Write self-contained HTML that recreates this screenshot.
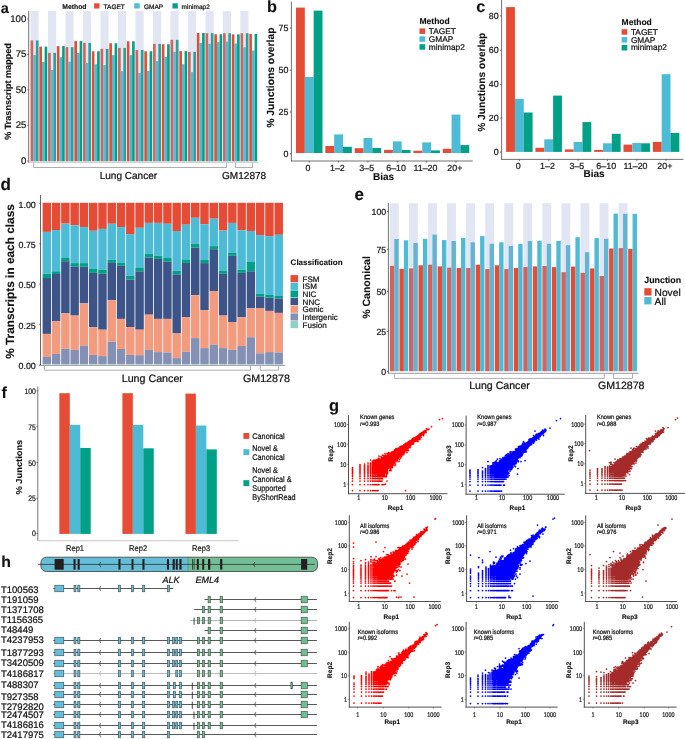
<!DOCTYPE html><html><head><meta charset="utf-8"><style>html,body{margin:0;padding:0;background:#fff;width:685px;height:739px;overflow:hidden}svg{display:block;will-change:transform;text-rendering:geometricPrecision;font-family:"Liberation Sans",sans-serif}</style></head><body><svg width="685" height="739" viewBox="0 0 685 739"><rect width="685" height="739" fill="#fff"/><text transform="translate(0.8 12.6)" font-size="14.5" font-weight="bold" text-anchor="start" fill="#111111" stroke="#111111" stroke-width="0.11">a</text><text transform="translate(62.3 8.6)" font-size="6.8" font-weight="bold" text-anchor="start" fill="#111111" stroke="#111111" stroke-width="0.11">Method</text><rect x="94.1" y="3.3" width="5.4" height="5.2" fill="#E64B35"/><text transform="translate(103.6 8.6)" font-size="6.5" text-anchor="start" fill="#111111" stroke="#111111" stroke-width="0.22">TAGET</text><rect x="134.3" y="3.3" width="5.4" height="5.2" fill="#4DBBD5"/><text transform="translate(144 8.6)" font-size="6.5" text-anchor="start" fill="#111111" stroke="#111111" stroke-width="0.22">GMAP</text><rect x="172.4" y="3.3" width="5.4" height="5.2" fill="#00A087"/><text transform="translate(181.6 8.6)" font-size="6.5" text-anchor="start" fill="#111111" stroke="#111111" stroke-width="0.22">minimap2</text><rect x="30.6" y="40.4" width="2.63" height="120.8" fill="#E64B35"/><rect x="33.23" y="55.1" width="2.63" height="106.1" fill="#4DBBD5"/><rect x="35.87" y="40.4" width="2.63" height="120.8" fill="#00A087"/><rect x="39.35" y="46.6" width="2.63" height="114.6" fill="#E64B35"/><rect x="41.98" y="62" width="2.63" height="99.2" fill="#4DBBD5"/><rect x="44.61" y="46.6" width="2.63" height="114.6" fill="#00A087"/><rect x="48.1" y="52.9" width="2.63" height="108.3" fill="#E64B35"/><rect x="50.73" y="69.9" width="2.63" height="91.3" fill="#4DBBD5"/><rect x="53.36" y="52.9" width="2.63" height="108.3" fill="#00A087"/><rect x="56.84" y="46.1" width="2.63" height="115.1" fill="#E64B35"/><rect x="59.48" y="57.2" width="2.63" height="104" fill="#4DBBD5"/><rect x="62.11" y="46.1" width="2.63" height="115.1" fill="#00A087"/><rect x="65.59" y="47.1" width="2.63" height="114.1" fill="#E64B35"/><rect x="68.23" y="61.7" width="2.63" height="99.5" fill="#4DBBD5"/><rect x="70.86" y="47.1" width="2.63" height="114.1" fill="#00A087"/><rect x="74.34" y="41.1" width="2.63" height="120.1" fill="#E64B35"/><rect x="76.97" y="52.9" width="2.63" height="108.3" fill="#4DBBD5"/><rect x="79.61" y="41.1" width="2.63" height="120.1" fill="#00A087"/><rect x="83.09" y="42.9" width="2.63" height="118.3" fill="#E64B35"/><rect x="85.72" y="62.9" width="2.63" height="98.3" fill="#4DBBD5"/><rect x="88.35" y="42.9" width="2.63" height="118.3" fill="#00A087"/><rect x="91.84" y="51.3" width="2.63" height="109.9" fill="#E64B35"/><rect x="94.47" y="64.2" width="2.63" height="97" fill="#4DBBD5"/><rect x="97.1" y="51.3" width="2.63" height="109.9" fill="#00A087"/><rect x="100.58" y="48.9" width="2.63" height="112.3" fill="#E64B35"/><rect x="103.22" y="65" width="2.63" height="96.2" fill="#4DBBD5"/><rect x="105.85" y="48.9" width="2.63" height="112.3" fill="#00A087"/><rect x="109.33" y="43.3" width="2.63" height="117.9" fill="#E64B35"/><rect x="111.97" y="55.1" width="2.63" height="106.1" fill="#4DBBD5"/><rect x="114.6" y="43.3" width="2.63" height="117.9" fill="#00A087"/><rect x="118.08" y="47.9" width="2.63" height="113.3" fill="#E64B35"/><rect x="120.71" y="71.2" width="2.63" height="90" fill="#4DBBD5"/><rect x="123.35" y="47.9" width="2.63" height="113.3" fill="#00A087"/><rect x="126.83" y="41.3" width="2.63" height="119.9" fill="#E64B35"/><rect x="129.46" y="55.1" width="2.63" height="106.1" fill="#4DBBD5"/><rect x="132.09" y="41.3" width="2.63" height="119.9" fill="#00A087"/><rect x="135.58" y="49.9" width="2.63" height="111.3" fill="#E64B35"/><rect x="138.21" y="72.9" width="2.63" height="88.3" fill="#4DBBD5"/><rect x="140.84" y="49.9" width="2.63" height="111.3" fill="#00A087"/><rect x="144.32" y="51.3" width="2.63" height="109.9" fill="#E64B35"/><rect x="146.96" y="70.9" width="2.63" height="90.3" fill="#4DBBD5"/><rect x="149.59" y="51.3" width="2.63" height="109.9" fill="#00A087"/><rect x="153.07" y="43.9" width="2.63" height="117.3" fill="#E64B35"/><rect x="155.71" y="61.2" width="2.63" height="100" fill="#4DBBD5"/><rect x="158.34" y="43.9" width="2.63" height="117.3" fill="#00A087"/><rect x="161.82" y="44.3" width="2.63" height="116.9" fill="#E64B35"/><rect x="164.45" y="56.8" width="2.63" height="104.4" fill="#4DBBD5"/><rect x="167.09" y="44.3" width="2.63" height="116.9" fill="#00A087"/><rect x="170.57" y="39.8" width="2.63" height="121.4" fill="#E64B35"/><rect x="173.2" y="51.9" width="2.63" height="109.3" fill="#4DBBD5"/><rect x="175.83" y="39.8" width="2.63" height="121.4" fill="#00A087"/><rect x="179.32" y="51.1" width="2.63" height="110.1" fill="#E64B35"/><rect x="181.95" y="64.2" width="2.63" height="97" fill="#4DBBD5"/><rect x="184.58" y="51.1" width="2.63" height="110.1" fill="#00A087"/><rect x="188.06" y="51.9" width="2.63" height="109.3" fill="#E64B35"/><rect x="190.7" y="72.1" width="2.63" height="89.1" fill="#4DBBD5"/><rect x="193.33" y="51.9" width="2.63" height="109.3" fill="#00A087"/><rect x="196.81" y="33" width="2.63" height="128.2" fill="#E64B35"/><rect x="199.45" y="43" width="2.63" height="118.2" fill="#4DBBD5"/><rect x="202.08" y="33" width="2.63" height="128.2" fill="#00A087"/><rect x="205.56" y="33.2" width="2.63" height="128" fill="#E64B35"/><rect x="208.19" y="43.8" width="2.63" height="117.4" fill="#4DBBD5"/><rect x="210.83" y="33.2" width="2.63" height="128" fill="#00A087"/><rect x="214.31" y="34.3" width="2.63" height="126.9" fill="#E64B35"/><rect x="216.94" y="42.2" width="2.63" height="119" fill="#4DBBD5"/><rect x="219.57" y="34.3" width="2.63" height="126.9" fill="#00A087"/><rect x="223.06" y="33.2" width="2.63" height="128" fill="#E64B35"/><rect x="225.69" y="41.6" width="2.63" height="119.6" fill="#4DBBD5"/><rect x="228.32" y="33.2" width="2.63" height="128" fill="#00A087"/><rect x="231.8" y="34.4" width="2.63" height="126.8" fill="#E64B35"/><rect x="234.44" y="43.5" width="2.63" height="117.7" fill="#4DBBD5"/><rect x="237.07" y="34.4" width="2.63" height="126.8" fill="#00A087"/><rect x="240.55" y="33.2" width="2.63" height="128" fill="#E64B35"/><rect x="243.19" y="47.4" width="2.63" height="113.8" fill="#4DBBD5"/><rect x="245.82" y="33.2" width="2.63" height="128" fill="#00A087"/><rect x="249.3" y="34" width="2.63" height="127.2" fill="#E64B35"/><rect x="251.93" y="50.6" width="2.63" height="110.6" fill="#4DBBD5"/><rect x="254.57" y="34" width="2.63" height="127.2" fill="#00A087"/><rect x="30.45" y="11" width="8.2" height="150.2" fill="rgba(150,165,210,0.28)"/><rect x="47.95" y="11" width="8.2" height="150.2" fill="rgba(150,165,210,0.28)"/><rect x="65.44" y="11" width="8.2" height="150.2" fill="rgba(150,165,210,0.28)"/><rect x="82.94" y="11" width="8.2" height="150.2" fill="rgba(150,165,210,0.28)"/><rect x="100.43" y="11" width="8.2" height="150.2" fill="rgba(150,165,210,0.28)"/><rect x="117.93" y="11" width="8.2" height="150.2" fill="rgba(150,165,210,0.28)"/><rect x="135.43" y="11" width="8.2" height="150.2" fill="rgba(150,165,210,0.28)"/><rect x="152.92" y="11" width="8.2" height="150.2" fill="rgba(150,165,210,0.28)"/><rect x="170.42" y="11" width="8.2" height="150.2" fill="rgba(150,165,210,0.28)"/><rect x="187.91" y="11" width="8.2" height="150.2" fill="rgba(150,165,210,0.28)"/><rect x="205.41" y="11" width="8.2" height="150.2" fill="rgba(150,165,210,0.28)"/><rect x="222.91" y="11" width="8.2" height="150.2" fill="rgba(150,165,210,0.28)"/><rect x="240.4" y="11" width="8.2" height="150.2" fill="rgba(150,165,210,0.28)"/><line x1="28.7" y1="10.8" x2="28.7" y2="162.6" stroke="#4d4d4d" stroke-width="0.8"/><line x1="28.3" y1="162.2" x2="258" y2="162.2" stroke="#b4b4b4" stroke-width="0.9"/><line x1="27.2" y1="19" x2="28.7" y2="19" stroke="#4d4d4d" stroke-width="0.8"/><text transform="translate(26.3 21.9)" font-size="9.6" text-anchor="end" fill="#1a1a1a" stroke="#1a1a1a" stroke-width="0.22">100</text><line x1="27.2" y1="54.4" x2="28.7" y2="54.4" stroke="#4d4d4d" stroke-width="0.8"/><text transform="translate(26.3 57.3)" font-size="9.6" text-anchor="end" fill="#1a1a1a" stroke="#1a1a1a" stroke-width="0.22">75</text><line x1="27.2" y1="89.8" x2="28.7" y2="89.8" stroke="#4d4d4d" stroke-width="0.8"/><text transform="translate(26.3 92.7)" font-size="9.6" text-anchor="end" fill="#1a1a1a" stroke="#1a1a1a" stroke-width="0.22">50</text><line x1="27.2" y1="125.4" x2="28.7" y2="125.4" stroke="#4d4d4d" stroke-width="0.8"/><text transform="translate(26.3 128.3)" font-size="9.6" text-anchor="end" fill="#1a1a1a" stroke="#1a1a1a" stroke-width="0.22">25</text><line x1="27.2" y1="161" x2="28.7" y2="161" stroke="#4d4d4d" stroke-width="0.8"/><text transform="translate(26.3 163.9)" font-size="9.6" text-anchor="end" fill="#1a1a1a" stroke="#1a1a1a" stroke-width="0.22">0</text><text transform="translate(11.36 91.5) rotate(-90)" font-size="9.05" font-weight="bold" text-anchor="middle" fill="#111111" stroke="#111111" stroke-width="0.11">% Trasnscript mapped</text><path d="M33.7 162.9V167.5H226.6V162.9M235.4 162.9V167.5H252.6V162.9" fill="none" stroke="#8c8c8c" stroke-width="0.7"/><text transform="translate(128.4 178.8)" font-size="10.05" text-anchor="middle" fill="#111111" stroke="#111111" stroke-width="0.22">Lung Cancer</text><text transform="translate(244.1 178.8)" font-size="10.05" text-anchor="middle" fill="#111111" stroke="#111111" stroke-width="0.22">GM12878</text><text transform="translate(267 12.4)" font-size="16.3" font-weight="bold" text-anchor="start" fill="#111111" stroke="#111111" stroke-width="0.11">b</text><rect x="296" y="7.6" width="8.83" height="145.4" fill="#E64B35"/><rect x="304.83" y="77" width="8.83" height="76" fill="#4DBBD5"/><rect x="313.66" y="10.6" width="8.83" height="142.4" fill="#00A087"/><line x1="309.25" y1="161" x2="309.25" y2="162.6" stroke="#4d4d4d" stroke-width="0.8"/><text transform="translate(308.05 170.9)" font-size="8.9" text-anchor="middle" fill="#1a1a1a" stroke="#1a1a1a" stroke-width="0.22">0</text><rect x="325.35" y="146" width="8.83" height="7" fill="#E64B35"/><rect x="334.18" y="134.4" width="8.83" height="18.6" fill="#4DBBD5"/><rect x="343.01" y="146.8" width="8.83" height="6.2" fill="#00A087"/><line x1="338.6" y1="161" x2="338.6" y2="162.6" stroke="#4d4d4d" stroke-width="0.8"/><text transform="translate(337.4 170.9)" font-size="8.9" text-anchor="middle" fill="#1a1a1a" stroke="#1a1a1a" stroke-width="0.22">1–2</text><rect x="354.7" y="148.2" width="8.83" height="4.8" fill="#E64B35"/><rect x="363.53" y="138" width="8.83" height="15" fill="#4DBBD5"/><rect x="372.36" y="148" width="8.83" height="5" fill="#00A087"/><line x1="367.94" y1="161" x2="367.94" y2="162.6" stroke="#4d4d4d" stroke-width="0.8"/><text transform="translate(366.75 170.9)" font-size="8.9" text-anchor="middle" fill="#1a1a1a" stroke="#1a1a1a" stroke-width="0.22">3–5</text><rect x="384.05" y="149.9" width="8.83" height="3.1" fill="#E64B35"/><rect x="392.88" y="141.4" width="8.83" height="11.6" fill="#4DBBD5"/><rect x="401.71" y="149.9" width="8.83" height="3.1" fill="#00A087"/><line x1="397.3" y1="161" x2="397.3" y2="162.6" stroke="#4d4d4d" stroke-width="0.8"/><text transform="translate(396.1 170.9)" font-size="8.9" text-anchor="middle" fill="#1a1a1a" stroke="#1a1a1a" stroke-width="0.22">6–10</text><rect x="413.4" y="150.7" width="8.83" height="2.3" fill="#E64B35"/><rect x="422.23" y="142.4" width="8.83" height="10.6" fill="#4DBBD5"/><rect x="431.06" y="150.4" width="8.83" height="2.6" fill="#00A087"/><line x1="426.64" y1="161" x2="426.64" y2="162.6" stroke="#4d4d4d" stroke-width="0.8"/><text transform="translate(425.44 170.9)" font-size="8.9" text-anchor="middle" fill="#1a1a1a" stroke="#1a1a1a" stroke-width="0.22">11–20</text><rect x="442.75" y="148.8" width="8.83" height="4.2" fill="#E64B35"/><rect x="451.58" y="114.6" width="8.83" height="38.4" fill="#4DBBD5"/><rect x="460.41" y="145.1" width="8.83" height="7.9" fill="#00A087"/><line x1="456" y1="161" x2="456" y2="162.6" stroke="#4d4d4d" stroke-width="0.8"/><text transform="translate(454.8 170.9)" font-size="8.9" text-anchor="middle" fill="#1a1a1a" stroke="#1a1a1a" stroke-width="0.22">20+</text><line x1="291.4" y1="1.6" x2="291.4" y2="161.4" stroke="#4d4d4d" stroke-width="0.8"/><line x1="291" y1="161" x2="472.8" y2="161" stroke="#4d4d4d" stroke-width="0.8"/><line x1="289.8" y1="153.8" x2="291.4" y2="153.8" stroke="#4d4d4d" stroke-width="0.8"/><text transform="translate(288.4 156.9)" font-size="8.9" text-anchor="end" fill="#1a1a1a" stroke="#1a1a1a" stroke-width="0.22">0</text><line x1="289.8" y1="112" x2="291.4" y2="112" stroke="#4d4d4d" stroke-width="0.8"/><text transform="translate(288.4 115.1)" font-size="8.9" text-anchor="end" fill="#1a1a1a" stroke="#1a1a1a" stroke-width="0.22">25</text><line x1="289.8" y1="70.2" x2="291.4" y2="70.2" stroke="#4d4d4d" stroke-width="0.8"/><text transform="translate(288.4 73.3)" font-size="8.9" text-anchor="end" fill="#1a1a1a" stroke="#1a1a1a" stroke-width="0.22">50</text><line x1="289.8" y1="28" x2="291.4" y2="28" stroke="#4d4d4d" stroke-width="0.8"/><text transform="translate(288.4 31.1)" font-size="8.9" text-anchor="end" fill="#1a1a1a" stroke="#1a1a1a" stroke-width="0.22">75</text><text transform="translate(274.11 77.6) rotate(-90)" font-size="10.3" font-weight="bold" text-anchor="middle" fill="#111111" stroke="#111111" stroke-width="0.11">% Junctions overlap</text><text transform="translate(383.5 180)" font-size="10" font-weight="bold" text-anchor="middle" fill="#111111" stroke="#111111" stroke-width="0.11">Bias</text><text transform="translate(419.5 24.1)" font-size="8.5" font-weight="bold" text-anchor="start" fill="#111111" stroke="#111111" stroke-width="0.11">Method</text><rect x="419.5" y="28.4" width="5.7" height="5.5" fill="#E64B35"/><text transform="translate(428.8 33.8)" font-size="8.3" text-anchor="start" fill="#111111" stroke="#111111" stroke-width="0.22">TAGET</text><rect x="419.5" y="36.3" width="5.7" height="5.5" fill="#4DBBD5"/><text transform="translate(428.8 41.7)" font-size="8.3" text-anchor="start" fill="#111111" stroke="#111111" stroke-width="0.22">GMAP</text><rect x="419.5" y="44.2" width="5.7" height="5.5" fill="#00A087"/><text transform="translate(428.8 49.6)" font-size="8.3" text-anchor="start" fill="#111111" stroke="#111111" stroke-width="0.22">minimap2</text><text transform="translate(476.2 12.3)" font-size="16.3" font-weight="bold" text-anchor="start" fill="#111111" stroke="#111111" stroke-width="0.11">c</text><rect x="506.1" y="7.1" width="8.83" height="144.8" fill="#E64B35"/><rect x="514.93" y="98.8" width="8.83" height="53.1" fill="#4DBBD5"/><rect x="523.76" y="112.5" width="8.83" height="39.4" fill="#00A087"/><line x1="519.35" y1="159.4" x2="519.35" y2="161" stroke="#4d4d4d" stroke-width="0.8"/><text transform="translate(518.14 168.5)" font-size="8.9" text-anchor="middle" fill="#1a1a1a" stroke="#1a1a1a" stroke-width="0.22">0</text><rect x="535.45" y="147.8" width="8.83" height="4.1" fill="#E64B35"/><rect x="544.28" y="139.3" width="8.83" height="12.6" fill="#4DBBD5"/><rect x="553.11" y="95.6" width="8.83" height="56.3" fill="#00A087"/><line x1="548.7" y1="159.4" x2="548.7" y2="161" stroke="#4d4d4d" stroke-width="0.8"/><text transform="translate(547.5 168.5)" font-size="8.9" text-anchor="middle" fill="#1a1a1a" stroke="#1a1a1a" stroke-width="0.22">1–2</text><rect x="564.8" y="149.4" width="8.83" height="2.5" fill="#E64B35"/><rect x="573.63" y="142" width="8.83" height="9.9" fill="#4DBBD5"/><rect x="582.46" y="122.1" width="8.83" height="29.8" fill="#00A087"/><line x1="578.05" y1="159.4" x2="578.05" y2="161" stroke="#4d4d4d" stroke-width="0.8"/><text transform="translate(576.85 168.5)" font-size="8.9" text-anchor="middle" fill="#1a1a1a" stroke="#1a1a1a" stroke-width="0.22">3–5</text><rect x="594.15" y="149.9" width="8.83" height="2" fill="#E64B35"/><rect x="602.98" y="143.3" width="8.83" height="8.6" fill="#4DBBD5"/><rect x="611.81" y="133.8" width="8.83" height="18.1" fill="#00A087"/><line x1="607.4" y1="159.4" x2="607.4" y2="161" stroke="#4d4d4d" stroke-width="0.8"/><text transform="translate(606.2 168.5)" font-size="8.9" text-anchor="middle" fill="#1a1a1a" stroke="#1a1a1a" stroke-width="0.22">6–10</text><rect x="623.5" y="144.6" width="8.83" height="7.3" fill="#E64B35"/><rect x="632.33" y="143" width="8.83" height="8.9" fill="#4DBBD5"/><rect x="641.16" y="143.3" width="8.83" height="8.6" fill="#00A087"/><line x1="636.75" y1="159.4" x2="636.75" y2="161" stroke="#4d4d4d" stroke-width="0.8"/><text transform="translate(635.54 168.5)" font-size="8.9" text-anchor="middle" fill="#1a1a1a" stroke="#1a1a1a" stroke-width="0.22">11–20</text><rect x="652.85" y="141.9" width="8.83" height="10" fill="#E64B35"/><rect x="661.68" y="74.2" width="8.83" height="77.7" fill="#4DBBD5"/><rect x="670.51" y="133" width="8.83" height="18.9" fill="#00A087"/><line x1="666.1" y1="159.4" x2="666.1" y2="161" stroke="#4d4d4d" stroke-width="0.8"/><text transform="translate(664.89 168.5)" font-size="8.9" text-anchor="middle" fill="#1a1a1a" stroke="#1a1a1a" stroke-width="0.22">20+</text><line x1="501.6" y1="0" x2="501.6" y2="159.8" stroke="#4d4d4d" stroke-width="0.8"/><line x1="501.2" y1="159.4" x2="683.4" y2="159.4" stroke="#4d4d4d" stroke-width="0.8"/><line x1="500" y1="152.1" x2="501.6" y2="152.1" stroke="#4d4d4d" stroke-width="0.8"/><text transform="translate(498.6 155.2)" font-size="8.9" text-anchor="end" fill="#1a1a1a" stroke="#1a1a1a" stroke-width="0.22">0</text><line x1="500" y1="118.1" x2="501.6" y2="118.1" stroke="#4d4d4d" stroke-width="0.8"/><text transform="translate(498.6 121.2)" font-size="8.9" text-anchor="end" fill="#1a1a1a" stroke="#1a1a1a" stroke-width="0.22">20</text><line x1="500" y1="84.3" x2="501.6" y2="84.3" stroke="#4d4d4d" stroke-width="0.8"/><text transform="translate(498.6 87.4)" font-size="8.9" text-anchor="end" fill="#1a1a1a" stroke="#1a1a1a" stroke-width="0.22">40</text><line x1="500" y1="50.3" x2="501.6" y2="50.3" stroke="#4d4d4d" stroke-width="0.8"/><text transform="translate(498.6 53.4)" font-size="8.9" text-anchor="end" fill="#1a1a1a" stroke="#1a1a1a" stroke-width="0.22">60</text><line x1="500" y1="15.8" x2="501.6" y2="15.8" stroke="#4d4d4d" stroke-width="0.8"/><text transform="translate(498.6 18.9)" font-size="8.9" text-anchor="end" fill="#1a1a1a" stroke="#1a1a1a" stroke-width="0.22">80</text><text transform="translate(484.67 82.3) rotate(-90)" font-size="10.2" font-weight="bold" text-anchor="middle" fill="#111111" stroke="#111111" stroke-width="0.11">% Junctions overlap</text><text transform="translate(594 177.4)" font-size="10" font-weight="bold" text-anchor="middle" fill="#111111" stroke="#111111" stroke-width="0.11">Bias</text><text transform="translate(621.6 24.9)" font-size="8.5" font-weight="bold" text-anchor="start" fill="#111111" stroke="#111111" stroke-width="0.11">Method</text><rect x="621.6" y="29.2" width="5.7" height="5.5" fill="#E64B35"/><text transform="translate(630.9 34.6)" font-size="8.3" text-anchor="start" fill="#111111" stroke="#111111" stroke-width="0.22">TAGET</text><rect x="621.6" y="37.1" width="5.7" height="5.5" fill="#4DBBD5"/><text transform="translate(630.9 42.5)" font-size="8.3" text-anchor="start" fill="#111111" stroke="#111111" stroke-width="0.22">GMAP</text><rect x="621.6" y="45" width="5.7" height="5.5" fill="#00A087"/><text transform="translate(630.9 50.4)" font-size="8.3" text-anchor="start" fill="#111111" stroke="#111111" stroke-width="0.22">minimap2</text><text transform="translate(0.5 190.1)" font-size="17" font-weight="bold" text-anchor="start" fill="#111111" stroke="#111111" stroke-width="0.11">d</text><rect x="42.6" y="202.8" width="8.45" height="29.1" fill="#E64B35"/><rect x="42.6" y="231.9" width="8.45" height="41.9" fill="#4DBBD5"/><rect x="42.6" y="273.8" width="8.45" height="4.2" fill="#00A087"/><rect x="42.6" y="278" width="8.45" height="55.9" fill="#3C5488"/><rect x="42.6" y="333.9" width="8.45" height="23.1" fill="#F39B7F"/><rect x="42.6" y="357" width="8.45" height="7.4" fill="#8491B4"/><rect x="42.6" y="363.9" width="8.45" height="0.5" fill="#91D1C2"/><rect x="51.88" y="202.8" width="8.45" height="27.2" fill="#E64B35"/><rect x="51.88" y="230" width="8.45" height="41.3" fill="#4DBBD5"/><rect x="51.88" y="271.3" width="8.45" height="2.7" fill="#00A087"/><rect x="51.88" y="274" width="8.45" height="47.1" fill="#3C5488"/><rect x="51.88" y="321.1" width="8.45" height="32.8" fill="#F39B7F"/><rect x="51.88" y="353.9" width="8.45" height="10.5" fill="#8491B4"/><rect x="51.88" y="363.9" width="8.45" height="0.5" fill="#91D1C2"/><rect x="61.15" y="202.8" width="8.45" height="20.8" fill="#E64B35"/><rect x="61.15" y="223.6" width="8.45" height="34.4" fill="#4DBBD5"/><rect x="61.15" y="258" width="8.45" height="3.2" fill="#00A087"/><rect x="61.15" y="261.2" width="8.45" height="52.2" fill="#3C5488"/><rect x="61.15" y="313.4" width="8.45" height="35.4" fill="#F39B7F"/><rect x="61.15" y="348.8" width="8.45" height="15.6" fill="#8491B4"/><rect x="61.15" y="363.9" width="8.45" height="0.5" fill="#91D1C2"/><rect x="70.43" y="202.8" width="8.45" height="22.5" fill="#E64B35"/><rect x="70.43" y="225.3" width="8.45" height="37.8" fill="#4DBBD5"/><rect x="70.43" y="263.1" width="8.45" height="3.6" fill="#00A087"/><rect x="70.43" y="266.7" width="8.45" height="48.9" fill="#3C5488"/><rect x="70.43" y="315.6" width="8.45" height="34.3" fill="#F39B7F"/><rect x="70.43" y="349.9" width="8.45" height="14.5" fill="#8491B4"/><rect x="70.43" y="363.9" width="8.45" height="0.5" fill="#91D1C2"/><rect x="79.7" y="202.8" width="8.45" height="24.3" fill="#E64B35"/><rect x="79.7" y="227.1" width="8.45" height="36" fill="#4DBBD5"/><rect x="79.7" y="263.1" width="8.45" height="3.6" fill="#00A087"/><rect x="79.7" y="266.7" width="8.45" height="36.7" fill="#3C5488"/><rect x="79.7" y="303.4" width="8.45" height="42.3" fill="#F39B7F"/><rect x="79.7" y="345.7" width="8.45" height="18.7" fill="#8491B4"/><rect x="79.7" y="363.9" width="8.45" height="0.5" fill="#91D1C2"/><rect x="88.98" y="202.8" width="8.45" height="28" fill="#E64B35"/><rect x="88.98" y="230.8" width="8.45" height="38.1" fill="#4DBBD5"/><rect x="88.98" y="268.9" width="8.45" height="4" fill="#00A087"/><rect x="88.98" y="272.9" width="8.45" height="54.2" fill="#3C5488"/><rect x="88.98" y="327.1" width="8.45" height="27.8" fill="#F39B7F"/><rect x="88.98" y="354.9" width="8.45" height="9.5" fill="#8491B4"/><rect x="88.98" y="363.9" width="8.45" height="0.5" fill="#91D1C2"/><rect x="98.26" y="202.8" width="8.45" height="26.1" fill="#E64B35"/><rect x="98.26" y="228.9" width="8.45" height="40.9" fill="#4DBBD5"/><rect x="98.26" y="269.8" width="8.45" height="4" fill="#00A087"/><rect x="98.26" y="273.8" width="8.45" height="55.9" fill="#3C5488"/><rect x="98.26" y="329.7" width="8.45" height="26.4" fill="#F39B7F"/><rect x="98.26" y="356.1" width="8.45" height="8.3" fill="#8491B4"/><rect x="98.26" y="363.9" width="8.45" height="0.5" fill="#91D1C2"/><rect x="107.53" y="202.8" width="8.45" height="21" fill="#E64B35"/><rect x="107.53" y="223.8" width="8.45" height="36" fill="#4DBBD5"/><rect x="107.53" y="259.8" width="8.45" height="3.1" fill="#00A087"/><rect x="107.53" y="262.9" width="8.45" height="37.2" fill="#3C5488"/><rect x="107.53" y="300.1" width="8.45" height="41.6" fill="#F39B7F"/><rect x="107.53" y="341.7" width="8.45" height="22.7" fill="#8491B4"/><rect x="107.53" y="363.9" width="8.45" height="0.5" fill="#91D1C2"/><rect x="116.81" y="202.8" width="8.45" height="24.3" fill="#E64B35"/><rect x="116.81" y="227.1" width="8.45" height="35.4" fill="#4DBBD5"/><rect x="116.81" y="262.5" width="8.45" height="3.3" fill="#00A087"/><rect x="116.81" y="265.8" width="8.45" height="53.1" fill="#3C5488"/><rect x="116.81" y="318.9" width="8.45" height="30.1" fill="#F39B7F"/><rect x="116.81" y="349" width="8.45" height="15.4" fill="#8491B4"/><rect x="116.81" y="363.9" width="8.45" height="0.5" fill="#91D1C2"/><rect x="126.08" y="202.8" width="8.45" height="31.3" fill="#E64B35"/><rect x="126.08" y="234.1" width="8.45" height="41.7" fill="#4DBBD5"/><rect x="126.08" y="275.8" width="8.45" height="3.7" fill="#00A087"/><rect x="126.08" y="279.5" width="8.45" height="47.6" fill="#3C5488"/><rect x="126.08" y="327.1" width="8.45" height="27.8" fill="#F39B7F"/><rect x="126.08" y="354.9" width="8.45" height="9.5" fill="#8491B4"/><rect x="126.08" y="363.9" width="8.45" height="0.5" fill="#91D1C2"/><rect x="135.36" y="202.8" width="8.45" height="25" fill="#E64B35"/><rect x="135.36" y="227.8" width="8.45" height="40.2" fill="#4DBBD5"/><rect x="135.36" y="268" width="8.45" height="3.3" fill="#00A087"/><rect x="135.36" y="271.3" width="8.45" height="58.4" fill="#3C5488"/><rect x="135.36" y="329.7" width="8.45" height="25.5" fill="#F39B7F"/><rect x="135.36" y="355.2" width="8.45" height="9.2" fill="#8491B4"/><rect x="135.36" y="363.9" width="8.45" height="0.5" fill="#91D1C2"/><rect x="144.64" y="202.8" width="8.45" height="20.1" fill="#E64B35"/><rect x="144.64" y="222.9" width="8.45" height="31" fill="#4DBBD5"/><rect x="144.64" y="253.9" width="8.45" height="3.7" fill="#00A087"/><rect x="144.64" y="257.6" width="8.45" height="57.1" fill="#3C5488"/><rect x="144.64" y="314.7" width="8.45" height="35.2" fill="#F39B7F"/><rect x="144.64" y="349.9" width="8.45" height="14.5" fill="#8491B4"/><rect x="144.64" y="363.9" width="8.45" height="0.5" fill="#91D1C2"/><rect x="153.91" y="202.8" width="8.45" height="20.1" fill="#E64B35"/><rect x="153.91" y="222.9" width="8.45" height="32.9" fill="#4DBBD5"/><rect x="153.91" y="255.8" width="8.45" height="3.1" fill="#00A087"/><rect x="153.91" y="258.9" width="8.45" height="60" fill="#3C5488"/><rect x="153.91" y="318.9" width="8.45" height="33.2" fill="#F39B7F"/><rect x="153.91" y="352.1" width="8.45" height="12.3" fill="#8491B4"/><rect x="153.91" y="363.9" width="8.45" height="0.5" fill="#91D1C2"/><rect x="163.19" y="202.8" width="8.45" height="21" fill="#E64B35"/><rect x="163.19" y="223.8" width="8.45" height="34.2" fill="#4DBBD5"/><rect x="163.19" y="258" width="8.45" height="3.6" fill="#00A087"/><rect x="163.19" y="261.6" width="8.45" height="57.3" fill="#3C5488"/><rect x="163.19" y="318.9" width="8.45" height="33.6" fill="#F39B7F"/><rect x="163.19" y="352.5" width="8.45" height="11.9" fill="#8491B4"/><rect x="163.19" y="363.9" width="8.45" height="0.5" fill="#91D1C2"/><rect x="172.46" y="202.8" width="8.45" height="28.2" fill="#E64B35"/><rect x="172.46" y="231" width="8.45" height="39.7" fill="#4DBBD5"/><rect x="172.46" y="270.7" width="8.45" height="3.7" fill="#00A087"/><rect x="172.46" y="274.4" width="8.45" height="59.1" fill="#3C5488"/><rect x="172.46" y="333.5" width="8.45" height="24.6" fill="#F39B7F"/><rect x="172.46" y="358.1" width="8.45" height="6.3" fill="#8491B4"/><rect x="172.46" y="363.9" width="8.45" height="0.5" fill="#91D1C2"/><rect x="181.74" y="202.8" width="8.45" height="21.9" fill="#E64B35"/><rect x="181.74" y="224.7" width="8.45" height="34.7" fill="#4DBBD5"/><rect x="181.74" y="259.4" width="8.45" height="3.5" fill="#00A087"/><rect x="181.74" y="262.9" width="8.45" height="54.2" fill="#3C5488"/><rect x="181.74" y="317.1" width="8.45" height="34.7" fill="#F39B7F"/><rect x="181.74" y="351.8" width="8.45" height="12.6" fill="#8491B4"/><rect x="181.74" y="363.9" width="8.45" height="0.5" fill="#91D1C2"/><rect x="191.02" y="202.8" width="8.45" height="15" fill="#E64B35"/><rect x="191.02" y="217.8" width="8.45" height="26.1" fill="#4DBBD5"/><rect x="191.02" y="243.9" width="8.45" height="3.7" fill="#00A087"/><rect x="191.02" y="247.6" width="8.45" height="47.6" fill="#3C5488"/><rect x="191.02" y="295.2" width="8.45" height="42.9" fill="#F39B7F"/><rect x="191.02" y="338.1" width="8.45" height="26.3" fill="#8491B4"/><rect x="191.02" y="363.9" width="8.45" height="0.5" fill="#91D1C2"/><rect x="200.29" y="202.8" width="8.45" height="21.4" fill="#E64B35"/><rect x="200.29" y="224.2" width="8.45" height="35.8" fill="#4DBBD5"/><rect x="200.29" y="260" width="8.45" height="3.1" fill="#00A087"/><rect x="200.29" y="263.1" width="8.45" height="47" fill="#3C5488"/><rect x="200.29" y="310.1" width="8.45" height="38" fill="#F39B7F"/><rect x="200.29" y="348.1" width="8.45" height="16.3" fill="#8491B4"/><rect x="200.29" y="363.9" width="8.45" height="0.5" fill="#91D1C2"/><rect x="209.57" y="202.8" width="8.45" height="15.9" fill="#E64B35"/><rect x="209.57" y="218.7" width="8.45" height="27.4" fill="#4DBBD5"/><rect x="209.57" y="246.1" width="8.45" height="3.1" fill="#00A087"/><rect x="209.57" y="249.2" width="8.45" height="41.8" fill="#3C5488"/><rect x="209.57" y="291" width="8.45" height="53.8" fill="#F39B7F"/><rect x="209.57" y="344.8" width="8.45" height="19.6" fill="#8491B4"/><rect x="209.57" y="363.9" width="8.45" height="0.5" fill="#91D1C2"/><rect x="218.84" y="202.8" width="8.45" height="27.8" fill="#E64B35"/><rect x="218.84" y="230.6" width="8.45" height="40.1" fill="#4DBBD5"/><rect x="218.84" y="270.7" width="8.45" height="3.1" fill="#00A087"/><rect x="218.84" y="273.8" width="8.45" height="41.8" fill="#3C5488"/><rect x="218.84" y="315.6" width="8.45" height="32.5" fill="#F39B7F"/><rect x="218.84" y="348.1" width="8.45" height="16.3" fill="#8491B4"/><rect x="218.84" y="363.9" width="8.45" height="0.5" fill="#91D1C2"/><rect x="228.12" y="202.8" width="8.45" height="20.1" fill="#E64B35"/><rect x="228.12" y="222.9" width="8.45" height="30.1" fill="#4DBBD5"/><rect x="228.12" y="253" width="8.45" height="2.8" fill="#00A087"/><rect x="228.12" y="255.8" width="8.45" height="66.2" fill="#3C5488"/><rect x="228.12" y="322" width="8.45" height="27.9" fill="#F39B7F"/><rect x="228.12" y="349.9" width="8.45" height="14.5" fill="#8491B4"/><rect x="228.12" y="363.9" width="8.45" height="0.5" fill="#91D1C2"/><rect x="237.4" y="202.8" width="8.45" height="27.4" fill="#E64B35"/><rect x="237.4" y="230.2" width="8.45" height="39.6" fill="#4DBBD5"/><rect x="237.4" y="269.8" width="8.45" height="3.1" fill="#00A087"/><rect x="237.4" y="272.9" width="8.45" height="44.2" fill="#3C5488"/><rect x="237.4" y="317.1" width="8.45" height="28.8" fill="#F39B7F"/><rect x="237.4" y="345.9" width="8.45" height="18.5" fill="#8491B4"/><rect x="237.4" y="363.9" width="8.45" height="0.5" fill="#91D1C2"/><rect x="246.67" y="202.8" width="8.45" height="28.2" fill="#E64B35"/><rect x="246.67" y="231" width="8.45" height="31" fill="#4DBBD5"/><rect x="246.67" y="262" width="8.45" height="9.3" fill="#00A087"/><rect x="246.67" y="271.3" width="8.45" height="37" fill="#3C5488"/><rect x="246.67" y="308.3" width="8.45" height="28.9" fill="#F39B7F"/><rect x="246.67" y="337.2" width="8.45" height="27.2" fill="#8491B4"/><rect x="246.67" y="363.9" width="8.45" height="0.5" fill="#91D1C2"/><rect x="255.95" y="202.8" width="8.45" height="32.3" fill="#E64B35"/><rect x="255.95" y="235.1" width="8.45" height="58.6" fill="#4DBBD5"/><rect x="255.95" y="293.7" width="8.45" height="2.8" fill="#00A087"/><rect x="255.95" y="296.5" width="8.45" height="11.5" fill="#3C5488"/><rect x="255.95" y="308" width="8.45" height="45.4" fill="#F39B7F"/><rect x="255.95" y="353.4" width="8.45" height="11" fill="#8491B4"/><rect x="255.95" y="363.9" width="8.45" height="0.5" fill="#91D1C2"/><rect x="265.22" y="202.8" width="8.45" height="33.3" fill="#E64B35"/><rect x="265.22" y="236.1" width="8.45" height="58.9" fill="#4DBBD5"/><rect x="265.22" y="295" width="8.45" height="2.7" fill="#00A087"/><rect x="265.22" y="297.7" width="8.45" height="13.2" fill="#3C5488"/><rect x="265.22" y="310.9" width="8.45" height="41.2" fill="#F39B7F"/><rect x="265.22" y="352.1" width="8.45" height="12.3" fill="#8491B4"/><rect x="265.22" y="363.9" width="8.45" height="0.5" fill="#91D1C2"/><rect x="274.5" y="202.8" width="8.45" height="32" fill="#E64B35"/><rect x="274.5" y="234.8" width="8.45" height="61.1" fill="#4DBBD5"/><rect x="274.5" y="295.9" width="8.45" height="2.7" fill="#00A087"/><rect x="274.5" y="298.6" width="8.45" height="14.3" fill="#3C5488"/><rect x="274.5" y="312.9" width="8.45" height="39.6" fill="#F39B7F"/><rect x="274.5" y="352.5" width="8.45" height="11.9" fill="#8491B4"/><rect x="274.5" y="363.9" width="8.45" height="0.5" fill="#91D1C2"/><line x1="40.5" y1="195" x2="40.5" y2="366" stroke="#666" stroke-width="1"/><line x1="39.2" y1="365.5" x2="285.2" y2="365.5" stroke="#a8a8a8" stroke-width="1"/><line x1="39.2" y1="203.4" x2="40.5" y2="203.4" stroke="#4d4d4d" stroke-width="0.8"/><text transform="translate(35.8 207.7)" font-size="8.9" text-anchor="end" fill="#1a1a1a" stroke="#1a1a1a" stroke-width="0.22">1.00</text><line x1="39.2" y1="243.7" x2="40.5" y2="243.7" stroke="#4d4d4d" stroke-width="0.8"/><text transform="translate(35.8 248)" font-size="8.9" text-anchor="end" fill="#1a1a1a" stroke="#1a1a1a" stroke-width="0.22">0.75</text><line x1="39.2" y1="284.1" x2="40.5" y2="284.1" stroke="#4d4d4d" stroke-width="0.8"/><text transform="translate(35.8 288.4)" font-size="8.9" text-anchor="end" fill="#1a1a1a" stroke="#1a1a1a" stroke-width="0.22">0.50</text><line x1="39.2" y1="324.5" x2="40.5" y2="324.5" stroke="#4d4d4d" stroke-width="0.8"/><text transform="translate(35.8 328.8)" font-size="8.9" text-anchor="end" fill="#1a1a1a" stroke="#1a1a1a" stroke-width="0.22">0.25</text><line x1="39.2" y1="364.9" x2="40.5" y2="364.9" stroke="#4d4d4d" stroke-width="0.8"/><text transform="translate(35.8 369.2)" font-size="8.9" text-anchor="end" fill="#1a1a1a" stroke="#1a1a1a" stroke-width="0.22">0.00</text><text transform="translate(14.27 281.5) rotate(-90)" font-size="11.85" font-weight="bold" text-anchor="middle" fill="#111111" stroke="#111111" stroke-width="0.11">% Transcripts in each class</text><path d="M44.4 365.8V370.2H250.5V365.8M260.2 365.8V370.2H278.6V365.8" fill="none" stroke="#8c8c8c" stroke-width="0.7"/><text transform="translate(152.3 381.8)" font-size="10.7" text-anchor="middle" fill="#111111" stroke="#111111" stroke-width="0.22">Lung Cancer</text><text transform="translate(266.4 381.8)" font-size="10.7" text-anchor="middle" fill="#111111" stroke="#111111" stroke-width="0.22">GM12878</text><text transform="translate(290.6 264.6)" font-size="8" font-weight="bold" text-anchor="start" fill="#111111" stroke="#111111" stroke-width="0.11">Classification</text><rect x="290.5" y="275.1" width="7.6" height="7.1" fill="#E64B35"/><text transform="translate(302.6 281.8)" font-size="8" text-anchor="start" fill="#111111" stroke="#111111" stroke-width="0.22">FSM</text><rect x="290.5" y="282.76" width="7.6" height="7.1" fill="#4DBBD5"/><text transform="translate(302.6 289.46)" font-size="8" text-anchor="start" fill="#111111" stroke="#111111" stroke-width="0.22">ISM</text><rect x="290.5" y="290.42" width="7.6" height="7.1" fill="#00A087"/><text transform="translate(302.6 297.12)" font-size="8" text-anchor="start" fill="#111111" stroke="#111111" stroke-width="0.22">NIC</text><rect x="290.5" y="298.08" width="7.6" height="7.1" fill="#3C5488"/><text transform="translate(302.6 304.78)" font-size="8" text-anchor="start" fill="#111111" stroke="#111111" stroke-width="0.22">NNC</text><rect x="290.5" y="305.74" width="7.6" height="7.1" fill="#F39B7F"/><text transform="translate(302.6 312.44)" font-size="8" text-anchor="start" fill="#111111" stroke="#111111" stroke-width="0.22">Genic</text><rect x="290.5" y="313.4" width="7.6" height="7.1" fill="#8491B4"/><text transform="translate(302.6 320.1)" font-size="8" text-anchor="start" fill="#111111" stroke="#111111" stroke-width="0.22">Intergenic</text><rect x="290.5" y="321.06" width="7.6" height="7.1" fill="#91D1C2"/><text transform="translate(302.6 327.76)" font-size="8" text-anchor="start" fill="#111111" stroke="#111111" stroke-width="0.22">Fusion</text><text transform="translate(354.5 199.8)" font-size="17" font-weight="bold" text-anchor="start" fill="#111111" stroke="#111111" stroke-width="0.11">e</text><rect x="389.95" y="265.8" width="4.38" height="105.4" fill="#E64B35"/><rect x="394.33" y="239" width="4.38" height="132.2" fill="#4DBBD5"/><rect x="399.48" y="268.9" width="4.38" height="102.3" fill="#E64B35"/><rect x="403.86" y="240.3" width="4.38" height="130.9" fill="#4DBBD5"/><rect x="409.01" y="268.4" width="4.38" height="102.8" fill="#E64B35"/><rect x="413.39" y="243" width="4.38" height="128.2" fill="#4DBBD5"/><rect x="418.54" y="265.3" width="4.38" height="105.9" fill="#E64B35"/><rect x="422.92" y="238.8" width="4.38" height="132.4" fill="#4DBBD5"/><rect x="428.07" y="264.7" width="4.38" height="106.5" fill="#E64B35"/><rect x="432.45" y="234.6" width="4.38" height="136.6" fill="#4DBBD5"/><rect x="437.6" y="266.4" width="4.38" height="104.8" fill="#E64B35"/><rect x="441.98" y="240.1" width="4.38" height="131.1" fill="#4DBBD5"/><rect x="447.13" y="267.7" width="4.38" height="103.5" fill="#E64B35"/><rect x="451.51" y="241" width="4.38" height="130.2" fill="#4DBBD5"/><rect x="456.66" y="268" width="4.38" height="103.2" fill="#E64B35"/><rect x="461.04" y="237.9" width="4.38" height="133.3" fill="#4DBBD5"/><rect x="466.19" y="268" width="4.38" height="103.2" fill="#E64B35"/><rect x="470.57" y="242.3" width="4.38" height="128.9" fill="#4DBBD5"/><rect x="475.72" y="264.7" width="4.38" height="106.5" fill="#E64B35"/><rect x="480.1" y="236.1" width="4.38" height="135.1" fill="#4DBBD5"/><rect x="485.25" y="269.1" width="4.38" height="102.1" fill="#E64B35"/><rect x="489.63" y="243.8" width="4.38" height="127.4" fill="#4DBBD5"/><rect x="494.78" y="265.3" width="4.38" height="105.9" fill="#E64B35"/><rect x="499.16" y="242.3" width="4.38" height="128.9" fill="#4DBBD5"/><rect x="504.31" y="269.1" width="4.38" height="102.1" fill="#E64B35"/><rect x="508.69" y="246" width="4.38" height="125.2" fill="#4DBBD5"/><rect x="513.84" y="268" width="4.38" height="103.2" fill="#E64B35"/><rect x="518.22" y="243.9" width="4.38" height="127.3" fill="#4DBBD5"/><rect x="523.37" y="267.1" width="4.38" height="104.1" fill="#E64B35"/><rect x="527.75" y="241" width="4.38" height="130.2" fill="#4DBBD5"/><rect x="532.9" y="266.4" width="4.38" height="104.8" fill="#E64B35"/><rect x="537.28" y="240.8" width="4.38" height="130.4" fill="#4DBBD5"/><rect x="542.43" y="266" width="4.38" height="105.2" fill="#E64B35"/><rect x="546.81" y="243.8" width="4.38" height="127.4" fill="#4DBBD5"/><rect x="551.96" y="267.1" width="4.38" height="104.1" fill="#E64B35"/><rect x="556.34" y="241" width="4.38" height="130.2" fill="#4DBBD5"/><rect x="561.49" y="272.2" width="4.38" height="99" fill="#E64B35"/><rect x="565.87" y="245.2" width="4.38" height="126" fill="#4DBBD5"/><rect x="571.02" y="266.6" width="4.38" height="104.6" fill="#E64B35"/><rect x="575.4" y="237.2" width="4.38" height="134" fill="#4DBBD5"/><rect x="580.55" y="272.8" width="4.38" height="98.4" fill="#E64B35"/><rect x="584.93" y="252.2" width="4.38" height="119" fill="#4DBBD5"/><rect x="590.08" y="268.4" width="4.38" height="102.8" fill="#E64B35"/><rect x="594.46" y="238.1" width="4.38" height="133.1" fill="#4DBBD5"/><rect x="599.61" y="276" width="4.38" height="95.2" fill="#E64B35"/><rect x="603.99" y="238.8" width="4.38" height="132.4" fill="#4DBBD5"/><rect x="609.14" y="248.5" width="4.38" height="122.7" fill="#E64B35"/><rect x="613.52" y="213.6" width="4.38" height="157.6" fill="#4DBBD5"/><rect x="618.67" y="248.1" width="4.38" height="123.1" fill="#E64B35"/><rect x="623.05" y="213.8" width="4.38" height="157.4" fill="#4DBBD5"/><rect x="628.2" y="248.9" width="4.38" height="122.3" fill="#E64B35"/><rect x="632.58" y="213.8" width="4.38" height="157.4" fill="#4DBBD5"/><rect x="389.85" y="203.2" width="8.95" height="168" fill="rgba(150,165,210,0.28)"/><rect x="408.91" y="203.2" width="8.95" height="168" fill="rgba(150,165,210,0.28)"/><rect x="427.97" y="203.2" width="8.95" height="168" fill="rgba(150,165,210,0.28)"/><rect x="447.03" y="203.2" width="8.95" height="168" fill="rgba(150,165,210,0.28)"/><rect x="466.09" y="203.2" width="8.95" height="168" fill="rgba(150,165,210,0.28)"/><rect x="485.15" y="203.2" width="8.95" height="168" fill="rgba(150,165,210,0.28)"/><rect x="504.21" y="203.2" width="8.95" height="168" fill="rgba(150,165,210,0.28)"/><rect x="523.27" y="203.2" width="8.95" height="168" fill="rgba(150,165,210,0.28)"/><rect x="542.33" y="203.2" width="8.95" height="168" fill="rgba(150,165,210,0.28)"/><rect x="561.39" y="203.2" width="8.95" height="168" fill="rgba(150,165,210,0.28)"/><rect x="580.45" y="203.2" width="8.95" height="168" fill="rgba(150,165,210,0.28)"/><rect x="599.51" y="203.2" width="8.95" height="168" fill="rgba(150,165,210,0.28)"/><rect x="618.57" y="203.2" width="8.95" height="168" fill="rgba(150,165,210,0.28)"/><line x1="388.4" y1="203" x2="388.4" y2="373.8" stroke="#4d4d4d" stroke-width="0.8"/><line x1="388.4" y1="373.3" x2="638.6" y2="373.3" stroke="#9a9a9a" stroke-width="1"/><line x1="386.8" y1="211.5" x2="388.4" y2="211.5" stroke="#4d4d4d" stroke-width="0.8"/><text transform="translate(386.2 215)" font-size="8.8" text-anchor="end" fill="#1a1a1a" stroke="#1a1a1a" stroke-width="0.22">100</text><line x1="386.8" y1="249.4" x2="388.4" y2="249.4" stroke="#4d4d4d" stroke-width="0.8"/><text transform="translate(386.2 252.9)" font-size="8.8" text-anchor="end" fill="#1a1a1a" stroke="#1a1a1a" stroke-width="0.22">75</text><line x1="386.8" y1="291.2" x2="388.4" y2="291.2" stroke="#4d4d4d" stroke-width="0.8"/><text transform="translate(386.2 294.7)" font-size="8.8" text-anchor="end" fill="#1a1a1a" stroke="#1a1a1a" stroke-width="0.22">50</text><line x1="386.8" y1="331.5" x2="388.4" y2="331.5" stroke="#4d4d4d" stroke-width="0.8"/><text transform="translate(386.2 335)" font-size="8.8" text-anchor="end" fill="#1a1a1a" stroke="#1a1a1a" stroke-width="0.22">25</text><line x1="386.8" y1="371.4" x2="388.4" y2="371.4" stroke="#4d4d4d" stroke-width="0.8"/><text transform="translate(386.2 374.9)" font-size="8.8" text-anchor="end" fill="#1a1a1a" stroke="#1a1a1a" stroke-width="0.22">0</text><text transform="translate(369.7 287.5) rotate(-90)" font-size="10.55" font-weight="bold" text-anchor="middle" fill="#111111" stroke="#111111" stroke-width="0.11">% Canonical</text><path d="M394.6 373.8V378.4H604.3V373.8M613.5 373.8V378.4H632.5V373.8" fill="none" stroke="#8c8c8c" stroke-width="0.7"/><text transform="translate(499.5 389.2)" font-size="10.6" text-anchor="middle" fill="#111111" stroke="#111111" stroke-width="0.22">Lung Cancer</text><text transform="translate(621.2 389.2)" font-size="10.6" text-anchor="middle" fill="#111111" stroke="#111111" stroke-width="0.22">GM12878</text><text transform="translate(644.2 283.3)" font-size="8.9" font-weight="bold" text-anchor="start" fill="#111111" stroke="#111111" stroke-width="0.11">Junction</text><rect x="644.3" y="288.2" width="7.2" height="7.3" fill="#E64B35"/><rect x="644.3" y="297.1" width="7.2" height="7.3" fill="#4DBBD5"/><text transform="translate(654.6 295.8)" font-size="10.2" text-anchor="start" fill="#111111" stroke="#111111" stroke-width="0.22">Novel</text><text transform="translate(654.6 304.7)" font-size="10.2" text-anchor="start" fill="#111111" stroke="#111111" stroke-width="0.22">All</text><text transform="translate(1.5 397.6)" font-size="16" font-weight="bold" text-anchor="start" fill="#111111" stroke="#111111" stroke-width="0.11">f</text><rect x="59.35" y="393.2" width="10.45" height="140.7" fill="#E64B35"/><rect x="69.8" y="424.8" width="10.45" height="109.1" fill="#4DBBD5"/><rect x="80.25" y="448" width="10.45" height="85.9" fill="#00A087"/><line x1="75.03" y1="541.3" x2="75.03" y2="542.3" stroke="#bbb" stroke-width="0.6"/><text transform="translate(75.03 551.2) scale(0.920 1)" font-size="8.2" text-anchor="middle" fill="#1a1a1a" stroke="#1a1a1a" stroke-width="0.22">Rep1</text><rect x="122.4" y="393.2" width="10.45" height="140.7" fill="#E64B35"/><rect x="132.85" y="424.8" width="10.45" height="109.1" fill="#4DBBD5"/><rect x="143.3" y="448.3" width="10.45" height="85.6" fill="#00A087"/><line x1="138.08" y1="541.3" x2="138.08" y2="542.3" stroke="#bbb" stroke-width="0.6"/><text transform="translate(138.08 551.2) scale(0.920 1)" font-size="8.2" text-anchor="middle" fill="#1a1a1a" stroke="#1a1a1a" stroke-width="0.22">Rep2</text><rect x="185.45" y="393.6" width="10.45" height="140.3" fill="#E64B35"/><rect x="195.9" y="425.5" width="10.45" height="108.4" fill="#4DBBD5"/><rect x="206.35" y="449.4" width="10.45" height="84.5" fill="#00A087"/><line x1="201.12" y1="541.3" x2="201.12" y2="542.3" stroke="#bbb" stroke-width="0.6"/><text transform="translate(201.12 551.2) scale(0.920 1)" font-size="8.2" text-anchor="middle" fill="#1a1a1a" stroke="#1a1a1a" stroke-width="0.22">Rep3</text><line x1="37.8" y1="386.5" x2="37.8" y2="540.6" stroke="#666" stroke-width="0.9"/><line x1="37.4" y1="540.6" x2="238.7" y2="540.6" stroke="#d2d2d2" stroke-width="1.4"/><line x1="36.4" y1="390.8" x2="37.8" y2="390.8" stroke="#4d4d4d" stroke-width="0.8"/><text transform="translate(35.9 393.7) scale(0.860 1)" font-size="8" text-anchor="end" fill="#1a1a1a" stroke="#1a1a1a" stroke-width="0.22">100</text><line x1="36.4" y1="426.6" x2="37.8" y2="426.6" stroke="#4d4d4d" stroke-width="0.8"/><text transform="translate(35.9 429.5) scale(0.860 1)" font-size="8" text-anchor="end" fill="#1a1a1a" stroke="#1a1a1a" stroke-width="0.22">75</text><line x1="36.4" y1="462.6" x2="37.8" y2="462.6" stroke="#4d4d4d" stroke-width="0.8"/><text transform="translate(35.9 465.5) scale(0.860 1)" font-size="8" text-anchor="end" fill="#1a1a1a" stroke="#1a1a1a" stroke-width="0.22">50</text><line x1="36.4" y1="498.3" x2="37.8" y2="498.3" stroke="#4d4d4d" stroke-width="0.8"/><text transform="translate(35.9 501.2) scale(0.860 1)" font-size="8" text-anchor="end" fill="#1a1a1a" stroke="#1a1a1a" stroke-width="0.22">25</text><line x1="36.4" y1="533.5" x2="37.8" y2="533.5" stroke="#4d4d4d" stroke-width="0.8"/><text transform="translate(35.9 536.4) scale(0.860 1)" font-size="8" text-anchor="end" fill="#1a1a1a" stroke="#1a1a1a" stroke-width="0.22">0</text><text transform="translate(21.81 467.1) rotate(-90) scale(1 0.930)" font-size="9.3" font-weight="bold" text-anchor="middle" fill="#111111" stroke="#111111" stroke-width="0.11">% Junctions</text><rect x="243.4" y="433" width="5.9" height="5.9" fill="#E64B35"/><rect x="243.4" y="449.2" width="5.9" height="5.9" fill="#4DBBD5"/><rect x="243.4" y="480.2" width="5.9" height="5.9" fill="#00A087"/><text transform="translate(252.3 438.5) scale(0.890 1)" font-size="8.2" text-anchor="start" fill="#111111" stroke="#111111" stroke-width="0.22">Canonical</text><text transform="translate(252.3 450.5) scale(0.890 1)" font-size="8.2" text-anchor="start" fill="#111111" stroke="#111111" stroke-width="0.22">Novel &amp;</text><text transform="translate(252.3 459.7) scale(0.890 1)" font-size="8.2" text-anchor="start" fill="#111111" stroke="#111111" stroke-width="0.22">Canonical</text><text transform="translate(252.3 472.8) scale(0.890 1)" font-size="8.2" text-anchor="start" fill="#111111" stroke="#111111" stroke-width="0.22">Novel &amp;</text><text transform="translate(252.3 482) scale(0.890 1)" font-size="8.2" text-anchor="start" fill="#111111" stroke="#111111" stroke-width="0.22">Canonical &amp;</text><text transform="translate(252.3 491.2) scale(0.890 1)" font-size="8.2" text-anchor="start" fill="#111111" stroke="#111111" stroke-width="0.22">Supported</text><text transform="translate(252.3 500.3) scale(0.890 1)" font-size="8.2" text-anchor="start" fill="#111111" stroke="#111111" stroke-width="0.22">ByShortRead</text><text transform="translate(329 410.7)" font-size="16.5" font-weight="bold" text-anchor="start" fill="#111111" stroke="#111111" stroke-width="0.11">g</text><path d="M442.5 418.5h0M439.5 419.5h0M431.5 426.5h0M426.5 428.5h0M427 429h0M429 429h0M427.5 429.5H428M425 430.5h0M426 430.5h0M424 431H425M426 431h0M423.5 431.5H424M425.5 431.5h0M423 432H424M422 432.5H422.5M424 432.5H424.5M426 432.5h0M421 433H422.5M423.5 433H424M420.5 433.5H421M422 433.5H424M419.5 434H420M422.5 434h0M423.5 434h0M420.5 434.5H421M422 434.5h0M418.5 435H419.5M420.5 435H421.5M423.5 435h0M418 435.5h0M419 435.5h0M420 435.5h0M423.5 435.5h0M418 436H420M421 436h0M416.5 436.5h0M417.5 436.5H418.5M420 436.5H420.5M416 437h0M417 437H419.5M415 437.5H418.5M421 437.5h0M413.5 438h0M415 438H415.5M416.5 438H418.5M412.5 438.5h0M415 438.5H417M418 438.5h0M419.5 438.5h0M413 439h0M414 439H414.5M415.5 439H416.5M420 439h0M412 439.5H413.5M414.5 439.5H416M417 439.5h0M418 439.5h0M419 439.5h0M411.5 440H415.5M416.5 440H417M410 440.5h0M412 440.5H415M410 441H414M415.5 441h0M417 441h0M408.5 441.5h0M409.5 441.5h0M410.5 441.5H411M412 441.5H414.5M418 441.5h0M409.5 442H413.5M407.5 442.5H409M410 442.5H412.5M406 443h0M407.5 443H408M409 443H413M405.5 443.5h0M407.5 443.5H409.5M410.5 443.5h0M411.5 443.5H412M413 443.5H413.5M405 444h0M406 444H407M408 444H411.5M412.5 444H413M404 444.5h0M405 444.5H406M407 444.5H411M405.5 445H411M403 445.5H408.5M409.5 445.5H410M401.5 446h0M402.5 446H406M407 446H409M410 446h0M400 446.5H401M402.5 446.5h0M403.5 446.5H409.5M410.5 446.5h0M402.5 447H407.5M408.5 447H409M400.5 447.5H401M402.5 447.5H408.5M409.5 447.5H410M398.5 448H399M400 448H401M402 448H407M396 448.5h0M397.5 448.5h0M398.5 448.5h0M400 448.5h0M401 448.5H407M408 448.5h0M398 449h0M399 449h0M400 449H405.5M406.5 449h0M408 449h0M395.5 449.5h0M397 449.5h0M398.5 449.5H405M406 449.5H406.5M394.5 450h0M397.5 450H405.5M406.5 450h0M395.5 450.5h0M397 450.5H404M405 450.5h0M406.5 450.5H407M408.5 450.5h0M395 451H404.5M393 451.5H394M396.5 451.5H403M404 451.5H404.5M391.5 452h0M393 452H402M403 452h0M404 452H405M388.5 452.5h0M391.5 452.5h0M393 452.5h0M394 452.5H401.5M402.5 452.5h0M403.5 452.5h0M407 452.5h0M389.5 453H390M392.5 453H402.5M385 453.5h0M387 453.5h0M390 453.5h0M391 453.5H391.5M392.5 453.5H401.5M402.5 453.5h0M404 453.5h0M388.5 454H402M403 454h0M389 454.5h0M390 454.5H391.5M392.5 454.5H400M401 454.5H401.5M403.5 454.5h0M382.5 455h0M385.5 455h0M387.5 455h0M389 455h0M390 455H399.5M400.5 455h0M401.5 455H402M383 455.5h0M384 455.5h0M387.5 455.5h0M388.5 455.5H390M391 455.5H399M400 455.5h0M379 456h0M386.5 456h0M387.5 456H399.5M381 456.5h0M385 456.5h0M387 456.5H399M401.5 456.5h0M384 457H384.5M385.5 457h0M387 457H397.5M400 457h0M382 457.5h0M385 457.5H385.5M386.5 457.5H389M390 457.5H395.5M396.5 457.5h0M379 458h0M382 458h0M383 458h0M384 458h0M385 458H385.5M387 458H398.5M400.5 458h0M379 458.5h0M381 458.5h0M383 458.5h0M384 458.5h0M385 458.5H385.5M386.5 458.5H396.5M397.5 458.5h0M378 459h0M382 459H383M384 459H385.5M386.5 459H396.5M377 459.5h0M379 459.5h0M381 459.5h0M382 459.5H383M384 459.5H385.5M386.5 459.5H395M396 459.5h0M397.5 459.5h0M399.5 459.5h0M370.5 460h0M374 460h0M375.5 460h0M377 460h0M378 460h0M379 460h0M380 460h0M382 460H383M384 460H385.5M386.5 460H391.5M392.5 460H395.5M397.5 460h0M374 460.5h0M377 460.5h0M379 460.5h0M380 460.5h0M381 460.5h0M382 460.5H383M384 460.5H385.5M386.5 460.5H393M394 460.5H394.5M395.5 460.5h0M397 460.5h0M372.5 461h0M375.5 461h0M377 461h0M378 461h0M379 461h0M380 461h0M381 461h0M382 461H383M384 461H385.5M386.5 461H394M395 461h0M372.5 461.5h0M375.5 461.5h0M379 461.5h0M380 461.5h0M381 461.5h0M382 461.5H383M384 461.5H385.5M386.5 461.5H389M390 461.5H394.5M397 461.5h0M399 461.5h0M372.5 462h0M374 462h0M375.5 462h0M377 462h0M378 462h0M379 462h0M380 462h0M381 462h0M382 462H383M384 462H385.5M386.5 462H392M393 462h0M394 462H395M377 462.5h0M378 462.5h0M379 462.5h0M380 462.5h0M381 462.5h0M382 462.5H383M384 462.5H385.5M386.5 462.5H392M393 462.5h0M394.5 462.5h0M368 463h0M370.5 463h0M372.5 463h0M374 463h0M375.5 463h0M377 463h0M378 463h0M379 463h0M380 463h0M381 463h0M382 463H383M384 463H385.5M386.5 463H393.5M370.5 463.5h0M372.5 463.5h0M374 463.5h0M375.5 463.5h0M377 463.5h0M378 463.5h0M379 463.5h0M380 463.5h0M381 463.5h0M382 463.5H383M384 463.5H385.5M386.5 463.5H390.5M392.5 463.5H393M394 463.5h0M364.5 464h0M370.5 464h0M372.5 464h0M374 464h0M375.5 464h0M377 464h0M378 464h0M379 464h0M380 464h0M381 464h0M382 464H383M384 464H385.5M386.5 464H390M391 464H391.5M395.5 464h0M360 464.5h0M370.5 464.5h0M372.5 464.5h0M374 464.5h0M375.5 464.5h0M377 464.5h0M378 464.5h0M379 464.5h0M380 464.5h0M381 464.5h0M382 464.5H383M384 464.5H385.5M386.5 464.5H387.5M389 464.5h0M390 464.5H391.5M392.5 464.5h0M393.5 464.5h0M360 465h0M368 465h0M370.5 465h0M372.5 465h0M374 465h0M375.5 465h0M377 465h0M378 465h0M379 465h0M380 465h0M381 465h0M382 465H383M384 465H385.5M386.5 465H388.5M389.5 465H391M392 465H393M364.5 465.5h0M368 465.5h0M370.5 465.5h0M372.5 465.5h0M374 465.5h0M375.5 465.5h0M377 465.5h0M378 465.5h0M379 465.5h0M380 465.5h0M381 465.5h0M382 465.5H383M384 465.5H385.5M386.5 465.5H390M391 465.5h0M392 465.5H392.5M395 465.5h0M360 466h0M364.5 466h0M368 466h0M370.5 466h0M372.5 466h0M374 466h0M375.5 466h0M377 466h0M378 466h0M379 466h0M380 466h0M381 466h0M382 466H383M384 466H385.5M386.5 466H388M389 466H390M391.5 466h0M360 466.5h0M364.5 466.5h0M368 466.5h0M370.5 466.5h0M372.5 466.5h0M374 466.5h0M375.5 466.5h0M377 466.5h0M378 466.5h0M379 466.5h0M380 466.5h0M381 466.5h0M382 466.5H383M384 466.5H385.5M386.5 466.5H387.5M389.5 466.5H391.5M392.5 466.5h0M364.5 467h0M368 467h0M370.5 467h0M372.5 467h0M374 467h0M375.5 467h0M377 467h0M378 467h0M379 467h0M380 467h0M381 467h0M382 467H383M384 467H385.5M386.5 467H388M390 467h0M391.5 467h0M352.5 467.5h0M360 467.5h0M364.5 467.5h0M368 467.5h0M370.5 467.5h0M372.5 467.5h0M374 467.5h0M375.5 467.5h0M377 467.5h0M378 467.5h0M379 467.5h0M380 467.5h0M381 467.5h0M382 467.5H383M384 467.5H385.5M386.5 467.5H389M390.5 467.5h0M392.5 467.5h0M352.5 468h0M360 468h0M364.5 468h0M368 468h0M370.5 468h0M372.5 468h0M374 468h0M375.5 468h0M377 468h0M378 468h0M379 468h0M380 468h0M381 468h0M382 468H383M384 468H385.5M386.5 468h0M387.5 468H388.5M390.5 468h0M352.5 469h0M360 469h0M364.5 469h0M368 469h0M370.5 469h0M372.5 469h0M374 469h0M375.5 469h0M377 469h0M378 469h0M379 469h0M380 469h0M381 469h0M382 469H383M384 469H385.5M386.5 469H387M390 469h0M391 469h0M352.5 469.5h0M360 469.5h0M364.5 469.5h0M368 469.5h0M370.5 469.5h0M372.5 469.5h0M374 469.5h0M375.5 469.5h0M377 469.5h0M378 469.5h0M379 469.5h0M380 469.5h0M381 469.5h0M382 469.5H383M384 469.5H385.5M387 469.5H387.5M352.5 470.5h0M360 470.5h0M364.5 470.5h0M368 470.5h0M370.5 470.5h0M372.5 470.5h0M374 470.5h0M375.5 470.5h0M377 470.5h0M378 470.5h0M379 470.5h0M380 470.5h0M381 470.5h0M382 470.5H383M384 470.5H385.5M387 470.5h0M389.5 470.5h0M391 470.5h0M352.5 471.5h0M360 471.5h0M364.5 471.5h0M368 471.5h0M370.5 471.5h0M372.5 471.5h0M374 471.5h0M375.5 471.5h0M377 471.5h0M378 471.5h0M379 471.5h0M380 471.5h0M381 471.5h0M382 471.5H383M384 471.5H385.5M386.5 471.5H387.5M352.5 472.5h0M360 472.5h0M364.5 472.5h0M368 472.5h0M370.5 472.5h0M372.5 472.5h0M374 472.5h0M375.5 472.5h0M377 472.5h0M378 472.5h0M379 472.5h0M380 472.5h0M381 472.5h0M382 472.5H383M384 472.5h0M385 472.5H385.5M387.5 472.5h0M352.5 473.5h0M360 473.5h0M364.5 473.5h0M368 473.5h0M370.5 473.5h0M372.5 473.5h0M374 473.5h0M375.5 473.5h0M377 473.5h0M378 473.5h0M379 473.5h0M380 473.5h0M381 473.5h0M382 473.5H383M384 473.5H384.5M386.5 473.5h0M387.5 473.5h0M352.5 475h0M360 475h0M364.5 475h0M368 475h0M370.5 475h0M372.5 475h0M374 475h0M375.5 475h0M377 475h0M378 475h0M379 475h0M380 475h0M381 475h0M382 475H383M384 475H384.5M386.5 475h0M352.5 476.5h0M360 476.5h0M364.5 476.5h0M368 476.5h0M370.5 476.5h0M372.5 476.5h0M374 476.5h0M375.5 476.5h0M377 476.5h0M378 476.5h0M379 476.5h0M380 476.5h0M381 476.5h0M382 476.5H382.5M384 476.5H384.5M385.5 476.5h0M386.5 476.5h0M352.5 478.5h0M360 478.5h0M364.5 478.5h0M368 478.5h0M370.5 478.5h0M372.5 478.5h0M374 478.5h0M375.5 478.5h0M377 478.5h0M378 478.5h0M379 478.5h0M380 478.5h0M381 478.5h0M382 478.5H382.5M352.5 481h0M360 481h0M364.5 481h0M368 481h0M370.5 481h0M372.5 481h0M374 481h0M375.5 481h0M377 481h0M378 481h0M379 481h0M380 481h0M381 481h0M382 481h0M387 481h0M385.5 484h0M352.5 484.5h0M360 484.5h0M364.5 484.5h0M368 484.5h0M370.5 484.5h0M372.5 484.5h0M374 484.5h0M375.5 484.5h0M377 484.5h0M378 484.5h0M379 484.5h0M382 484.5H382.5M384 484.5h0M352.5 490.5h0M360 490.5h0M364.5 490.5h0M368 490.5h0M370.5 490.5h0M372.5 490.5h0M374 490.5h0M375.5 490.5h0M377 490.5h0M378 490.5h0M405.5 490.5h0" stroke="#FF0000" stroke-width="1.75" stroke-linecap="round" fill="none"/><line x1="348.5" y1="415.2" x2="348.5" y2="494.2" stroke="#505050" stroke-width="1"/><line x1="348" y1="493.7" x2="447.4" y2="493.7" stroke="#505050" stroke-width="1"/><line x1="347" y1="424.5" x2="348.5" y2="424.5" stroke="#4d4d4d" stroke-width="0.6"/><text transform="translate(346.3 426.9) scale(0.810 1)" font-size="6.8" text-anchor="end" fill="#1a1a1a" stroke="#1a1a1a" stroke-width="0.22">1000</text><line x1="347" y1="444.3" x2="348.5" y2="444.3" stroke="#4d4d4d" stroke-width="0.6"/><text transform="translate(346.3 446.7) scale(0.810 1)" font-size="6.8" text-anchor="end" fill="#1a1a1a" stroke="#1a1a1a" stroke-width="0.22">100</text><line x1="347" y1="464.3" x2="348.5" y2="464.3" stroke="#4d4d4d" stroke-width="0.6"/><text transform="translate(346.3 466.7) scale(0.810 1)" font-size="6.8" text-anchor="end" fill="#1a1a1a" stroke="#1a1a1a" stroke-width="0.22">10</text><line x1="347" y1="484.1" x2="348.5" y2="484.1" stroke="#4d4d4d" stroke-width="0.6"/><text transform="translate(346.3 486.5) scale(0.810 1)" font-size="6.8" text-anchor="end" fill="#1a1a1a" stroke="#1a1a1a" stroke-width="0.22">1</text><line x1="358.9" y1="493.7" x2="358.9" y2="495.2" stroke="#4d4d4d" stroke-width="0.6"/><text transform="translate(358.9 499.7) scale(0.810 1)" font-size="6.8" text-anchor="middle" fill="#1a1a1a" stroke="#1a1a1a" stroke-width="0.22">1</text><line x1="384.8" y1="493.7" x2="384.8" y2="495.2" stroke="#4d4d4d" stroke-width="0.6"/><text transform="translate(384.8 499.7) scale(0.810 1)" font-size="6.8" text-anchor="middle" fill="#1a1a1a" stroke="#1a1a1a" stroke-width="0.22">10</text><line x1="410.6" y1="493.7" x2="410.6" y2="495.2" stroke="#4d4d4d" stroke-width="0.6"/><text transform="translate(410.6 499.7) scale(0.810 1)" font-size="6.8" text-anchor="middle" fill="#1a1a1a" stroke="#1a1a1a" stroke-width="0.22">100</text><line x1="435.6" y1="493.7" x2="435.6" y2="495.2" stroke="#4d4d4d" stroke-width="0.6"/><text transform="translate(435.6 499.7) scale(0.810 1)" font-size="6.8" text-anchor="middle" fill="#1a1a1a" stroke="#1a1a1a" stroke-width="0.22">1000</text><text transform="translate(395.5 509.9)" font-size="6.4" font-weight="bold" text-anchor="middle" fill="#111111" stroke="#111111" stroke-width="0.11">Rep1</text><text transform="translate(333.21 453.5) rotate(-90)" font-size="6.7" font-weight="bold" text-anchor="middle" fill="#111111" stroke="#111111" stroke-width="0.11">Rep2</text><text transform="translate(360.1 419.2) scale(0.900 1)" font-size="6.3" text-anchor="start" fill="#111111" stroke="#111111" stroke-width="0.22">Known genes</text><text transform="translate(360.1 426) scale(0.9 1)" font-size="6.3" fill="#111111" stroke="#111111" stroke-width="0.22"><tspan font-style="italic">r</tspan>=0.993</text><path d="M560.5 418.5h0M556.5 420.5h0M550 428h0M545 429h0M542.5 430h0M544.5 430H546M543.5 430.5H544M535 431h0M543 431H544M541.5 431.5h0M543 431.5h0M544.5 431.5H545.5M541.5 432h0M542.5 432H543M540.5 432.5h0M541.5 432.5H543M544 432.5h0M540 433h0M542 433H542.5M538.5 433.5H539M541 433.5H542M537 434h0M538.5 434h0M540.5 434h0M541.5 434h0M543 434h0M536 434.5h0M538 434.5h0M540 434.5H540.5M537.5 435h0M538.5 435H540M541 435h0M533.5 435.5h0M536 435.5h0M537 435.5H538.5M540 435.5H540.5M543.5 435.5h0M534 436h0M535.5 436h0M537 436H538.5M539.5 436h0M535.5 436.5h0M537 436.5H538.5M540 436.5h0M534.5 437H537.5M539 437h0M533.5 437.5H535.5M536.5 437.5H537.5M538.5 437.5h0M532.5 438h0M534.5 438H536.5M538 438h0M531 438.5h0M532 438.5H532.5M533.5 438.5h0M534.5 438.5H535M536.5 438.5h0M538.5 438.5h0M529.5 439h0M531 439h0M532 439H536M539 439h0M529 439.5h0M530 439.5h0M532 439.5H534.5M535.5 439.5h0M529 440h0M530 440h0M531 440H531.5M532.5 440H534M536.5 440h0M529 440.5H530M531.5 440.5h0M532.5 440.5H533.5M534.5 440.5h0M530 441H532M534 441H534.5M523.5 441.5h0M528.5 441.5H533.5M534.5 441.5h0M527.5 442h0M528.5 442H532M524 442.5h0M527 442.5H527.5M528.5 442.5h0M529.5 442.5H531M532 442.5H532.5M533.5 442.5h0M523 443h0M526 443H530.5M531.5 443h0M533.5 443h0M525 443.5H525.5M526.5 443.5H530.5M531.5 443.5h0M522.5 444h0M524.5 444h0M525.5 444H529.5M531 444h0M524 444.5h0M525 444.5H527.5M528.5 444.5h0M529.5 444.5H530M531 444.5H531.5M522 445h0M523 445H529M530 445h0M522.5 445.5h0M524.5 445.5H528.5M520 446H520.5M522 446h0M523 446H527.5M528.5 446H529M518.5 446.5h0M519.5 446.5h0M521.5 446.5H522M523.5 446.5H527.5M520 447H528M521 447.5H521.5M522.5 447.5H523M524 447.5H527M528 447.5h0M518.5 448H520.5M521.5 448H525.5M527.5 448h0M517 448.5H527M515.5 449h0M517 449h0M518 449h0M519 449H521.5M522.5 449H525M526 449h0M518 449.5H525M526 449.5h0M516.5 450H518M519 450H525M516 450.5H524.5M515.5 451H523.5M526 451h0M511 451.5h0M513 451.5h0M514.5 451.5h0M515.5 451.5H522M523 451.5H523.5M524.5 451.5h0M510 452h0M513.5 452h0M514.5 452H523M524.5 452h0M526 452h0M513.5 452.5H521M522 452.5H523M512 453H513M514.5 453H521.5M522.5 453H523M508 453.5h0M510.5 453.5H511M512.5 453.5h0M513.5 453.5H521.5M522.5 453.5h0M509 454h0M511.5 454H521.5M506.5 454.5h0M512 454.5H518.5M519.5 454.5H521M522.5 454.5h0M508.5 455h0M509.5 455h0M510.5 455H511M512 455H520M521 455H521.5M505.5 455.5h0M507.5 455.5h0M508.5 455.5H510.5M511.5 455.5H514.5M515.5 455.5H519M520 455.5H521M522 455.5h0M507 456h0M508 456H510.5M511.5 456H519.5M521 456h0M507 456.5h0M508 456.5H509M510 456.5H517.5M519 456.5H520M504.5 457h0M506.5 457H509M510 457H517M518 457H518.5M519.5 457h0M503 457.5h0M505.5 457.5h0M508 457.5H518.5M520 457.5h0M505 458h0M508 458h0M509 458H518M500 458.5h0M503 458.5h0M504.5 458.5h0M506 458.5H517M497.5 459h0M502 459h0M503 459H503.5M505.5 459H510.5M511.5 459H516.5M504 459.5H504.5M505.5 459.5H514.5M515.5 459.5H516M517 459.5H517.5M501 460h0M502 460h0M503 460h0M504.5 460H506.5M507.5 460H516M517 460h0M496.5 460.5h0M500 460.5h0M502 460.5h0M503 460.5H503.5M504.5 460.5h0M505.5 460.5H515M516 460.5H517M518 460.5h0M525 460.5h0M499.5 461H500M501.5 461H502M503 461H503.5M504.5 461H515.5M488 461.5h0M495.5 461.5h0M500 461.5h0M501 461.5H502M503 461.5H515.5M516.5 461.5h0M518.5 461.5h0M521 461.5h0M501.5 462H502M503 462H513.5M514.5 462H515.5M493 462.5h0M494.5 462.5h0M495.5 462.5h0M496.5 462.5h0M498.5 462.5h0M499.5 462.5H500M501 462.5H502M503 462.5H513.5M514.5 462.5h0M516.5 462.5h0M497.5 463h0M501 463H502M503.5 463H511.5M513 463h0M493 463.5h0M495.5 463.5h0M496.5 463.5h0M497.5 463.5h0M498.5 463.5h0M499.5 463.5H500M501 463.5H502M503 463.5H512M513 463.5H514M515 463.5h0M516 463.5h0M494.5 464h0M498.5 464h0M499.5 464H500M501 464H502M503 464H511M512 464h0M513 464H513.5M514.5 464h0M493 464.5h0M495.5 464.5h0M496.5 464.5h0M497.5 464.5h0M498.5 464.5h0M499.5 464.5H500M501 464.5H502M503 464.5H508M509 464.5H512.5M513.5 464.5h0M514.5 464.5h0M493 465h0M496.5 465h0M497.5 465h0M498.5 465h0M499.5 465H500M501 465H502M503 465H512M513 465h0M488 465.5h0M491.5 465.5h0M493 465.5h0M494.5 465.5h0M495.5 465.5h0M496.5 465.5h0M497.5 465.5h0M498.5 465.5h0M499.5 465.5H500M501 465.5H502M503 465.5H510M511 465.5H511.5M490 466h0M493 466h0M495.5 466h0M496.5 466h0M497.5 466h0M498.5 466h0M499.5 466H500M501 466H502M503 466H510.5M512 466H512.5M515 466h0M488 466.5h0M490 466.5h0M491.5 466.5h0M493 466.5h0M494.5 466.5h0M495.5 466.5h0M496.5 466.5h0M497.5 466.5h0M498.5 466.5h0M499.5 466.5H500M501 466.5H502M503 466.5H510.5M511.5 466.5h0M515.5 466.5h0M490 467h0M493 467h0M494.5 467h0M495.5 467h0M496.5 467h0M497.5 467h0M498.5 467h0M499.5 467H500M501 467H502M503 467H508M509 467h0M510 467h0M512 467h0M513 467h0M482.5 467.5h0M488 467.5h0M490 467.5h0M491.5 467.5h0M493 467.5h0M494.5 467.5h0M495.5 467.5h0M496.5 467.5h0M497.5 467.5h0M498.5 467.5h0M499.5 467.5H500M501 467.5H502M503 467.5H509M510 467.5H512M488 468h0M490 468h0M493 468h0M494.5 468h0M495.5 468h0M496.5 468h0M497.5 468h0M498.5 468h0M499.5 468H500M501 468H502M503 468H508.5M509.5 468h0M511.5 468h0M485.5 468.5h0M488 468.5h0M491.5 468.5h0M493 468.5h0M494.5 468.5h0M495.5 468.5h0M496.5 468.5h0M497.5 468.5h0M498.5 468.5h0M499.5 468.5H500M501 468.5H502M503 468.5H507.5M509 468.5h0M510.5 468.5h0M512 468.5h0M518 468.5h0M478 469.5h0M485.5 469.5h0M488 469.5h0M490 469.5h0M491.5 469.5h0M493 469.5h0M494.5 469.5h0M495.5 469.5h0M496.5 469.5h0M497.5 469.5h0M498.5 469.5h0M499.5 469.5H500M501 469.5H502M503 469.5H507M508 469.5H508.5M510 469.5H510.5M511.5 469.5h0M470 470h0M478 470h0M485.5 470h0M488 470h0M490 470h0M491.5 470h0M493 470h0M494.5 470h0M495.5 470h0M496.5 470h0M497.5 470h0M498.5 470h0M499.5 470H500M501 470H502M503 470H508M470 471h0M478 471h0M482.5 471h0M485.5 471h0M488 471h0M490 471h0M491.5 471h0M493 471h0M494.5 471h0M495.5 471h0M496.5 471h0M497.5 471h0M498.5 471h0M499.5 471H500M501 471H502M503 471H507.5M510 471h0M470 472h0M478 472h0M482.5 472h0M485.5 472h0M488 472h0M490 472h0M491.5 472h0M493 472h0M494.5 472h0M495.5 472h0M496.5 472h0M497.5 472h0M498.5 472h0M499.5 472H500M501 472H502M503 472H507M508 472h0M470 473h0M478 473h0M482.5 473h0M485.5 473h0M488 473h0M490 473h0M491.5 473h0M493 473h0M494.5 473h0M495.5 473h0M496.5 473h0M497.5 473h0M498.5 473h0M499.5 473H500M501 473H502M503 473H506.5M508.5 473H509M470 474h0M478 474h0M482.5 474h0M485.5 474h0M488 474h0M490 474h0M491.5 474h0M493 474h0M494.5 474h0M495.5 474h0M496.5 474h0M497.5 474h0M498.5 474h0M499.5 474H500M501 474H502M503 474H504.5M505.5 474H506.5M507.5 474H508M517.5 474h0M470 475.5h0M478 475.5h0M482.5 475.5h0M485.5 475.5h0M488 475.5h0M490 475.5h0M491.5 475.5h0M493 475.5h0M494.5 475.5h0M495.5 475.5h0M496.5 475.5h0M497.5 475.5h0M498.5 475.5h0M499.5 475.5H500M501 475.5H502M503 475.5H504M505.5 475.5h0M507 475.5h0M509 475.5h0M470 477h0M478 477h0M482.5 477h0M485.5 477h0M488 477h0M490 477h0M491.5 477h0M493 477h0M494.5 477h0M495.5 477h0M496.5 477h0M497.5 477h0M498.5 477h0M499.5 477H500M501 477H502M503 477H505M506 477H506.5M508 477h0M470 479h0M478 479h0M482.5 479h0M485.5 479h0M488 479h0M490 479h0M491.5 479h0M493 479h0M494.5 479h0M495.5 479h0M496.5 479h0M497.5 479h0M498.5 479h0M499.5 479H500M501 479H502M503 479H505M506 479h0M470 481.5h0M478 481.5h0M482.5 481.5h0M485.5 481.5h0M488 481.5h0M490 481.5h0M491.5 481.5h0M493 481.5h0M494.5 481.5h0M495.5 481.5h0M496.5 481.5h0M497.5 481.5h0M498.5 481.5h0M499.5 481.5H500M501 481.5H502M503 481.5H503.5M470 485h0M478 485h0M482.5 485h0M485.5 485h0M488 485h0M490 485h0M491.5 485h0M493 485h0M494.5 485h0M495.5 485h0M496.5 485h0M497.5 485h0M498.5 485h0M499.5 485H500M501 485h0M503.5 485h0M504.5 485h0M470 491h0M478 491h0M482.5 491h0M485.5 491h0M488 491h0M490 491h0M491.5 491h0M493 491h0M494.5 491h0M495.5 491h0M496.5 491h0M497.5 491h0M498.5 491h0M499.5 491h0M501 491H501.5" stroke="#0000FF" stroke-width="1.75" stroke-linecap="round" fill="none"/><line x1="466.1" y1="415.6" x2="466.1" y2="494.7" stroke="#505050" stroke-width="1"/><line x1="465.6" y1="494.2" x2="564.8" y2="494.2" stroke="#505050" stroke-width="1"/><line x1="464.6" y1="425" x2="466.1" y2="425" stroke="#4d4d4d" stroke-width="0.6"/><text transform="translate(463.9 427.4) scale(0.810 1)" font-size="6.8" text-anchor="end" fill="#1a1a1a" stroke="#1a1a1a" stroke-width="0.22">1000</text><line x1="464.6" y1="445" x2="466.1" y2="445" stroke="#4d4d4d" stroke-width="0.6"/><text transform="translate(463.9 447.4) scale(0.810 1)" font-size="6.8" text-anchor="end" fill="#1a1a1a" stroke="#1a1a1a" stroke-width="0.22">100</text><line x1="464.6" y1="464.8" x2="466.1" y2="464.8" stroke="#4d4d4d" stroke-width="0.6"/><text transform="translate(463.9 467.2) scale(0.810 1)" font-size="6.8" text-anchor="end" fill="#1a1a1a" stroke="#1a1a1a" stroke-width="0.22">10</text><line x1="464.6" y1="484.6" x2="466.1" y2="484.6" stroke="#4d4d4d" stroke-width="0.6"/><text transform="translate(463.9 487) scale(0.810 1)" font-size="6.8" text-anchor="end" fill="#1a1a1a" stroke="#1a1a1a" stroke-width="0.22">1</text><line x1="476.6" y1="494.2" x2="476.6" y2="495.7" stroke="#4d4d4d" stroke-width="0.6"/><text transform="translate(476.6 500) scale(0.810 1)" font-size="6.8" text-anchor="middle" fill="#1a1a1a" stroke="#1a1a1a" stroke-width="0.22">1</text><line x1="502" y1="494.2" x2="502" y2="495.7" stroke="#4d4d4d" stroke-width="0.6"/><text transform="translate(502 500) scale(0.810 1)" font-size="6.8" text-anchor="middle" fill="#1a1a1a" stroke="#1a1a1a" stroke-width="0.22">10</text><line x1="527.6" y1="494.2" x2="527.6" y2="495.7" stroke="#4d4d4d" stroke-width="0.6"/><text transform="translate(527.6 500) scale(0.810 1)" font-size="6.8" text-anchor="middle" fill="#1a1a1a" stroke="#1a1a1a" stroke-width="0.22">100</text><line x1="553" y1="494.2" x2="553" y2="495.7" stroke="#4d4d4d" stroke-width="0.6"/><text transform="translate(553 500) scale(0.810 1)" font-size="6.8" text-anchor="middle" fill="#1a1a1a" stroke="#1a1a1a" stroke-width="0.22">1000</text><text transform="translate(517.4 509.9)" font-size="6.4" font-weight="bold" text-anchor="middle" fill="#111111" stroke="#111111" stroke-width="0.11">Rep1</text><text transform="translate(450.71 453.5) rotate(-90)" font-size="6.7" font-weight="bold" text-anchor="middle" fill="#111111" stroke="#111111" stroke-width="0.11">Rep3</text><text transform="translate(477.2 419.2) scale(0.900 1)" font-size="6.3" text-anchor="start" fill="#111111" stroke="#111111" stroke-width="0.22">Known genes</text><text transform="translate(477.2 426) scale(0.9 1)" font-size="6.3" fill="#111111" stroke="#111111" stroke-width="0.22"><tspan font-style="italic">r</tspan>=0.987</text><path d="M677.5 418h0M675.5 419.5h0M663 427.5h0M668 427.5h0M664 428.5h0M663.5 429h0M662 429.5h0M663.5 429.5h0M660.5 430h0M663.5 430h0M660.5 430.5h0M662 430.5h0M663 430.5h0M655.5 431h0M658 431H658.5M660.5 431h0M661.5 431h0M658 431.5h0M659.5 431.5H661M659.5 432h0M660.5 432H661M662.5 432h0M663.5 432h0M657.5 432.5h0M659 432.5H661M657 433h0M658 433h0M659 433h0M660 433h0M661.5 433h0M655.5 433.5h0M656.5 433.5H659.5M660.5 433.5h0M656 434h0M657 434H658.5M659.5 434H660M656 434.5H656.5M657.5 434.5h0M655.5 435H656M657 435h0M658 435h0M655 435.5h0M656 435.5H656.5M657.5 435.5h0M659.5 435.5h0M652.5 436h0M654.5 436H655M656 436H657M658 436h0M652.5 436.5H653M654 436.5H655.5M656.5 436.5h0M654.5 437h0M655.5 437H656.5M657.5 437h0M651.5 437.5h0M652.5 437.5h0M653.5 437.5H654M656 437.5h0M648.5 438h0M650 438h0M651.5 438H652.5M654 438h0M646.5 438.5h0M649.5 438.5H650M652.5 438.5H653.5M650.5 439H652M653 439H653.5M654.5 439h0M647.5 439.5H650M651 439.5h0M652 439.5H652.5M653.5 439.5h0M647 440h0M648 440H648.5M649.5 440H651M652 440H652.5M647 440.5H647.5M648.5 440.5H652M653 440.5h0M645 441h0M647 441H651M653 441h0M645.5 441.5h0M646.5 441.5H648M649 441.5H651M652.5 441.5h0M645.5 442H650M651 442h0M643 442.5h0M644.5 442.5H645M646 442.5H649M650 442.5H650.5M642.5 443h0M644 443H649.5M650.5 443h0M642.5 443.5H643M644 443.5h0M645 443.5H648M649 443.5h0M650.5 443.5h0M641 444h0M643 444H645.5M646.5 444H647M648 444H648.5M650 444h0M640 444.5h0M642 444.5H644M645 444.5H647.5M641 445h0M642 445H644M645 445H647.5M641 445.5H646.5M639.5 446h0M640.5 446H645.5M646.5 446H647M636.5 446.5h0M638.5 446.5H639.5M640.5 446.5H643M644 446.5H646M647 446.5h0M648 446.5h0M638 447h0M639.5 447H644.5M645.5 447h0M638 447.5H639M640 447.5H645M631 448h0M634 448h0M637.5 448h0M638.5 448H641M642 448H644M645.5 448H646M648 448h0M635.5 448.5h0M637 448.5H638.5M639.5 448.5H643.5M644.5 448.5h0M633 449h0M635.5 449H644.5M646 449h0M636.5 449.5H640.5M641.5 449.5H643M632.5 450h0M634 450h0M635 450h0M636 450H643.5M589.5 450.5h0M634.5 450.5H635M636 450.5H642.5M634 451H642M630 451.5h0M631.5 451.5h0M633 451.5H634M635 451.5H640.5M641.5 451.5h0M632 452h0M633 452H640M641 452h0M642 452h0M643 452h0M630.5 452.5h0M631.5 452.5H640.5M629 453h0M631 453H639.5M627 453.5h0M628 453.5h0M629.5 453.5h0M631 453.5H631.5M632.5 453.5h0M633.5 453.5H639M627.5 454h0M630 454h0M631 454H639.5M640.5 454h0M626.5 454.5h0M628 454.5H629.5M630.5 454.5H639M641 454.5h0M626.5 455h0M628 455H629M630.5 455H637.5M639 455H640.5M627 455.5H638M624.5 456h0M625.5 456H626M627.5 456H637M638 456H639M640 456h0M625.5 456.5h0M626.5 456.5H627M628 456.5H635.5M636.5 456.5h0M637.5 456.5h0M638.5 456.5h0M639.5 456.5H640M622.5 457h0M623.5 457h0M625 457H635.5M637 457h0M638 457h0M624 457.5H624.5M625.5 457.5H627M628 457.5h0M629 457.5H634M635 457.5H638M622.5 458h0M623.5 458h0M624.5 458H629.5M630.5 458H636M620 458.5H620.5M622.5 458.5H635M636 458.5h0M637 458.5h0M615 459h0M620 459H620.5M621.5 459h0M622.5 459H634.5M636.5 459h0M618 459.5h0M620.5 459.5h0M622 459.5H634.5M635.5 459.5H636M618 460h0M619.5 460H620M622 460h0M623 460H624.5M625.5 460h0M626.5 460H627M628 460h0M629 460H629.5M630.5 460H632.5M635 460H635.5M618 460.5h0M620 460.5H620.5M621.5 460.5H627M628 460.5H633M634 460.5h0M635.5 460.5h0M636.5 460.5h0M617 461h0M618 461H618.5M620 461H620.5M621.5 461H622M623 461H633M635 461h0M636.5 461h0M617 461.5h0M618 461.5h0M620.5 461.5h0M621.5 461.5H627M628 461.5H630.5M632 461.5h0M633 461.5H634M611 462h0M616 462h0M617 462h0M618 462H618.5M619.5 462H620.5M621.5 462H632.5M634 462h0M609.5 462.5h0M611 462.5h0M614 462.5h0M615 462.5h0M617 462.5h0M618 462.5H618.5M619.5 462.5h0M620.5 462.5h0M621.5 462.5H628M629 462.5H633.5M611 463h0M615 463h0M616 463h0M617 463h0M618 463H618.5M619.5 463H620.5M621.5 463H632M636 463h0M611 463.5h0M617 463.5h0M618 463.5H618.5M619.5 463.5H620.5M621.5 463.5H629.5M631 463.5h0M632 463.5H632.5M634 463.5h0M615 464h0M616 464h0M617 464h0M618 464H618.5M619.5 464H620.5M621.5 464H624.5M625.5 464H629M630 464H630.5M632 464h0M634 464h0M611 464.5h0M612.5 464.5h0M615 464.5h0M616 464.5h0M617 464.5h0M618 464.5H618.5M619.5 464.5H620.5M621.5 464.5H628M631 464.5H631.5M612.5 465h0M614 465h0M615 465h0M616 465h0M617 465h0M618 465H618.5M619.5 465H620.5M621.5 465H629.5M614 465.5h0M615 465.5h0M616 465.5h0M617 465.5h0M618 465.5H618.5M619.5 465.5H620.5M621.5 465.5H627M628 465.5H630M609.5 466h0M612.5 466h0M614 466h0M615 466h0M616 466h0M617 466h0M618 466H618.5M619.5 466H620.5M621.5 466H629M630 466H630.5M605 466.5h0M609.5 466.5h0M611 466.5h0M612.5 466.5h0M614 466.5h0M615 466.5h0M616 466.5h0M617 466.5h0M618 466.5H618.5M619.5 466.5H620.5M621.5 466.5H627M628.5 466.5H629.5M630.5 466.5H631M632 466.5h0M605 467h0M607.5 467h0M609.5 467h0M611 467h0M612.5 467h0M614 467h0M615 467h0M616 467h0M617 467h0M618 467H618.5M619.5 467H620.5M621.5 467H628M629 467h0M630 467h0M605 468h0M607.5 468h0M609.5 468h0M611 468h0M612.5 468h0M614 468h0M615 468h0M616 468h0M617 468h0M618 468H618.5M619.5 468H620.5M621.5 468H626M627 468h0M628 468H629M597.5 468.5h0M602 468.5h0M605 468.5h0M607.5 468.5h0M609.5 468.5h0M611 468.5h0M612.5 468.5h0M614 468.5h0M615 468.5h0M616 468.5h0M617 468.5h0M618 468.5H618.5M619.5 468.5H620.5M621.5 468.5H627M628.5 468.5H629M630.5 468.5h0M631.5 468.5h0M597.5 469h0M602 469h0M607.5 469h0M609.5 469h0M611 469h0M612.5 469h0M614 469h0M615 469h0M616 469h0M617 469h0M618 469H618.5M619.5 469H620.5M621.5 469H627M628 469H628.5M629.5 469h0M590 470h0M597.5 470h0M602 470h0M605 470h0M607.5 470h0M609.5 470h0M611 470h0M612.5 470h0M614 470h0M615 470h0M616 470h0M617 470h0M618 470H618.5M619.5 470H620.5M621.5 470H624.5M625.5 470h0M626.5 470H627.5M597.5 471h0M602 471h0M605 471h0M607.5 471h0M609.5 471h0M611 471h0M612.5 471h0M614 471h0M615 471h0M616 471h0M617 471h0M618 471H618.5M619.5 471H620.5M621.5 471H627M628 471h0M629 471h0M630 471h0M590 472h0M597.5 472h0M602 472h0M605 472h0M607.5 472h0M609.5 472h0M611 472h0M612.5 472h0M614 472h0M615 472h0M616 472h0M617 472h0M618 472H618.5M619.5 472H620.5M621.5 472H625M626 472h0M627 472h0M590 473h0M597.5 473h0M602 473h0M605 473h0M607.5 473h0M609.5 473h0M611 473h0M612.5 473h0M614 473h0M615 473h0M616 473h0M617 473h0M618 473H618.5M619.5 473H620.5M621.5 473H624.5M625.5 473h0M628 473h0M590 474.5h0M597.5 474.5h0M602 474.5h0M605 474.5h0M607.5 474.5h0M609.5 474.5h0M611 474.5h0M612.5 474.5h0M614 474.5h0M615 474.5h0M616 474.5h0M617 474.5h0M618 474.5H618.5M619.5 474.5H620.5M621.5 474.5H625.5M629.5 474.5h0M590 476h0M597.5 476h0M602 476h0M605 476h0M607.5 476h0M609.5 476h0M611 476h0M612.5 476h0M614 476h0M615 476h0M616 476h0M617 476h0M618 476H618.5M619.5 476H620.5M621.5 476H622.5M624 476h0M626 476h0M590 478h0M597.5 478h0M602 478h0M605 478h0M607.5 478h0M609.5 478h0M611 478h0M612.5 478h0M614 478h0M615 478h0M616 478h0M617 478h0M618 478H618.5M619.5 478H620.5M621.5 478H622M623 478H624.5M590 480.5h0M597.5 480.5h0M602 480.5h0M605 480.5h0M607.5 480.5h0M609.5 480.5h0M611 480.5h0M612.5 480.5h0M614 480.5h0M615 480.5h0M616 480.5h0M617 480.5h0M618 480.5H618.5M619.5 480.5H620.5M621.5 480.5h0M622.5 480.5H623M624 480.5h0M625.5 480.5h0M590 484h0M597.5 484h0M602 484h0M605 484h0M607.5 484h0M609.5 484h0M611 484h0M612.5 484h0M614 484h0M615 484h0M616 484h0M617 484h0M618 484H618.5M619.5 484h0M620.5 484h0M621.5 484h0M590 490h0M597.5 490h0M602 490h0M605 490h0M607.5 490h0M609.5 490h0M611 490h0M612.5 490h0M614 490h0M615 490h0M616 490h0M617 490h0M618 490h0M619.5 490H620.5M622 490h0" stroke="#A52A2A" stroke-width="1.75" stroke-linecap="round" fill="none"/><line x1="585.7" y1="414.9" x2="585.7" y2="493.9" stroke="#505050" stroke-width="1"/><line x1="585.2" y1="493.4" x2="685" y2="493.4" stroke="#505050" stroke-width="1"/><line x1="584.2" y1="424.2" x2="585.7" y2="424.2" stroke="#4d4d4d" stroke-width="0.6"/><text transform="translate(583.5 426.6) scale(0.810 1)" font-size="6.8" text-anchor="end" fill="#1a1a1a" stroke="#1a1a1a" stroke-width="0.22">1000</text><line x1="584.2" y1="443.8" x2="585.7" y2="443.8" stroke="#4d4d4d" stroke-width="0.6"/><text transform="translate(583.5 446.2) scale(0.810 1)" font-size="6.8" text-anchor="end" fill="#1a1a1a" stroke="#1a1a1a" stroke-width="0.22">100</text><line x1="584.2" y1="463.9" x2="585.7" y2="463.9" stroke="#4d4d4d" stroke-width="0.6"/><text transform="translate(583.5 466.3) scale(0.810 1)" font-size="6.8" text-anchor="end" fill="#1a1a1a" stroke="#1a1a1a" stroke-width="0.22">10</text><line x1="584.2" y1="483.7" x2="585.7" y2="483.7" stroke="#4d4d4d" stroke-width="0.6"/><text transform="translate(583.5 486.1) scale(0.810 1)" font-size="6.8" text-anchor="end" fill="#1a1a1a" stroke="#1a1a1a" stroke-width="0.22">1</text><line x1="596.2" y1="493.4" x2="596.2" y2="494.9" stroke="#4d4d4d" stroke-width="0.6"/><text transform="translate(596.2 499.6) scale(0.810 1)" font-size="6.8" text-anchor="middle" fill="#1a1a1a" stroke="#1a1a1a" stroke-width="0.22">1</text><line x1="621.9" y1="493.4" x2="621.9" y2="494.9" stroke="#4d4d4d" stroke-width="0.6"/><text transform="translate(621.9 499.6) scale(0.810 1)" font-size="6.8" text-anchor="middle" fill="#1a1a1a" stroke="#1a1a1a" stroke-width="0.22">10</text><line x1="647.3" y1="493.4" x2="647.3" y2="494.9" stroke="#4d4d4d" stroke-width="0.6"/><text transform="translate(647.3 499.6) scale(0.810 1)" font-size="6.8" text-anchor="middle" fill="#1a1a1a" stroke="#1a1a1a" stroke-width="0.22">100</text><line x1="671.3" y1="493.4" x2="671.3" y2="494.9" stroke="#4d4d4d" stroke-width="0.6"/><text transform="translate(671.3 499.6) scale(0.810 1)" font-size="6.8" text-anchor="middle" fill="#1a1a1a" stroke="#1a1a1a" stroke-width="0.22">1000</text><text transform="translate(633.3 509.9)" font-size="6.4" font-weight="bold" text-anchor="middle" fill="#111111" stroke="#111111" stroke-width="0.11">Rep3</text><text transform="translate(572.71 453.5) rotate(-90)" font-size="6.7" font-weight="bold" text-anchor="middle" fill="#111111" stroke="#111111" stroke-width="0.11">Rep2</text><text transform="translate(596.9 419.2) scale(0.900 1)" font-size="6.3" text-anchor="start" fill="#111111" stroke="#111111" stroke-width="0.22">Known genes</text><text transform="translate(596.9 426) scale(0.9 1)" font-size="6.3" fill="#111111" stroke="#111111" stroke-width="0.22"><tspan font-style="italic">r</tspan>=0.988</text><path d="M435.5 518.5h0M435 519h0M427.5 527h0M426 527.5h0M426.5 528.5h0M424 529h0M425.5 529H427M426 530h0M427 530h0M424.5 530.5H425.5M427 530.5h0M424.5 531H425M421 531.5h0M422.5 531.5h0M423.5 531.5h0M425 531.5h0M422 532H423M421 532.5H422.5M424 532.5H424.5M420 533H421M422 533H422.5M420 533.5H420.5M421.5 533.5H422M423 533.5h0M418.5 534h0M419.5 534h0M420.5 534H421M422 534h0M423 534h0M416.5 534.5h0M420 534.5H421M418 535h0M419 535H420.5M421.5 535h0M416.5 535.5H417M418 535.5H420.5M417.5 536h0M419 536H419.5M421 536h0M416 536.5H417.5M418.5 536.5H419M420 536.5h0M414 537h0M415 537H418.5M419.5 537h0M415 537.5H416M418.5 537.5h0M414 538H414.5M415.5 538H417M418.5 538h0M413 538.5h0M414 538.5H414.5M415.5 538.5h0M417 538.5h0M413.5 539h0M414.5 539H417.5M412.5 539.5h0M414 539.5h0M415 539.5h0M416 539.5H416.5M417.5 539.5H418.5M410 540h0M411.5 540h0M413.5 540H414.5M416 540h0M417 540h0M411 540.5H414M415 540.5H416M410.5 541h0M412 541H413.5M415.5 541h0M410.5 541.5H413M414 541.5H414.5M418 541.5h0M376 542h0M408.5 542H409M410 542H412.5M413.5 542H414.5M415.5 542h0M408.5 542.5h0M409.5 542.5H413.5M414.5 542.5h0M416 542.5h0M353.5 543h0M407.5 543h0M408.5 543H409.5M410.5 543H412.5M415 543h0M407 543.5h0M409 543.5H411M412 543.5H413.5M407 544h0M408 544H413M415 544h0M406 544.5H408M409 544.5H409.5M410.5 544.5H411M412 544.5H412.5M405.5 545H410.5M412 545h0M413 545h0M414 545h0M404.5 545.5h0M406 545.5H406.5M407.5 545.5H410M411.5 545.5h0M412.5 545.5h0M402.5 546h0M403.5 546H404M405 546H410M411 546H411.5M402.5 546.5h0M403.5 546.5H408.5M409.5 546.5H410M411 546.5H412M353.5 547h0M402.5 547h0M403.5 547H406.5M407.5 547H409M410 547h0M413 547h0M385 547.5h0M398 547.5h0M399.5 547.5h0M401 547.5h0M402 547.5H402.5M404 547.5H409M412 547.5h0M400 548h0M401 548H401.5M402.5 548H403M404 548H408.5M401.5 548.5H402.5M403.5 548.5H407.5M409 548.5H409.5M399.5 549H409M412 549h0M399 549.5h0M400 549.5h0M401.5 549.5H407.5M399 550H405.5M406.5 550H407M395.5 550.5H396M397 550.5h0M398 550.5H399M400 550.5H406.5M408 550.5h0M396.5 551h0M397.5 551H405M406 551H407M408.5 551h0M383.5 551.5h0M397.5 551.5H398M400 551.5H405M406 551.5H407M393 552H393.5M395 552h0M396 552H397M398 552h0M399 552H405M406 552h0M407.5 552h0M391 552.5h0M394.5 552.5h0M395.5 552.5h0M396.5 552.5H403M404 552.5H406M396 553H399M400 553H401.5M402.5 553H405M408 553h0M391 553.5h0M393.5 553.5H394M395 553.5H395.5M396.5 553.5H404.5M405.5 553.5h0M407 553.5h0M391 554h0M393 554H401.5M402.5 554H403M404 554H405M406 554h0M386.5 554.5h0M388 554.5h0M391.5 554.5h0M392.5 554.5H404.5M405.5 554.5h0M392.5 555H393.5M394.5 555H404.5M406 555h0M389 555.5h0M390.5 555.5h0M391.5 555.5h0M393 555.5H394M395 555.5H403.5M404.5 555.5h0M388.5 556h0M390 556h0M391 556H391.5M392.5 556h0M393.5 556H400.5M401.5 556H402.5M403.5 556h0M371 556.5h0M376 556.5h0M387 556.5H387.5M390 556.5H398.5M399.5 556.5h0M400.5 556.5H401.5M402.5 556.5h0M384.5 557h0M385.5 557h0M387.5 557h0M388.5 557H390M391 557H391.5M392.5 557H398.5M399.5 557H402M404 557H404.5M380.5 557.5h0M384.5 557.5H385M386.5 557.5H387M388.5 557.5H390.5M391.5 557.5h0M392.5 557.5H401M402 557.5h0M403 557.5H404M383 558h0M387 558h0M388.5 558h0M390 558h0M391.5 558h0M392.5 558H393.5M394.5 558H398.5M399.5 558h0M400.5 558H401M402.5 558h0M353.5 558.5h0M379.5 558.5h0M383 558.5h0M385 558.5h0M386 558.5H386.5M388 558.5H390M391 558.5H401.5M402.5 558.5h0M403.5 558.5h0M374.5 559h0M378.5 559h0M382 559h0M384.5 559h0M386.5 559H387M388 559H396.5M397.5 559H399.5M400.5 559H401M402.5 559h0M403.5 559H404M405.5 559h0M365.5 559.5h0M371 559.5h0M379.5 559.5h0M381.5 559.5H382M383 559.5h0M385.5 559.5h0M386.5 559.5H387M388 559.5H400.5M373 560h0M374.5 560h0M380.5 560h0M383 560H383.5M384.5 560H385M386 560H386.5M388 560h0M389 560H396M397 560H399M401 560h0M403.5 560h0M361 560.5h0M376 560.5h0M377.5 560.5h0M379.5 560.5h0M380.5 560.5h0M381.5 560.5H382M383.5 560.5h0M384.5 560.5H385M386 560.5H387M388 560.5H397M398 560.5H399M400.5 560.5H401M402.5 560.5h0M371 561h0M377.5 561h0M379.5 561h0M380.5 561h0M383.5 561h0M385 561h0M386 561H386.5M387.5 561h0M388.5 561H392.5M393.5 561h0M394.5 561H397M398 561h0M399 561h0M400 561h0M401 561H401.5M353.5 561.5h0M377.5 561.5h0M379.5 561.5h0M382 561.5h0M383 561.5H383.5M385 561.5H396M397 561.5h0M398 561.5H398.5M400 561.5h0M401.5 561.5h0M368.5 562h0M371 562h0M373 562h0M374.5 562h0M377.5 562h0M378.5 562h0M379.5 562h0M381.5 562H382M383 562H383.5M384.5 562H398M399 562H399.5M365.5 562.5h0M373 562.5h0M377.5 562.5h0M378.5 562.5h0M379.5 562.5h0M382 562.5h0M383 562.5H383.5M385 562.5H387M388.5 562.5H389M390 562.5H395.5M397 562.5h0M398.5 562.5h0M399.5 562.5h0M365.5 563h0M374.5 563h0M376 563h0M379.5 563h0M382 563h0M383.5 563h0M384.5 563H396M397 563h0M398 563h0M399 563h0M400 563h0M353.5 563.5h0M368.5 563.5h0M374.5 563.5h0M376 563.5h0M377.5 563.5h0M378.5 563.5h0M379.5 563.5h0M380.5 563.5h0M381.5 563.5H382M383 563.5H383.5M384.5 563.5H397M398 563.5H398.5M373 564h0M374.5 564h0M377.5 564h0M378.5 564h0M379.5 564h0M380.5 564h0M381.5 564H382M383 564H383.5M384.5 564H385.5M386.5 564H394.5M395.5 564H396.5M398 564h0M399 564h0M400 564h0M408 564h0M371 564.5h0M373 564.5h0M374.5 564.5h0M378.5 564.5h0M379.5 564.5h0M380.5 564.5h0M381.5 564.5H382M383 564.5H383.5M384.5 564.5H393.5M394.5 564.5H396.5M361 565h0M365.5 565h0M368.5 565h0M373 565h0M374.5 565h0M376 565h0M377.5 565h0M378.5 565h0M379.5 565h0M380.5 565h0M381.5 565H382M383 565H383.5M384.5 565H394.5M395.5 565h0M396.5 565H397.5M353.5 565.5h0M361 565.5h0M365.5 565.5h0M371 565.5h0M373 565.5h0M374.5 565.5h0M376 565.5h0M377.5 565.5h0M378.5 565.5h0M379.5 565.5h0M380.5 565.5h0M381.5 565.5H382M383 565.5H383.5M384.5 565.5H396M397 565.5h0M399 565.5h0M368.5 566h0M371 566h0M374.5 566h0M377.5 566h0M378.5 566h0M379.5 566h0M380.5 566h0M381.5 566H382M383 566H383.5M384.5 566H393.5M394.5 566H396M353.5 566.5h0M368.5 566.5h0M371 566.5h0M373 566.5h0M374.5 566.5h0M376 566.5h0M377.5 566.5h0M378.5 566.5h0M379.5 566.5h0M380.5 566.5h0M381.5 566.5H382M383 566.5H383.5M384.5 566.5H389M390 566.5H391.5M392.5 566.5H395M396 566.5h0M399 566.5h0M361 567h0M365.5 567h0M368.5 567h0M371 567h0M374.5 567h0M376 567h0M377.5 567h0M378.5 567h0M379.5 567h0M380.5 567h0M381.5 567H382M383 567H383.5M384.5 567H390.5M391.5 567H392.5M393.5 567H394.5M395.5 567H396M397.5 567h0M401 567h0M353.5 568h0M365.5 568h0M368.5 568h0M371 568h0M373 568h0M374.5 568h0M376 568h0M377.5 568h0M378.5 568h0M379.5 568h0M380.5 568h0M381.5 568H382M383 568H383.5M384.5 568H391.5M392.5 568H393M394 568H396M361 568.5h0M365.5 568.5h0M368.5 568.5h0M371 568.5h0M373 568.5h0M374.5 568.5h0M376 568.5h0M377.5 568.5h0M378.5 568.5h0M379.5 568.5h0M380.5 568.5h0M381.5 568.5H382M383 568.5H383.5M384.5 568.5H393.5M394.5 568.5h0M395.5 568.5h0M361 569h0M365.5 569h0M368.5 569h0M371 569h0M373 569h0M374.5 569h0M376 569h0M377.5 569h0M378.5 569h0M379.5 569h0M380.5 569h0M381.5 569H382M383 569H383.5M384.5 569H393M394.5 569h0M353.5 569.5h0M361 569.5h0M365.5 569.5h0M368.5 569.5h0M371 569.5h0M373 569.5h0M374.5 569.5h0M376 569.5h0M377.5 569.5h0M378.5 569.5h0M379.5 569.5h0M380.5 569.5h0M381.5 569.5H382M383 569.5H383.5M384.5 569.5H392.5M393.5 569.5h0M398.5 569.5h0M353.5 570.5h0M361 570.5h0M365.5 570.5h0M368.5 570.5h0M371 570.5h0M373 570.5h0M374.5 570.5h0M376 570.5h0M377.5 570.5h0M378.5 570.5h0M379.5 570.5h0M380.5 570.5h0M381.5 570.5H382M383 570.5H383.5M384.5 570.5H392.5M394.5 570.5h0M395.5 570.5H396.5M400 570.5h0M353.5 571h0M361 571h0M365.5 571h0M368.5 571h0M371 571h0M373 571h0M374.5 571h0M376 571h0M377.5 571h0M378.5 571h0M379.5 571h0M380.5 571h0M381.5 571H382M383 571H383.5M384.5 571H391.5M392.5 571H393.5M396 571h0M397.5 571h0M353.5 572h0M361 572h0M365.5 572h0M368.5 572h0M371 572h0M373 572h0M374.5 572h0M376 572h0M377.5 572h0M378.5 572h0M379.5 572h0M380.5 572h0M381.5 572H382M383 572H383.5M384.5 572H392.5M393.5 572h0M396.5 572h0M353.5 573h0M361 573h0M365.5 573h0M368.5 573h0M371 573h0M373 573h0M374.5 573h0M376 573h0M377.5 573h0M378.5 573h0M379.5 573h0M380.5 573h0M381.5 573H382M383 573H383.5M384.5 573H389M390 573H391M392.5 573H393M353.5 574h0M361 574h0M365.5 574h0M368.5 574h0M371 574h0M373 574h0M374.5 574h0M376 574h0M377.5 574h0M378.5 574h0M379.5 574h0M380.5 574h0M381.5 574H382M383 574H383.5M384.5 574H389M390 574h0M391 574H391.5M407 574h0M353.5 575h0M361 575h0M365.5 575h0M368.5 575h0M371 575h0M373 575h0M374.5 575h0M376 575h0M377.5 575h0M378.5 575h0M379.5 575h0M380.5 575h0M381.5 575H382M383 575H383.5M384.5 575H391M392 575H392.5M393.5 575h0M396.5 575h0M353.5 576h0M361 576h0M365.5 576h0M368.5 576h0M371 576h0M373 576h0M374.5 576h0M376 576h0M377.5 576h0M378.5 576h0M379.5 576h0M380.5 576h0M381.5 576H382M383 576H383.5M384.5 576H387.5M389 576H390M391.5 576h0M393 576h0M394 576h0M402 576h0M353.5 577.5h0M361 577.5h0M365.5 577.5h0M368.5 577.5h0M371 577.5h0M373 577.5h0M374.5 577.5h0M376 577.5h0M377.5 577.5h0M378.5 577.5h0M379.5 577.5h0M380.5 577.5h0M381.5 577.5H382M383 577.5H383.5M384.5 577.5H388.5M390 577.5h0M391.5 577.5h0M392.5 577.5h0M353.5 579h0M361 579h0M365.5 579h0M368.5 579h0M371 579h0M373 579h0M374.5 579h0M376 579h0M377.5 579h0M378.5 579h0M379.5 579h0M380.5 579h0M381.5 579H382M383 579H383.5M384.5 579H387.5M388.5 579h0M390 579h0M391 579H391.5M393 579h0M353.5 581h0M361 581h0M365.5 581h0M368.5 581h0M371 581h0M373 581h0M374.5 581h0M376 581h0M377.5 581h0M378.5 581h0M379.5 581h0M380.5 581h0M381.5 581H382M383 581H383.5M384.5 581H387.5M388.5 581h0M394.5 581H395M353.5 583h0M361 583h0M365.5 583h0M368.5 583h0M371 583h0M373 583h0M374.5 583h0M376 583h0M377.5 583h0M378.5 583h0M379.5 583h0M380.5 583h0M381.5 583H382M383 583H383.5M384.5 583H386M387 583h0M388 583H388.5M389.5 583H390.5M409.5 583h0M353.5 586h0M361 586h0M365.5 586h0M368.5 586h0M371 586h0M373 586h0M374.5 586h0M376 586h0M377.5 586h0M378.5 586h0M379.5 586h0M380.5 586h0M381.5 586H382M383 586H383.5M384.5 586h0M385.5 586h0M386.5 586H387.5M389 586h0M390 586h0M391.5 586h0M353.5 590.5h0M361 590.5h0M365.5 590.5h0M368.5 590.5h0M371 590.5h0M373 590.5h0M374.5 590.5h0M376 590.5h0M377.5 590.5h0M378.5 590.5h0M379.5 590.5h0M380.5 590.5h0M381.5 590.5H382M383 590.5H383.5M384.5 590.5H386.5M387.5 590.5h0M388.5 590.5h0M391.5 590.5h0M394 590.5h0M395 590.5h0M396.5 597h0M399 597h0M401 597h0M414 597h0M353.5 597.5h0M361 597.5h0M365.5 597.5h0M368.5 597.5h0M371 597.5h0M373 597.5h0M374.5 597.5h0M376 597.5h0M377.5 597.5h0M378.5 597.5h0M379.5 597.5h0M380.5 597.5h0M381.5 597.5H382M383 597.5H383.5M384.5 597.5H385.5M386.5 597.5H387M398.5 597.5h0" stroke="#FF0000" stroke-width="1.75" stroke-linecap="round" fill="none"/><line x1="349.3" y1="515.3" x2="349.3" y2="602" stroke="#505050" stroke-width="1"/><line x1="348.8" y1="601.5" x2="440.7" y2="601.5" stroke="#505050" stroke-width="1"/><line x1="347.8" y1="522.3" x2="349.3" y2="522.3" stroke="#4d4d4d" stroke-width="0.6"/><text transform="translate(347.1 524.7) scale(0.810 1)" font-size="6.8" text-anchor="end" fill="#1a1a1a" stroke="#1a1a1a" stroke-width="0.22">1000</text><line x1="347.8" y1="545.9" x2="349.3" y2="545.9" stroke="#4d4d4d" stroke-width="0.6"/><text transform="translate(347.1 548.3) scale(0.810 1)" font-size="6.8" text-anchor="end" fill="#1a1a1a" stroke="#1a1a1a" stroke-width="0.22">100</text><line x1="347.8" y1="569.6" x2="349.3" y2="569.6" stroke="#4d4d4d" stroke-width="0.6"/><text transform="translate(347.1 572) scale(0.810 1)" font-size="6.8" text-anchor="end" fill="#1a1a1a" stroke="#1a1a1a" stroke-width="0.22">10</text><line x1="347.8" y1="593.2" x2="349.3" y2="593.2" stroke="#4d4d4d" stroke-width="0.6"/><text transform="translate(347.1 595.6) scale(0.810 1)" font-size="6.8" text-anchor="end" fill="#1a1a1a" stroke="#1a1a1a" stroke-width="0.22">1</text><line x1="358.9" y1="601.5" x2="358.9" y2="603" stroke="#4d4d4d" stroke-width="0.6"/><text transform="translate(358.9 608.7) scale(0.810 1)" font-size="6.8" text-anchor="middle" fill="#1a1a1a" stroke="#1a1a1a" stroke-width="0.22">1</text><line x1="384.7" y1="601.5" x2="384.7" y2="603" stroke="#4d4d4d" stroke-width="0.6"/><text transform="translate(384.7 608.7) scale(0.810 1)" font-size="6.8" text-anchor="middle" fill="#1a1a1a" stroke="#1a1a1a" stroke-width="0.22">10</text><line x1="410.2" y1="601.5" x2="410.2" y2="603" stroke="#4d4d4d" stroke-width="0.6"/><text transform="translate(410.2 608.7) scale(0.810 1)" font-size="6.8" text-anchor="middle" fill="#1a1a1a" stroke="#1a1a1a" stroke-width="0.22">100</text><line x1="434.6" y1="601.5" x2="434.6" y2="603" stroke="#4d4d4d" stroke-width="0.6"/><text transform="translate(434.6 608.7) scale(0.810 1)" font-size="6.8" text-anchor="middle" fill="#1a1a1a" stroke="#1a1a1a" stroke-width="0.22">1000</text><text transform="translate(391.3 618.9)" font-size="6.4" font-weight="bold" text-anchor="middle" fill="#111111" stroke="#111111" stroke-width="0.11">Rep1</text><text transform="translate(331.81 556.2) rotate(-90)" font-size="6.7" font-weight="bold" text-anchor="middle" fill="#111111" stroke="#111111" stroke-width="0.11">Rep2</text><text transform="translate(360.1 527.6) scale(0.900 1)" font-size="6.3" text-anchor="start" fill="#111111" stroke="#111111" stroke-width="0.22">All isoforms</text><text transform="translate(360.1 534.4) scale(0.9 1)" font-size="6.3" fill="#111111" stroke="#111111" stroke-width="0.22"><tspan font-style="italic">r</tspan>=0.986</text><path d="M554.5 518h0M553 519h0M537.5 525h0M545.5 527H546M542.5 528h0M542.5 528.5h0M541.5 529h0M542.5 529h0M543.5 529h0M544.5 529H545M541.5 529.5h0M542.5 529.5h0M543.5 529.5h0M545 529.5h0M539.5 530h0M541.5 530h0M543 530h0M544 530H544.5M541 530.5H541.5M543 530.5h0M544 530.5h0M539 531h0M540 531H540.5M541.5 531H542.5M540 531.5H541M542.5 531.5h0M538.5 532H539M540 532h0M541.5 532h0M537.5 532.5h0M539 532.5H540.5M538 533H538.5M540 533H540.5M536.5 533.5h0M538.5 533.5h0M539.5 533.5H540.5M538.5 534h0M543 534h0M535.5 534.5H536M537 534.5h0M538 534.5h0M533 535h0M536 535H537.5M531.5 535.5h0M535 535.5H537M533.5 536h0M534.5 536H535.5M536.5 536H537.5M538.5 536H539M532 536.5h0M533.5 536.5h0M534.5 536.5H535M536 536.5H538M539 536.5H539.5M532 537h0M533 537h0M534 537H537M531.5 537.5h0M532.5 537.5H533M534 537.5h0M536 537.5h0M539.5 537.5h0M532.5 538h0M534 538H536.5M531.5 538.5H533M534 538.5H535.5M537 538.5h0M529 539h0M530 539h0M531.5 539h0M532.5 539H535M536 539h0M529 539.5h0M530.5 539.5h0M531.5 539.5H533.5M535.5 539.5h0M527.5 540h0M530 540H530.5M531.5 540H534M526.5 540.5h0M527.5 540.5h0M529 540.5h0M530 540.5H532M533 540.5H533.5M527.5 541h0M530 541H531M532 541H532.5M534.5 541h0M526 541.5H526.5M528.5 541.5H529.5M530.5 541.5H533M534 541.5h0M524 542h0M525.5 542h0M527.5 542H529.5M530.5 542H531.5M526.5 542.5H529.5M530.5 542.5h0M532.5 542.5H533M525 543h0M526.5 543H528.5M529.5 543h0M531 543H531.5M525 543.5h0M526.5 543.5h0M527.5 543.5H528M529 543.5H530.5M524 544h0M525 544H525.5M526.5 544h0M527.5 544H529.5M530.5 544h0M533 544h0M522.5 544.5h0M524 544.5H530.5M531.5 544.5H532M523.5 545H524M525 545h0M526 545H527.5M528.5 545H530.5M520 545.5H520.5M521.5 545.5h0M522.5 545.5H523M524.5 545.5H527M528 545.5H529M531 545.5h0M523 546H529.5M517.5 546.5h0M521 546.5h0M522 546.5H527.5M529.5 546.5h0M530.5 546.5h0M520.5 547h0M521.5 547h0M522.5 547H527.5M528.5 547H529M531 547h0M518 547.5h0M519.5 547.5h0M520.5 547.5H521M522 547.5H526M527.5 547.5h0M517.5 548h0M519 548H520.5M522 548h0M523 548H525.5M526.5 548H527M513.5 548.5h0M516 548.5h0M518.5 548.5H519M520 548.5H520.5M521.5 548.5H526M527 548.5h0M518.5 549h0M519.5 549H528M515.5 549.5h0M518 549.5h0M519 549.5h0M520 549.5H526M527 549.5h0M510.5 550h0M517 550h0M518 550H524.5M526.5 550h0M515.5 550.5H516M517.5 550.5H525.5M516.5 551h0M518 551H526M490 551.5h0M515.5 551.5H516.5M517.5 551.5H523.5M524.5 551.5H525M527 551.5h0M515 552h0M516 552H517M518.5 552H519.5M520.5 552H523.5M524.5 552h0M526.5 552h0M511 552.5h0M513.5 552.5H514M515 552.5h0M517 552.5h0M518 552.5H523M524.5 552.5H525M511 553h0M513 553H515M516 553H522.5M523.5 553H524.5M510.5 553.5h0M513.5 553.5H514.5M515.5 553.5H523M524.5 553.5h0M526.5 553.5h0M510.5 554h0M511.5 554h0M513 554H513.5M514.5 554H523M509 554.5h0M510.5 554.5h0M511.5 554.5H512M513 554.5H521M522 554.5h0M523.5 554.5h0M470.5 555h0M508.5 555h0M512 555h0M513 555H514.5M515.5 555H521.5M522.5 555h0M523.5 555h0M507.5 555.5h0M510 555.5H510.5M511.5 555.5H518M519 555.5H523M502 556h0M503 556h0M507.5 556H508.5M509.5 556h0M510.5 556h0M512.5 556H521.5M507 556.5h0M510 556.5H520.5M496 557h0M500.5 557h0M502 557h0M506.5 557h0M509 557h0M510.5 557h0M511.5 557H512M514 557H517.5M519 557h0M520 557H520.5M522.5 557h0M479 557.5h0M506 557.5h0M508 557.5h0M509.5 557.5H520.5M521.5 557.5h0M523 557.5H523.5M504.5 558h0M506 558h0M507 558h0M508 558H509M510.5 558H511.5M512.5 558H514M515 558H517M518 558H521M522 558h0M523 558h0M501 558.5h0M505 558.5h0M506 558.5h0M507.5 558.5h0M510 558.5H520M521 558.5H521.5M499.5 559h0M504.5 559h0M506 559H508M509 559H520M505 559.5H505.5M506.5 559.5H508.5M509.5 559.5H516.5M517.5 559.5H519.5M520.5 559.5h0M482.5 560h0M500.5 560h0M504.5 560h0M505.5 560H506M507 560H508M509 560h0M510 560H513M514 560H518M519 560H519.5M521 560h0M500.5 560.5H501.5M503 560.5h0M504 560.5h0M506 560.5H519M521.5 560.5h0M498.5 561h0M499.5 561h0M503.5 561H504M505 561H518M519 561H519.5M520.5 561h0M530 561h0M501 561.5h0M502 561.5h0M503.5 561.5h0M504.5 561.5H512.5M513.5 561.5H518M519 561.5H520M482.5 562h0M493.5 562h0M498.5 562h0M500.5 562h0M501.5 562h0M503 562h0M504.5 562h0M506 562H515M516 562H516.5M518 562h0M482.5 562.5h0M494.5 562.5h0M498.5 562.5h0M500.5 562.5H501.5M503 562.5H506.5M507.5 562.5H516.5M519 562.5h0M520 562.5h0M493.5 563h0M494.5 563h0M497 563h0M498.5 563h0M499.5 563h0M501 563h0M502 563h0M503.5 563H516M517 563H517.5M519 563h0M497 563.5h0M500.5 563.5h0M501.5 563.5H502M503 563.5h0M504 563.5H508M509 563.5H513.5M514.5 563.5H517.5M526 563.5h0M497 564h0M498 564H498.5M499.5 564h0M500.5 564H502M503 564H507M508 564H518M520.5 564h0M498 564.5h0M499.5 564.5h0M501 564.5h0M502 564.5h0M503.5 564.5H504.5M505.5 564.5H508M509 564.5H514.5M516.5 564.5H517M522 564.5h0M490.5 565h0M493.5 565h0M496 565h0M497 565h0M498 565h0M500.5 565H501M502 565h0M503 565H510M511 565H514.5M515.5 565H516M517.5 565h0M520.5 565h0M521.5 565h0M493.5 565.5h0M494.5 565.5h0M498 565.5h0M501 565.5H502M503 565.5H509M510 565.5H512M513 565.5H514M515 565.5H517M518 565.5H518.5M490.5 566h0M492 566h0M493.5 566h0M497 566h0M498 566H498.5M499.5 566h0M500.5 566H502M503 566H511.5M512.5 566H515.5M516.5 566h0M517.5 566h0M478.5 566.5h0M490.5 566.5h0M492 566.5h0M493.5 566.5h0M494.5 566.5h0M496 566.5h0M498 566.5h0M499.5 566.5h0M500.5 566.5H502M503 566.5H512.5M513.5 566.5H514.5M515.5 566.5h0M517 566.5H518M486 567h0M490.5 567h0M493.5 567h0M496 567h0M497 567h0M498 567H498.5M499.5 567h0M500.5 567H502M503 567H511M512.5 567H513.5M515.5 567h0M516.5 567h0M518 567h0M478.5 567.5h0M492 567.5h0M493.5 567.5h0M494.5 567.5h0M496 567.5h0M497 567.5h0M498 567.5h0M499.5 567.5h0M500.5 567.5H502M503 567.5H513M514 567.5H515.5M516.5 567.5h0M518 567.5h0M520 567.5h0M486 568h0M490.5 568h0M492 568h0M493.5 568h0M494.5 568h0M496 568h0M497 568h0M498 568H498.5M499.5 568h0M500.5 568H502M503 568H513M514 568h0M515 568h0M516 568h0M486 568.5h0M488.5 568.5h0M490.5 568.5h0M493.5 568.5h0M494.5 568.5h0M496 568.5h0M497 568.5h0M498 568.5H498.5M499.5 568.5h0M500.5 568.5H502M503 568.5H509M510 568.5H512.5M515.5 568.5h0M517.5 568.5h0M470.5 569h0M486 569h0M488.5 569h0M490.5 569h0M492 569h0M493.5 569h0M494.5 569h0M496 569h0M497 569h0M498 569H498.5M499.5 569h0M500.5 569H502M503 569H515M516.5 569h0M520 569h0M486 570h0M488.5 570h0M490.5 570h0M492 570h0M493.5 570h0M494.5 570h0M496 570h0M497 570h0M498 570H498.5M499.5 570h0M500.5 570H502M503 570H511.5M512.5 570H515.5M470.5 570.5h0M482.5 570.5h0M486 570.5h0M490.5 570.5h0M492 570.5h0M493.5 570.5h0M494.5 570.5h0M496 570.5h0M497 570.5h0M498 570.5H498.5M499.5 570.5h0M500.5 570.5H502M503 570.5H514.5M482.5 571h0M486 571h0M488.5 571h0M490.5 571h0M492 571h0M493.5 571h0M494.5 571h0M496 571h0M497 571h0M498 571H498.5M499.5 571h0M500.5 571H502M503 571H512.5M515 571h0M516 571h0M517 571h0M470.5 572h0M482.5 572h0M486 572h0M488.5 572h0M490.5 572h0M492 572h0M493.5 572h0M494.5 572h0M496 572h0M497 572h0M498 572H498.5M499.5 572h0M500.5 572H502M503 572H509M510 572H511.5M512.5 572H515M470.5 573h0M478.5 573h0M482.5 573h0M486 573h0M488.5 573h0M490.5 573h0M492 573h0M493.5 573h0M494.5 573h0M496 573h0M497 573h0M498 573H498.5M499.5 573h0M500.5 573H502M503 573H512M513 573h0M514 573H514.5M478.5 574h0M482.5 574h0M486 574h0M488.5 574h0M490.5 574h0M492 574h0M493.5 574h0M494.5 574h0M496 574h0M497 574h0M498 574H498.5M499.5 574h0M500.5 574H502M503 574H511M512 574h0M513 574h0M516 574h0M520 574h0M478.5 575h0M482.5 575h0M486 575h0M488.5 575h0M490.5 575h0M492 575h0M493.5 575h0M494.5 575h0M496 575h0M497 575h0M498 575H498.5M499.5 575h0M500.5 575H502M503 575H510.5M511.5 575H513M514.5 575h0M470.5 576h0M478.5 576h0M482.5 576h0M486 576h0M488.5 576h0M490.5 576h0M492 576h0M493.5 576h0M494.5 576h0M496 576h0M497 576h0M498 576H498.5M499.5 576h0M500.5 576H502M503 576H512M513 576H514.5M516.5 576h0M470.5 577.5h0M478.5 577.5h0M482.5 577.5h0M486 577.5h0M488.5 577.5h0M490.5 577.5h0M492 577.5h0M493.5 577.5h0M494.5 577.5h0M496 577.5h0M497 577.5h0M498 577.5H498.5M499.5 577.5h0M500.5 577.5H502M503 577.5H508.5M509.5 577.5h0M510.5 577.5h0M511.5 577.5h0M512.5 577.5h0M513.5 577.5h0M517.5 577.5h0M470.5 579h0M478.5 579h0M482.5 579h0M486 579h0M488.5 579h0M490.5 579h0M492 579h0M493.5 579h0M494.5 579h0M496 579h0M497 579h0M498 579H498.5M499.5 579h0M500.5 579H502M503 579H508M509 579h0M510 579h0M512 579h0M513 579h0M515.5 579h0M470.5 581h0M478.5 581h0M482.5 581h0M486 581h0M488.5 581h0M490.5 581h0M492 581h0M493.5 581h0M494.5 581h0M496 581h0M497 581h0M498 581H498.5M499.5 581h0M500.5 581H502M503 581H510.5M470.5 583.5h0M478.5 583.5h0M482.5 583.5h0M486 583.5h0M488.5 583.5h0M490.5 583.5h0M492 583.5h0M493.5 583.5h0M494.5 583.5h0M496 583.5h0M497 583.5h0M498 583.5H498.5M499.5 583.5h0M500.5 583.5H502M503 583.5H508.5M510 583.5H510.5M514.5 583.5h0M470.5 586h0M478.5 586h0M482.5 586h0M486 586h0M488.5 586h0M490.5 586h0M492 586h0M493.5 586h0M494.5 586h0M496 586h0M497 586h0M498 586H498.5M499.5 586h0M500.5 586H502M503 586H507M508 586H508.5M510 586H510.5M512 586H512.5M470.5 590.5h0M478.5 590.5h0M482.5 590.5h0M486 590.5h0M488.5 590.5h0M490.5 590.5h0M492 590.5h0M493.5 590.5h0M494.5 590.5h0M496 590.5h0M497 590.5h0M498 590.5H498.5M499.5 590.5h0M500.5 590.5H502M503 590.5H506M507 590.5H508M509 590.5h0M511.5 590.5h0M512.5 590.5h0M509 596h0M533 596h0M470.5 597.5h0M478.5 597.5h0M482.5 597.5h0M486 597.5h0M488.5 597.5h0M490.5 597.5h0M492 597.5h0M493.5 597.5h0M494.5 597.5h0M496 597.5h0M497 597.5h0M498 597.5H498.5M499.5 597.5h0M500.5 597.5H502M503 597.5H505.5M509 597.5h0M510.5 597.5h0" stroke="#0000FF" stroke-width="1.75" stroke-linecap="round" fill="none"/><line x1="466.6" y1="515.3" x2="466.6" y2="602" stroke="#505050" stroke-width="1"/><line x1="466.1" y1="601.5" x2="558.6" y2="601.5" stroke="#505050" stroke-width="1"/><line x1="465.1" y1="522.6" x2="466.6" y2="522.6" stroke="#4d4d4d" stroke-width="0.6"/><text transform="translate(464.4 525) scale(0.810 1)" font-size="6.8" text-anchor="end" fill="#1a1a1a" stroke="#1a1a1a" stroke-width="0.22">1000</text><line x1="465.1" y1="545.9" x2="466.6" y2="545.9" stroke="#4d4d4d" stroke-width="0.6"/><text transform="translate(464.4 548.3) scale(0.810 1)" font-size="6.8" text-anchor="end" fill="#1a1a1a" stroke="#1a1a1a" stroke-width="0.22">100</text><line x1="465.1" y1="569.6" x2="466.6" y2="569.6" stroke="#4d4d4d" stroke-width="0.6"/><text transform="translate(464.4 572) scale(0.810 1)" font-size="6.8" text-anchor="end" fill="#1a1a1a" stroke="#1a1a1a" stroke-width="0.22">10</text><line x1="465.1" y1="593.2" x2="466.6" y2="593.2" stroke="#4d4d4d" stroke-width="0.6"/><text transform="translate(464.4 595.6) scale(0.810 1)" font-size="6.8" text-anchor="end" fill="#1a1a1a" stroke="#1a1a1a" stroke-width="0.22">1</text><line x1="476.3" y1="601.5" x2="476.3" y2="603" stroke="#4d4d4d" stroke-width="0.6"/><text transform="translate(476.3 608.7) scale(0.810 1)" font-size="6.8" text-anchor="middle" fill="#1a1a1a" stroke="#1a1a1a" stroke-width="0.22">1</text><line x1="501.7" y1="601.5" x2="501.7" y2="603" stroke="#4d4d4d" stroke-width="0.6"/><text transform="translate(501.7 608.7) scale(0.810 1)" font-size="6.8" text-anchor="middle" fill="#1a1a1a" stroke="#1a1a1a" stroke-width="0.22">10</text><line x1="526.7" y1="601.5" x2="526.7" y2="603" stroke="#4d4d4d" stroke-width="0.6"/><text transform="translate(526.7 608.7) scale(0.810 1)" font-size="6.8" text-anchor="middle" fill="#1a1a1a" stroke="#1a1a1a" stroke-width="0.22">100</text><line x1="551.6" y1="601.5" x2="551.6" y2="603" stroke="#4d4d4d" stroke-width="0.6"/><text transform="translate(551.6 608.7) scale(0.810 1)" font-size="6.8" text-anchor="middle" fill="#1a1a1a" stroke="#1a1a1a" stroke-width="0.22">1000</text><text transform="translate(514 618.9)" font-size="6.4" font-weight="bold" text-anchor="middle" fill="#111111" stroke="#111111" stroke-width="0.11">Rep1</text><text transform="translate(450.41 556.2) rotate(-90)" font-size="6.7" font-weight="bold" text-anchor="middle" fill="#111111" stroke="#111111" stroke-width="0.11">Rep3</text><text transform="translate(477.2 527.6) scale(0.900 1)" font-size="6.3" text-anchor="start" fill="#111111" stroke="#111111" stroke-width="0.22">All isoforms</text><text transform="translate(477.2 534.4) scale(0.9 1)" font-size="6.3" fill="#111111" stroke="#111111" stroke-width="0.22"><tspan font-style="italic">r</tspan>=0.971</text><path d="M672 519h0M658 525h0M664.5 527.5h0M665.5 527.5h0M663.5 528h0M664.5 528h0M666 528h0M663 528.5H663.5M662 529h0M663.5 529h0M665 529h0M662 529.5h0M664 529.5h0M661.5 530H663M664.5 530h0M660.5 530.5h0M662 530.5h0M663.5 530.5h0M664.5 530.5h0M660 531H660.5M662.5 531h0M660.5 531.5H662M659.5 532h0M661 532h0M662 532h0M659 532.5H660.5M659 533H660.5M663 533h0M657 533.5h0M658 533.5H658.5M659.5 533.5h0M655.5 534h0M657 534h0M658 534H659M656.5 534.5h0M658 534.5H660M661 534.5h0M652.5 535h0M655 535H658M659.5 535h0M660.5 535h0M654.5 535.5H655.5M656.5 535.5h0M657.5 535.5H659M653 536h0M655 536H655.5M656.5 536h0M658 536h0M652.5 536.5h0M655 536.5H655.5M656.5 536.5h0M658.5 536.5H659M653.5 537h0M654.5 537H656M650.5 537.5h0M653 537.5h0M654 537.5H655.5M657 537.5h0M653 538H653.5M655 538H656M658.5 538h0M650.5 538.5H651M652 538.5H653M654 538.5H654.5M656 538.5H656.5M651 539h0M652 539h0M653 539H655.5M656.5 539h0M649.5 539.5h0M650.5 539.5h0M651.5 539.5H653.5M654.5 539.5H655M656 539.5h0M649 540H652.5M653.5 540H654M655 540h0M648.5 540.5h0M649.5 540.5H652M653.5 540.5h0M655.5 540.5h0M647.5 541h0M649.5 541h0M650.5 541H652.5M647.5 541.5H648M649 541.5H651.5M652.5 541.5h0M653.5 541.5h0M645.5 542h0M647 542h0M648 542h0M649.5 542h0M650.5 542H652.5M645 542.5h0M646.5 542.5H647M648.5 542.5H651.5M645 543h0M646 543H646.5M647.5 543h0M648.5 543H650.5M651.5 543h0M652.5 543h0M646.5 543.5H649.5M650.5 543.5H651.5M653.5 543.5h0M644.5 544h0M646 544H649.5M650.5 544H651.5M640 544.5h0M642 544.5h0M644.5 544.5h0M645.5 544.5h0M646.5 544.5H650M651 544.5H651.5M643.5 545h0M644.5 545H645.5M646.5 545H649.5M650.5 545H651M652 545h0M640 545.5h0M642.5 545.5h0M643.5 545.5h0M644.5 545.5h0M645.5 545.5H647M649 545.5H649.5M642.5 546H643M644.5 546H647M648.5 546h0M640.5 546.5h0M641.5 546.5H642M643 546.5H649M640 547h0M642 547h0M643 547H644M645 547H646.5M647.5 547H648M639.5 547.5h0M641 547.5h0M642 547.5H646.5M647.5 547.5h0M649 547.5h0M635 548h0M637.5 548H638M639.5 548h0M640.5 548h0M641.5 548h0M642.5 548H646M647 548h0M638.5 548.5h0M641 548.5H641.5M642.5 548.5H643M644 548.5H646M647.5 548.5H648M637.5 549h0M638.5 549h0M639.5 549H647M648 549h0M637 549.5h0M639.5 549.5H644.5M645.5 549.5H646M649 549.5h0M637.5 550H639.5M640.5 550H644.5M645.5 550H646M632.5 550.5h0M633.5 550.5h0M634.5 550.5H635M636.5 550.5H640M641 550.5H643.5M644.5 550.5H645.5M648.5 550.5h0M634 551h0M636.5 551h0M638 551H638.5M639.5 551H640M641 551H644M645 551h0M646.5 551h0M613.5 551.5h0M630.5 551.5h0M633.5 551.5h0M635.5 551.5h0M636.5 551.5H643.5M644.5 551.5H645.5M634 552H635M636 552H644.5M632.5 552.5h0M634 552.5h0M635 552.5H644.5M646 552.5h0M620 553h0M632 553h0M633.5 553H634M635.5 553h0M636.5 553H644M645 553h0M632 553.5h0M634.5 553.5H642M643 553.5h0M627.5 554h0M630.5 554h0M632.5 554H634M635 554H635.5M636.5 554H640.5M642 554h0M643 554h0M646 554h0M590 554.5h0M631.5 554.5H632.5M633.5 554.5H643M644 554.5h0M627 555h0M629 555h0M630 555h0M632 555H632.5M633.5 555H635.5M636.5 555H638.5M639.5 555H640.5M641.5 555h0M642.5 555H643M644 555h0M627.5 555.5H628M630.5 555.5H631M632.5 555.5H641M643.5 555.5H644M623 556h0M627.5 556h0M628.5 556H629M631 556h0M632 556H638.5M639.5 556H642M645 556h0M628 556.5h0M629.5 556.5h0M630.5 556.5H631.5M632.5 556.5H639M640 556.5H641.5M642.5 556.5h0M643.5 556.5h0M626.5 557h0M627.5 557h0M628.5 557h0M630 557H631M632.5 557H640.5M641.5 557h0M643.5 557H644M610 557.5h0M620 557.5h0M626.5 557.5h0M627.5 557.5H628M629 557.5H630M631 557.5H639.5M640.5 557.5h0M641.5 557.5h0M627.5 558H628M629 558H637.5M638.5 558H639.5M645.5 558h0M624 558.5h0M626 558.5h0M627 558.5h0M628 558.5h0M629 558.5h0M630 558.5h0M631 558.5h0M632 558.5H637M638 558.5H639M640 558.5h0M641.5 558.5h0M621 559h0M625 559H625.5M626.5 559h0M627.5 559h0M628.5 559H629M630 559H632.5M633.5 559H636.5M637.5 559H640M641 559h0M623.5 559.5h0M624.5 559.5H626.5M628.5 559.5H635M636 559.5H637.5M638.5 559.5H639.5M621 560h0M624 560h0M625 560H627.5M629 560H638.5M641 560h0M615.5 560.5h0M618.5 560.5h0M622 560.5h0M623.5 560.5H624.5M625.5 560.5h0M626.5 560.5H637.5M625.5 561H626M627.5 561H638M606.5 561.5h0M616.5 561.5h0M621.5 561.5h0M623 561.5H625.5M626.5 561.5H637.5M638.5 561.5h0M639.5 561.5h0M612.5 562h0M616.5 562h0M618.5 562h0M619.5 562h0M621 562h0M622 562h0M624 562H625M626 562H636.5M637.5 562h0M638.5 562H639.5M643.5 562h0M616.5 562.5h0M619.5 562.5H620M621 562.5h0M622 562.5h0M623 562.5h0M624 562.5h0M625 562.5H625.5M628.5 562.5H634M635 562.5H636M638 562.5h0M643.5 562.5h0M614 563h0M618.5 563h0M620 563h0M621.5 563h0M623 563H624M625 563H634M635 563H636M637 563h0M638 563h0M611 563.5h0M615.5 563.5h0M616.5 563.5h0M617.5 563.5h0M618.5 563.5h0M619.5 563.5h0M621 563.5H621.5M623 563.5h0M624 563.5H636M637 563.5H637.5M638.5 563.5h0M616.5 564h0M617.5 564h0M621 564H621.5M623 564h0M624 564H625.5M626.5 564H631M632 564H633.5M635 564h0M636 564h0M637 564h0M639 564H639.5M609 564.5h0M612.5 564.5h0M615.5 564.5h0M618.5 564.5h0M619.5 564.5H620M621 564.5H622M623 564.5H624M625 564.5H625.5M626.5 564.5H634M635 564.5H635.5M640 564.5h0M611 565h0M612.5 565h0M614 565h0M616.5 565h0M618.5 565h0M619.5 565h0M621 565H622M623 565H633.5M634.5 565h0M635.5 565h0M636.5 565H637M638 565h0M591.5 565.5h0M603.5 565.5h0M611 565.5h0M614 565.5h0M615.5 565.5h0M616.5 565.5h0M617.5 565.5h0M618.5 565.5h0M619.5 565.5H620M621 565.5H622M623 565.5H636M637.5 565.5H638M639 565.5h0M606.5 566h0M612.5 566h0M615.5 566h0M616.5 566h0M617.5 566h0M618.5 566h0M619.5 566H620M621 566H622M623 566H634M635 566h0M636 566h0M637 566h0M638 566h0M609 566.5h0M612.5 566.5h0M614 566.5h0M615.5 566.5h0M616.5 566.5h0M618.5 566.5h0M620 566.5h0M621 566.5H622M623 566.5H631.5M632.5 566.5H633.5M634.5 566.5H635M606.5 567h0M612.5 567h0M614 567h0M615.5 567h0M616.5 567h0M617.5 567h0M618.5 567h0M619.5 567H620M621 567H622M623 567H633.5M634.5 567h0M636.5 567h0M599 568h0M606.5 568h0M611 568h0M612.5 568h0M614 568h0M615.5 568h0M616.5 568h0M617.5 568h0M618.5 568h0M619.5 568H620M621 568H622M623 568H627.5M628.5 568H632M633.5 568H635M636 568h0M637.5 568h0M609 568.5h0M611 568.5h0M612.5 568.5h0M614 568.5h0M615.5 568.5h0M616.5 568.5h0M617.5 568.5h0M618.5 568.5h0M619.5 568.5H620M621 568.5H622M623 568.5H629M630 568.5H630.5M631.5 568.5h0M633 568.5H633.5M634.5 568.5h0M636.5 568.5h0M638 568.5h0M591.5 569h0M606.5 569h0M609 569h0M611 569h0M612.5 569h0M614 569h0M615.5 569h0M616.5 569h0M617.5 569h0M618.5 569h0M619.5 569H620M621 569H622M623 569H632M633 569H633.5M635 569h0M636 569h0M591.5 569.5h0M606.5 569.5h0M609 569.5h0M611 569.5h0M612.5 569.5h0M614 569.5h0M615.5 569.5h0M616.5 569.5h0M617.5 569.5h0M618.5 569.5h0M619.5 569.5H620M621 569.5H622M623 569.5H631M632.5 569.5H633.5M636 569.5h0M643 569.5h0M591.5 570.5h0M599 570.5h0M603.5 570.5h0M606.5 570.5h0M609 570.5h0M611 570.5h0M612.5 570.5h0M614 570.5h0M615.5 570.5h0M616.5 570.5h0M617.5 570.5h0M618.5 570.5h0M619.5 570.5H620M621 570.5H622M623 570.5H629M630 570.5H632M633.5 570.5h0M636 570.5h0M591.5 571h0M603.5 571h0M606.5 571h0M609 571h0M611 571h0M612.5 571h0M614 571h0M615.5 571h0M616.5 571h0M617.5 571h0M618.5 571h0M619.5 571H620M621 571H622M623 571H630.5M632 571H632.5M633.5 571h0M635 571h0M591.5 572h0M599 572h0M603.5 572h0M606.5 572h0M609 572h0M611 572h0M612.5 572h0M614 572h0M615.5 572h0M616.5 572h0M617.5 572h0M618.5 572h0M619.5 572H620M621 572H622M623 572H630M631 572H632M634.5 572h0M635.5 572h0M591.5 573h0M599 573h0M603.5 573h0M606.5 573h0M609 573h0M611 573h0M612.5 573h0M614 573h0M615.5 573h0M616.5 573h0M617.5 573h0M618.5 573h0M619.5 573H620M621 573H622M623 573H630.5M632 573H633M634 573h0M637.5 573h0M591.5 574h0M599 574h0M603.5 574h0M606.5 574h0M609 574h0M611 574h0M612.5 574h0M614 574h0M615.5 574h0M616.5 574h0M617.5 574h0M618.5 574h0M619.5 574H620M621 574H622M623 574H628M629 574H631M632.5 574H633M635.5 574h0M591.5 575h0M599 575h0M603.5 575h0M606.5 575h0M609 575h0M611 575h0M612.5 575h0M614 575h0M615.5 575h0M616.5 575h0M617.5 575h0M618.5 575h0M619.5 575H620M621 575H622M623 575H629M630 575H630.5M633.5 575h0M635.5 575H636M591.5 576h0M599 576h0M603.5 576h0M606.5 576h0M609 576h0M611 576h0M612.5 576h0M614 576h0M615.5 576h0M616.5 576h0M617.5 576h0M618.5 576h0M619.5 576H620M621 576H622M623 576H630.5M633.5 576h0M591.5 577.5h0M599 577.5h0M603.5 577.5h0M606.5 577.5h0M609 577.5h0M611 577.5h0M612.5 577.5h0M614 577.5h0M615.5 577.5h0M616.5 577.5h0M617.5 577.5h0M618.5 577.5h0M619.5 577.5H620M621 577.5H622M623 577.5H628M629 577.5h0M630 577.5h0M631 577.5h0M591.5 579h0M599 579h0M603.5 579h0M606.5 579h0M609 579h0M611 579h0M612.5 579h0M614 579h0M615.5 579h0M616.5 579h0M617.5 579h0M618.5 579h0M619.5 579H620M621 579H622M623 579H627.5M629 579h0M631 579h0M633 579h0M591.5 581h0M599 581h0M603.5 581h0M606.5 581h0M609 581h0M611 581h0M612.5 581h0M614 581h0M615.5 581h0M616.5 581h0M617.5 581h0M618.5 581h0M619.5 581H620M621 581H622M623 581H627.5M629 581H629.5M630.5 581h0M646 581h0M591.5 583h0M599 583h0M603.5 583h0M606.5 583h0M609 583h0M611 583h0M612.5 583h0M614 583h0M615.5 583h0M616.5 583h0M617.5 583h0M618.5 583h0M619.5 583H620M621 583H622M623 583H627M628 583h0M629 583h0M631 583h0M591.5 586h0M599 586h0M603.5 586h0M606.5 586h0M609 586h0M611 586h0M612.5 586h0M614 586h0M615.5 586h0M616.5 586h0M617.5 586h0M618.5 586h0M619.5 586H620M621 586H622M623 586H626M627 586H628M629 586H629.5M591.5 590.5h0M599 590.5h0M603.5 590.5h0M606.5 590.5h0M609 590.5h0M611 590.5h0M612.5 590.5h0M614 590.5h0M615.5 590.5h0M616.5 590.5h0M617.5 590.5h0M618.5 590.5h0M619.5 590.5H620M621 590.5H622M623 590.5H624M625 590.5H625.5M627 590.5h0M630.5 590.5h0M642.5 597h0M591.5 597.5h0M599 597.5h0M603.5 597.5h0M606.5 597.5h0M609 597.5h0M611 597.5h0M612.5 597.5h0M614 597.5h0M615.5 597.5h0M616.5 597.5h0M617.5 597.5h0M618.5 597.5h0M619.5 597.5H620M621 597.5H622M623 597.5h0M624 597.5h0M625 597.5h0" stroke="#A52A2A" stroke-width="1.75" stroke-linecap="round" fill="none"/><line x1="585.7" y1="515.3" x2="585.7" y2="602" stroke="#505050" stroke-width="1"/><line x1="585.2" y1="601.5" x2="677.1" y2="601.5" stroke="#505050" stroke-width="1"/><line x1="584.2" y1="522.3" x2="585.7" y2="522.3" stroke="#4d4d4d" stroke-width="0.6"/><text transform="translate(583.5 524.7) scale(0.810 1)" font-size="6.8" text-anchor="end" fill="#1a1a1a" stroke="#1a1a1a" stroke-width="0.22">1000</text><line x1="584.2" y1="546" x2="585.7" y2="546" stroke="#4d4d4d" stroke-width="0.6"/><text transform="translate(583.5 548.4) scale(0.810 1)" font-size="6.8" text-anchor="end" fill="#1a1a1a" stroke="#1a1a1a" stroke-width="0.22">100</text><line x1="584.2" y1="569.6" x2="585.7" y2="569.6" stroke="#4d4d4d" stroke-width="0.6"/><text transform="translate(583.5 572) scale(0.810 1)" font-size="6.8" text-anchor="end" fill="#1a1a1a" stroke="#1a1a1a" stroke-width="0.22">10</text><line x1="584.2" y1="593.2" x2="585.7" y2="593.2" stroke="#4d4d4d" stroke-width="0.6"/><text transform="translate(583.5 595.6) scale(0.810 1)" font-size="6.8" text-anchor="end" fill="#1a1a1a" stroke="#1a1a1a" stroke-width="0.22">1</text><line x1="597.1" y1="601.5" x2="597.1" y2="603" stroke="#4d4d4d" stroke-width="0.6"/><text transform="translate(597.1 608.7) scale(0.810 1)" font-size="6.8" text-anchor="middle" fill="#1a1a1a" stroke="#1a1a1a" stroke-width="0.22">1</text><line x1="622.8" y1="601.5" x2="622.8" y2="603" stroke="#4d4d4d" stroke-width="0.6"/><text transform="translate(622.8 608.7) scale(0.810 1)" font-size="6.8" text-anchor="middle" fill="#1a1a1a" stroke="#1a1a1a" stroke-width="0.22">10</text><line x1="648.2" y1="601.5" x2="648.2" y2="603" stroke="#4d4d4d" stroke-width="0.6"/><text transform="translate(648.2 608.7) scale(0.810 1)" font-size="6.8" text-anchor="middle" fill="#1a1a1a" stroke="#1a1a1a" stroke-width="0.22">100</text><line x1="671.9" y1="601.5" x2="671.9" y2="603" stroke="#4d4d4d" stroke-width="0.6"/><text transform="translate(671.9 608.7) scale(0.810 1)" font-size="6.8" text-anchor="middle" fill="#1a1a1a" stroke="#1a1a1a" stroke-width="0.22">1000</text><text transform="translate(629.8 618.9)" font-size="6.4" font-weight="bold" text-anchor="middle" fill="#111111" stroke="#111111" stroke-width="0.11">Rep3</text><text transform="translate(571.31 556.2) rotate(-90)" font-size="6.7" font-weight="bold" text-anchor="middle" fill="#111111" stroke="#111111" stroke-width="0.11">Rep2</text><text transform="translate(596.9 527.6) scale(0.900 1)" font-size="6.3" text-anchor="start" fill="#111111" stroke="#111111" stroke-width="0.22">All isoforms</text><text transform="translate(596.9 534.4) scale(0.9 1)" font-size="6.3" fill="#111111" stroke="#111111" stroke-width="0.22"><tspan font-style="italic">r</tspan>=0.976</text><path d="M437 624.5h0M435.5 625.5h0M426 632.5h0M427 633.5h0M425.5 634h0M424 634.5h0M425 634.5h0M427 634.5h0M425.5 635.5h0M424 636h0M425.5 636h0M422.5 636.5h0M423.5 636.5H424.5M426 636.5h0M420 637h0M422.5 637H423M422 637.5H423M420.5 638h0M422.5 638h0M423.5 638h0M419.5 638.5h0M420.5 638.5H421M422 638.5h0M420 639H421M422 639H423M419 639.5h0M420 639.5h0M422 639.5h0M423.5 639.5h0M419 640H420M421 640h0M422 640h0M420 640.5h0M417 641H417.5M419.5 641h0M416 641.5h0M418 641.5H418.5M419.5 641.5h0M420.5 641.5h0M415 642h0M417 642H417.5M418.5 642H420M417.5 642.5H418M420 642.5h0M415 643H415.5M416.5 643H418.5M415 643.5H416M417 643.5h0M418 643.5h0M416 644H416.5M418.5 644h0M414.5 644.5H417M413 645H416.5M413 645.5H413.5M414.5 645.5H415.5M410.5 646h0M411.5 646h0M412.5 646H415M410 646.5h0M411 646.5H411.5M412.5 646.5H413M414 646.5H414.5M416 646.5h0M410.5 647H411M412 647H414.5M415.5 647h0M408.5 647.5h0M410 647.5h0M411 647.5H415M409 648H409.5M410.5 648h0M412 648h0M413 648h0M414 648H414.5M408.5 648.5h0M409.5 648.5H410M411 648.5H412M413 648.5h0M406 649h0M408 649h0M409 649H410M411 649H411.5M412.5 649H413M408 649.5h0M409 649.5H410M411 649.5H412M403.5 650h0M405.5 650h0M407.5 650H409M410.5 650h0M411.5 650H412M407 650.5H411.5M414.5 650.5h0M403.5 651h0M405.5 651h0M406.5 651H410M411 651H411.5M412.5 651H413M402.5 651.5H403M404.5 651.5h0M406 651.5H407M408 651.5H410M411 651.5h0M404.5 652H409.5M410.5 652h0M402 652.5H402.5M404 652.5H409M398.5 653H399M403 653H403.5M404.5 653H407.5M408.5 653h0M409.5 653h0M402 653.5H402.5M403.5 653.5h0M404.5 653.5H405.5M406.5 653.5H407M408.5 653.5h0M401.5 654h0M402.5 654H403M404 654H405M406 654H408.5M399 654.5h0M400.5 654.5h0M401.5 654.5h0M402.5 654.5H407M408.5 654.5H409M399.5 655h0M400.5 655h0M402 655H402.5M403.5 655H406.5M407.5 655h0M400.5 655.5h0M402 655.5H403.5M404.5 655.5H407M396.5 656h0M398 656h0M399.5 656H407.5M390 656.5h0M400 656.5H404.5M405.5 656.5H407M398 657H398.5M400 657H402.5M404.5 657H406M407 657h0M408 657h0M397 657.5H397.5M398.5 657.5H405M408 657.5h0M396 658h0M397 658h0M398 658h0M399 658H401.5M402.5 658H403M404 658h0M405.5 658h0M391.5 658.5h0M394.5 658.5h0M395.5 658.5h0M397.5 658.5H400.5M402 658.5H403.5M393 659h0M395 659H396.5M397.5 659H401.5M402.5 659H404M392 659.5h0M394 659.5h0M395.5 659.5H400.5M401.5 659.5h0M403 659.5h0M405 659.5h0M393 660H400.5M401.5 660h0M403.5 660h0M404.5 660h0M388.5 660.5h0M393 660.5h0M394 660.5H399.5M400.5 660.5H402.5M393 661H396M397 661H401.5M402.5 661h0M390.5 661.5H391M392 661.5h0M393.5 661.5H394M395 661.5H400.5M401.5 661.5H402M390 662h0M391 662h0M392 662h0M393.5 662H395.5M396.5 662H401M402 662h0M387 662.5h0M388.5 662.5h0M391 662.5H399M400 662.5H400.5M388 663h0M389.5 663h0M390.5 663h0M391.5 663H399M400 663h0M401 663h0M402.5 663h0M387 663.5h0M389 663.5H396.5M397.5 663.5h0M398.5 663.5H399.5M401 663.5h0M385.5 664h0M386.5 664h0M389.5 664h0M390.5 664h0M391.5 664H397.5M398.5 664H399M400.5 664h0M382.5 664.5h0M386.5 664.5h0M387.5 664.5H388.5M389.5 664.5H390M391 664.5h0M392 664.5H396.5M397.5 664.5H398.5M400.5 664.5h0M384 665h0M385 665h0M386.5 665h0M387.5 665H388M389 665H396M397 665H397.5M399 665h0M400 665H400.5M382.5 665.5h0M385 665.5h0M386 665.5h0M387.5 665.5H388M389.5 665.5H400M381 666h0M382.5 666h0M385.5 666H389M390 666H396M397 666H397.5M398.5 666H399.5M378 666.5h0M381 666.5h0M382 666.5h0M385.5 666.5H394M395 666.5H396.5M398 666.5H399M381 667h0M382.5 667h0M385 667H385.5M386.5 667H393.5M395 667H395.5M380 667.5h0M381 667.5h0M382 667.5h0M383.5 667.5H384M385 667.5H396M397.5 667.5h0M378 668h0M382.5 668h0M383.5 668H384M385.5 668H389.5M390.5 668H392M393 668H395M397 668h0M381 668.5h0M382.5 668.5h0M383.5 668.5H384M385 668.5H396.5M398 668.5h0M378 669h0M382 669h0M384 669h0M385 669H386.5M387.5 669H392M393 669H395.5M397.5 669H398M376.5 669.5h0M378 669.5h0M379 669.5h0M380 669.5h0M381 669.5h0M382 669.5h0M383.5 669.5H384M385 669.5H386.5M387.5 669.5H396M381 670h0M382 670h0M383.5 670H384M385 670H393.5M395.5 670h0M376.5 670.5h0M379 670.5h0M380 670.5h0M381 670.5h0M382 670.5H382.5M383.5 670.5H384M385 670.5H393M394.5 670.5h0M378 671h0M379 671h0M380 671h0M381 671h0M382 671H382.5M383.5 671h0M385 671H391M392.5 671h0M394.5 671h0M397 671h0M371.5 671.5h0M375 671.5h0M376.5 671.5h0M378 671.5h0M380 671.5h0M381 671.5h0M382 671.5H382.5M383.5 671.5H384M385 671.5H392M393.5 671.5H394M395 671.5h0M366 672h0M373.5 672h0M376.5 672h0M378 672h0M379 672h0M380 672h0M381 672h0M382 672H382.5M383.5 672H384M385 672H392.5M393.5 672h0M373.5 672.5h0M375 672.5h0M376.5 672.5h0M378 672.5h0M379 672.5h0M380 672.5h0M381 672.5h0M382 672.5H382.5M383.5 672.5H384M385 672.5H392M393 672.5h0M394 672.5h0M395.5 672.5h0M371.5 673h0M373.5 673h0M375 673h0M376.5 673h0M378 673h0M379 673h0M380 673h0M381 673h0M382 673H382.5M383.5 673H384M385 673H391M393.5 673h0M396.5 673h0M366 673.5h0M371.5 673.5h0M373.5 673.5h0M375 673.5h0M378 673.5h0M379 673.5h0M380 673.5h0M381 673.5h0M382 673.5H382.5M383.5 673.5H384M385 673.5H391.5M393 673.5H393.5M395 673.5h0M366 674h0M369 674h0M371.5 674h0M373.5 674h0M375 674h0M376.5 674h0M378 674h0M379 674h0M380 674h0M381 674h0M382 674H382.5M383.5 674H384M385 674H388M389 674H390.5M392 674h0M393 674h0M369 674.5h0M371.5 674.5h0M375 674.5h0M376.5 674.5h0M378 674.5h0M379 674.5h0M380 674.5h0M381 674.5h0M382 674.5H382.5M383.5 674.5H384M385 674.5H390M391 674.5H392M361.5 675.5h0M369 675.5h0M371.5 675.5h0M373.5 675.5h0M375 675.5h0M376.5 675.5h0M378 675.5h0M379 675.5h0M380 675.5h0M381 675.5h0M382 675.5H382.5M383.5 675.5H384M385 675.5H387.5M388.5 675.5H389.5M392 675.5h0M395 675.5h0M354 676h0M361.5 676h0M366 676h0M369 676h0M371.5 676h0M373.5 676h0M375 676h0M376.5 676h0M378 676h0M379 676h0M380 676h0M381 676h0M382 676H382.5M383.5 676H384M385 676H388.5M389.5 676h0M390.5 676H391M392 676h0M354 677h0M361.5 677h0M366 677h0M369 677h0M371.5 677h0M373.5 677h0M375 677h0M376.5 677h0M378 677h0M379 677h0M380 677h0M381 677h0M382 677H382.5M383.5 677H384M385 677H386.5M387.5 677h0M388.5 677H389M390.5 677H391M354 677.5h0M361.5 677.5h0M366 677.5h0M369 677.5h0M371.5 677.5h0M373.5 677.5h0M375 677.5h0M376.5 677.5h0M378 677.5h0M379 677.5h0M380 677.5h0M381 677.5h0M382 677.5H382.5M383.5 677.5H384M385 677.5H388.5M389.5 677.5H390.5M391.5 677.5h0M354 678.5h0M361.5 678.5h0M366 678.5h0M369 678.5h0M371.5 678.5h0M373.5 678.5h0M375 678.5h0M376.5 678.5h0M378 678.5h0M379 678.5h0M380 678.5h0M381 678.5h0M382 678.5H382.5M383.5 678.5H384M385 678.5H388.5M389.5 678.5h0M390.5 678.5h0M361.5 679.5h0M366 679.5h0M369 679.5h0M371.5 679.5h0M373.5 679.5h0M375 679.5h0M376.5 679.5h0M378 679.5h0M379 679.5h0M380 679.5h0M381 679.5h0M382 679.5H382.5M383.5 679.5H384M385 679.5H388M389 679.5H389.5M390.5 679.5h0M361.5 680.5h0M366 680.5h0M369 680.5h0M371.5 680.5h0M373.5 680.5h0M375 680.5h0M376.5 680.5h0M378 680.5h0M379 680.5h0M380 680.5h0M381 680.5h0M382 680.5H382.5M383.5 680.5H384M385 680.5H386M387 680.5h0M361.5 682h0M366 682h0M369 682h0M371.5 682h0M373.5 682h0M375 682h0M376.5 682h0M378 682h0M379 682h0M380 682h0M381 682h0M382 682H382.5M383.5 682H384M385 682H386M387 682H387.5M354 683h0M361.5 683h0M366 683h0M369 683h0M371.5 683h0M373.5 683h0M375 683h0M376.5 683h0M378 683h0M379 683h0M380 683h0M381 683h0M382 683H382.5M383.5 683H384M385 683H386M387 683H387.5M389 683h0M354 684.5h0M361.5 684.5h0M366 684.5h0M369 684.5h0M371.5 684.5h0M373.5 684.5h0M375 684.5h0M376.5 684.5h0M378 684.5h0M379 684.5h0M380 684.5h0M381 684.5h0M382 684.5H382.5M383.5 684.5H384M385 684.5H386M389 684.5h0M354 686.5h0M361.5 686.5h0M366 686.5h0M369 686.5h0M371.5 686.5h0M373.5 686.5h0M375 686.5h0M376.5 686.5h0M378 686.5h0M379 686.5h0M380 686.5h0M381 686.5h0M382 686.5H382.5M383.5 686.5H384M385.5 686.5H386M387.5 686.5H388M354 689h0M361.5 689h0M366 689h0M369 689h0M371.5 689h0M373.5 689h0M375 689h0M376.5 689h0M378 689h0M379 689h0M380 689h0M381 689h0M382 689H382.5M383.5 689H384M386 689H386.5M354 692h0M361.5 692h0M366 692h0M369 692h0M371.5 692h0M373.5 692h0M375 692h0M376.5 692h0M378 692h0M379 692h0M380 692h0M381 692h0M382.5 692h0M383.5 692h0M354 696h0M361.5 696h0M366 696h0M369 696h0M371.5 696h0M373.5 696h0M375 696h0M376.5 696h0M378 696h0M379 696h0M380 696h0M381 696h0M382 696H382.5M354 703h0M361.5 703h0M366 703h0M369 703h0M371.5 703h0M373.5 703h0M375 703h0M376.5 703h0M378 703h0M379 703h0M380 703h0M381 703h0" stroke="#FF0000" stroke-width="1.75" stroke-linecap="round" fill="none"/><line x1="349.3" y1="621.8" x2="349.3" y2="707.6" stroke="#505050" stroke-width="1"/><line x1="348.8" y1="707.1" x2="441.6" y2="707.1" stroke="#505050" stroke-width="1"/><line x1="347.8" y1="628.8" x2="349.3" y2="628.8" stroke="#4d4d4d" stroke-width="0.6"/><text transform="translate(347.1 631.2) scale(0.810 1)" font-size="6.8" text-anchor="end" fill="#1a1a1a" stroke="#1a1a1a" stroke-width="0.22">1000</text><line x1="347.8" y1="652.1" x2="349.3" y2="652.1" stroke="#4d4d4d" stroke-width="0.6"/><text transform="translate(347.1 654.5) scale(0.810 1)" font-size="6.8" text-anchor="end" fill="#1a1a1a" stroke="#1a1a1a" stroke-width="0.22">100</text><line x1="347.8" y1="675.7" x2="349.3" y2="675.7" stroke="#4d4d4d" stroke-width="0.6"/><text transform="translate(347.1 678.1) scale(0.810 1)" font-size="6.8" text-anchor="end" fill="#1a1a1a" stroke="#1a1a1a" stroke-width="0.22">10</text><line x1="347.8" y1="699.4" x2="349.3" y2="699.4" stroke="#4d4d4d" stroke-width="0.6"/><text transform="translate(347.1 701.8) scale(0.810 1)" font-size="6.8" text-anchor="end" fill="#1a1a1a" stroke="#1a1a1a" stroke-width="0.22">1</text><line x1="357.7" y1="707.1" x2="357.7" y2="708.6" stroke="#4d4d4d" stroke-width="0.6"/><text transform="translate(357.7 716.5) scale(0.810 1)" font-size="6.8" text-anchor="middle" fill="#1a1a1a" stroke="#1a1a1a" stroke-width="0.22">1</text><line x1="383.4" y1="707.1" x2="383.4" y2="708.6" stroke="#4d4d4d" stroke-width="0.6"/><text transform="translate(383.4 716.5) scale(0.810 1)" font-size="6.8" text-anchor="middle" fill="#1a1a1a" stroke="#1a1a1a" stroke-width="0.22">10</text><line x1="408.8" y1="707.1" x2="408.8" y2="708.6" stroke="#4d4d4d" stroke-width="0.6"/><text transform="translate(408.8 716.5) scale(0.810 1)" font-size="6.8" text-anchor="middle" fill="#1a1a1a" stroke="#1a1a1a" stroke-width="0.22">100</text><line x1="433.4" y1="707.1" x2="433.4" y2="708.6" stroke="#4d4d4d" stroke-width="0.6"/><text transform="translate(433.4 716.5) scale(0.810 1)" font-size="6.8" text-anchor="middle" fill="#1a1a1a" stroke="#1a1a1a" stroke-width="0.22">1000</text><text transform="translate(392.2 724.2)" font-size="6.4" font-weight="bold" text-anchor="middle" fill="#111111" stroke="#111111" stroke-width="0.11">Rep1</text><text transform="translate(331.81 670) rotate(-90)" font-size="6.7" font-weight="bold" text-anchor="middle" fill="#111111" stroke="#111111" stroke-width="0.11">Rep2</text><text transform="translate(357.7 633.6) scale(0.900 1)" font-size="6.3" text-anchor="start" fill="#111111" stroke="#111111" stroke-width="0.22">Known isoforms</text><text transform="translate(357.7 640.4) scale(0.9 1)" font-size="6.3" fill="#111111" stroke="#111111" stroke-width="0.22"><tspan font-style="italic">r</tspan>=0.992</text><path d="M553.5 624.5h0M553 625.5h0M542 634.5h0M543 634.5H543.5M539.5 635h0M541 635h0M542.5 635h0M539 635.5h0M541.5 635.5h0M540 636h0M541 636h0M537.5 636.5h0M540 636.5H541M536 637h0M537.5 637h0M538.5 637H539M540.5 637h0M538 638H538.5M540 638H540.5M536.5 638.5h0M537.5 638.5h0M539 638.5H539.5M542 638.5h0M536 639H536.5M538.5 639h0M537 639.5h0M535 640h0M536 640H537M538 640h0M535.5 640.5h0M536.5 640.5H537.5M532 641h0M533 641H534.5M538.5 641h0M533 641.5h0M535 641.5H537M532 642H535M537 642h0M532.5 642.5h0M534.5 642.5h0M531.5 643H532M533.5 643h0M534.5 643h0M530.5 643.5H531.5M532.5 643.5H533M532 644H533M534 644h0M536.5 644h0M530.5 644.5h0M531.5 644.5H532.5M533.5 644.5H534.5M530.5 645H533M528.5 645.5H530M533 645.5h0M534 645.5h0M528 646h0M529 646h0M530 646H530.5M531.5 646h0M532.5 646h0M525.5 646.5h0M529 646.5h0M530 646.5H530.5M531.5 646.5H532M526.5 647h0M527.5 647H528M529 647H531M524.5 647.5h0M525.5 647.5h0M526.5 647.5h0M527.5 647.5h0M529 647.5H530M523 648h0M526.5 648h0M527.5 648H530M519 648.5h0M525 648.5h0M526 648.5h0M527.5 648.5H530.5M522 649h0M525.5 649H526M527 649H529.5M530.5 649h0M523.5 649.5H528M522 650h0M523 650h0M524 650H525M526 650H528.5M529.5 650h0M530.5 650h0M531.5 650h0M521 650.5h0M522 650.5h0M523 650.5h0M524.5 650.5H527.5M528.5 650.5h0M530 650.5H530.5M519.5 651H520M523 651h0M524 651H524.5M525.5 651H526M527.5 651h0M530 651h0M521 651.5h0M522.5 651.5H526M527 651.5H527.5M528.5 651.5h0M521.5 652H526M527 652h0M528 652h0M520 652.5H524.5M526.5 652.5H527.5M519.5 653h0M520.5 653H521M522 653H524M525 653H526M527 653h0M529 653h0M519.5 653.5h0M521 653.5H521.5M522.5 653.5H524.5M527.5 653.5h0M519 654h0M521 654H524.5M525.5 654H527M514.5 654.5h0M518.5 654.5h0M519.5 654.5H524M525 654.5h0M516 655H516.5M518 655H519.5M520.5 655H521M522 655H523M524 655h0M525 655h0M517 655.5H519M520 655.5H522M523 655.5H523.5M524.5 655.5H526M516 656H517M518 656H519.5M520.5 656h0M522 656h0M523.5 656h0M525 656h0M513.5 656.5h0M514.5 656.5h0M515.5 656.5H516M517 656.5H524M525 656.5h0M515.5 657H516M517.5 657H520.5M521.5 657H523.5M513.5 657.5h0M514.5 657.5H517.5M518.5 657.5H519.5M520.5 657.5H522M523 657.5H523.5M525.5 657.5h0M505.5 658h0M511 658h0M513.5 658h0M514.5 658H523M514 658.5H520.5M521.5 658.5H522M523 658.5h0M511.5 659H512M513.5 659H518M519 659H520.5M521.5 659h0M522.5 659H523M525 659h0M509 659.5h0M510.5 659.5h0M512 659.5H512.5M513.5 659.5H514.5M515.5 659.5H517.5M518.5 659.5H520.5M522.5 659.5h0M508.5 660h0M511 660H515M516 660H522M507.5 660.5h0M508.5 660.5h0M511 660.5h0M512 660.5H512.5M513.5 660.5H518.5M519.5 660.5H520M521.5 660.5H522M502.5 661h0M507 661h0M509 661H512.5M513.5 661H516.5M517.5 661H519.5M520.5 661H522M507 661.5h0M509.5 661.5h0M510.5 661.5H520M522 661.5h0M503.5 662h0M505 662h0M507.5 662h0M509 662h0M510.5 662H511M512 662h0M513 662H513.5M514.5 662H519.5M507 662.5H507.5M508.5 662.5h0M509.5 662.5h0M511 662.5H511.5M512.5 662.5h0M513.5 662.5H516.5M517.5 662.5h0M518.5 662.5H519M522.5 662.5h0M504.5 663H505M506 663h0M507.5 663H508M509 663H509.5M510.5 663H513.5M514.5 663H518.5M520 663h0M506 663.5h0M507.5 663.5H509M510.5 663.5H511M512 663.5H514M515 663.5H516M517 663.5H519.5M521.5 663.5h0M499.5 664h0M505 664H505.5M507.5 664h0M509.5 664h0M510.5 664H516M517.5 664h0M519.5 664h0M520.5 664h0M505.5 664.5h0M506.5 664.5h0M507.5 664.5H509.5M510.5 664.5H516.5M517.5 664.5h0M518.5 664.5h0M522.5 664.5h0M502.5 665h0M503.5 665h0M507 665H517.5M518.5 665H520M521 665h0M499.5 665.5h0M502.5 665.5h0M504 665.5H504.5M505.5 665.5H506.5M507.5 665.5h0M508.5 665.5H510.5M511.5 665.5H512.5M514 665.5H516M517.5 665.5h0M519 665.5h0M501 666H501.5M502.5 666h0M503.5 666h0M505.5 666h0M506.5 666H507.5M509 666H516M517 666H517.5M497.5 666.5h0M499.5 666.5h0M503.5 666.5H504M505 666.5H506.5M507.5 666.5H508M509 666.5H513.5M514.5 666.5H516M517.5 666.5h0M499.5 667h0M501 667h0M504.5 667h0M505.5 667H513.5M514.5 667H517M504.5 667.5H512.5M514 667.5h0M516 667.5h0M517 667.5h0M494.5 668h0M499.5 668h0M501 668h0M504 668H514M515 668H515.5M495.5 668.5h0M499.5 668.5h0M502 668.5h0M503.5 668.5H504M505 668.5H509.5M510.5 668.5H511M512 668.5H514.5M516 668.5h0M499.5 669H500M501 669H502.5M503.5 669H514.5M516 669H516.5M495.5 669.5h0M498.5 669.5h0M500 669.5h0M501 669.5H502.5M503.5 669.5H514M485.5 670h0M492 670h0M497.5 670h0M499.5 670h0M501 670H502.5M503.5 670H505.5M506.5 670h0M507.5 670H510.5M511.5 670H514.5M515.5 670H516M493.5 670.5h0M494.5 670.5h0M495.5 670.5h0M497 670.5H497.5M499.5 670.5H500M501 670.5H502.5M503.5 670.5H512.5M514.5 670.5h0M516 670.5H516.5M493.5 671h0M497 671H497.5M499.5 671H500M501 671H502M503.5 671H509M510 671H510.5M511.5 671h0M513 671H514M516 671h0M517.5 671h0M493.5 671.5h0M494.5 671.5h0M495.5 671.5h0M497 671.5h0M498.5 671.5h0M500 671.5h0M501 671.5H502.5M503.5 671.5H504M505 671.5H505.5M506.5 671.5H509.5M510.5 671.5H512M516 671.5H516.5M492 672h0M493.5 672h0M494.5 672h0M495.5 672h0M497 672H497.5M498.5 672h0M499.5 672H500M501 672H502.5M503.5 672H509.5M510.5 672H511.5M512.5 672H514M488.5 672.5h0M492 672.5h0M493.5 672.5h0M494.5 672.5h0M495.5 672.5h0M497.5 672.5h0M498.5 672.5h0M499.5 672.5H500M501 672.5H502.5M503.5 672.5H508M509 672.5H509.5M510.5 672.5H511.5M513 672.5h0M482.5 673h0M490 673h0M492 673h0M493.5 673h0M495.5 673h0M497 673H497.5M498.5 673h0M499.5 673H500M501 673H502.5M503.5 673H506.5M507.5 673h0M508.5 673H511.5M512.5 673H513.5M517 673h0M492 673.5h0M493.5 673.5h0M494.5 673.5h0M495.5 673.5h0M497 673.5H497.5M498.5 673.5h0M499.5 673.5H500M501 673.5H502.5M503.5 673.5H511.5M512.5 673.5H513.5M485.5 674.5h0M490 674.5h0M492 674.5h0M493.5 674.5h0M494.5 674.5h0M495.5 674.5h0M497 674.5H497.5M498.5 674.5h0M499.5 674.5H500M501 674.5H502.5M503.5 674.5H509.5M510.5 674.5H511.5M513 674.5h0M515.5 674.5h0M478 675h0M482.5 675h0M485.5 675h0M488 675h0M490 675h0M492 675h0M493.5 675h0M494.5 675h0M495.5 675h0M497 675H497.5M498.5 675h0M499.5 675H500M501 675H502.5M503.5 675H507.5M509 675H510.5M482.5 675.5h0M485.5 675.5h0M488 675.5h0M490 675.5h0M492 675.5h0M493.5 675.5h0M494.5 675.5h0M495.5 675.5h0M497 675.5H497.5M498.5 675.5h0M499.5 675.5H500M501 675.5H502.5M503.5 675.5H508M509 675.5H509.5M510.5 675.5H511.5M478 676.5h0M482.5 676.5h0M485.5 676.5h0M488 676.5h0M490 676.5h0M492 676.5h0M493.5 676.5h0M494.5 676.5h0M495.5 676.5h0M497 676.5H497.5M498.5 676.5h0M499.5 676.5H500M501 676.5H502.5M503.5 676.5H509M510 676.5H510.5M511.5 676.5h0M482.5 677h0M485.5 677h0M488 677h0M490 677h0M492 677h0M493.5 677h0M494.5 677h0M495.5 677h0M497 677H497.5M498.5 677h0M499.5 677H500M501 677H502.5M503.5 677H509.5M511.5 677h0M512.5 677h0M470.5 678h0M482.5 678h0M485.5 678h0M488 678h0M490 678h0M492 678h0M493.5 678h0M494.5 678h0M495.5 678h0M497 678H497.5M498.5 678h0M499.5 678H500M501 678H502.5M503.5 678H506.5M507.5 678H508.5M509.5 678H510.5M519 678h0M470.5 678.5h0M478 678.5h0M482.5 678.5h0M485.5 678.5h0M488 678.5h0M490 678.5h0M492 678.5h0M493.5 678.5h0M494.5 678.5h0M495.5 678.5h0M497 678.5H497.5M498.5 678.5h0M499.5 678.5H500M501 678.5H502.5M503.5 678.5H509M511 678.5H511.5M470.5 679.5h0M478 679.5h0M482.5 679.5h0M485.5 679.5h0M488 679.5h0M490 679.5h0M492 679.5h0M493.5 679.5h0M494.5 679.5h0M495.5 679.5h0M497 679.5H497.5M498.5 679.5h0M499.5 679.5H500M501 679.5H502.5M503.5 679.5H508M509 679.5h0M470.5 681h0M478 681h0M482.5 681h0M485.5 681h0M488 681h0M490 681h0M492 681h0M493.5 681h0M494.5 681h0M495.5 681h0M497 681H497.5M498.5 681h0M499.5 681H500M501 681H502.5M503.5 681H504.5M505.5 681H506.5M508 681H509.5M510.5 681h0M470.5 682h0M478 682h0M482.5 682h0M485.5 682h0M488 682h0M490 682h0M492 682h0M493.5 682h0M494.5 682h0M495.5 682h0M497 682H497.5M498.5 682h0M499.5 682H500M501 682H502.5M503.5 682H505.5M506.5 682H507.5M508.5 682H511M470.5 683.5h0M478 683.5h0M482.5 683.5h0M485.5 683.5h0M488 683.5h0M490 683.5h0M492 683.5h0M493.5 683.5h0M494.5 683.5h0M495.5 683.5h0M497 683.5H497.5M498.5 683.5h0M499.5 683.5H500M501 683.5H502.5M503.5 683.5H506M507.5 683.5H508M470.5 685h0M478 685h0M482.5 685h0M485.5 685h0M488 685h0M490 685h0M492 685h0M493.5 685h0M494.5 685h0M495.5 685h0M497 685H497.5M498.5 685h0M499.5 685H500M501 685H502.5M503.5 685H506.5M507.5 685h0M509 685h0M510.5 685h0M470.5 687h0M478 687h0M482.5 687h0M485.5 687h0M488 687h0M490 687h0M492 687h0M493.5 687h0M494.5 687h0M495.5 687h0M497 687H497.5M498.5 687h0M499.5 687H500M501 687H502.5M503.5 687H505.5M508.5 687H509M470.5 689h0M478 689h0M482.5 689h0M485.5 689h0M488 689h0M490 689h0M492 689h0M493.5 689h0M494.5 689h0M495.5 689h0M497 689H497.5M498.5 689h0M499.5 689H500M501 689H502.5M503.5 689H506.5M508 689h0M509 689h0M511 689h0M470.5 692h0M478 692h0M482.5 692h0M485.5 692h0M488 692h0M490 692h0M492 692h0M493.5 692h0M494.5 692h0M495.5 692h0M497 692H497.5M498.5 692h0M499.5 692H500M501 692H502.5M503.5 692H504.5M507 692H508M470.5 696h0M478 696h0M482.5 696h0M485.5 696h0M488 696h0M490 696h0M492 696h0M493.5 696h0M494.5 696h0M495.5 696h0M497 696H497.5M498.5 696h0M499.5 696H500M501 696h0M502.5 696h0M504 696H505.5M507.5 696h0M470.5 703.5h0M478 703.5h0M482.5 703.5h0M485.5 703.5h0M488 703.5h0M490 703.5h0M492 703.5h0M493.5 703.5h0M494.5 703.5h0M495.5 703.5h0M497 703.5H497.5M498.5 703.5h0M499.5 703.5H500M501 703.5H502.5M503.5 703.5h0M505 703.5H506M507.5 703.5h0" stroke="#0000FF" stroke-width="1.75" stroke-linecap="round" fill="none"/><line x1="466.1" y1="621.8" x2="466.1" y2="707.6" stroke="#505050" stroke-width="1"/><line x1="465.6" y1="707.1" x2="557.7" y2="707.1" stroke="#505050" stroke-width="1"/><line x1="464.6" y1="628.8" x2="466.1" y2="628.8" stroke="#4d4d4d" stroke-width="0.6"/><text transform="translate(463.9 631.2) scale(0.810 1)" font-size="6.8" text-anchor="end" fill="#1a1a1a" stroke="#1a1a1a" stroke-width="0.22">1000</text><line x1="464.6" y1="652.1" x2="466.1" y2="652.1" stroke="#4d4d4d" stroke-width="0.6"/><text transform="translate(463.9 654.5) scale(0.810 1)" font-size="6.8" text-anchor="end" fill="#1a1a1a" stroke="#1a1a1a" stroke-width="0.22">100</text><line x1="464.6" y1="675.7" x2="466.1" y2="675.7" stroke="#4d4d4d" stroke-width="0.6"/><text transform="translate(463.9 678.1) scale(0.810 1)" font-size="6.8" text-anchor="end" fill="#1a1a1a" stroke="#1a1a1a" stroke-width="0.22">10</text><line x1="464.6" y1="699.7" x2="466.1" y2="699.7" stroke="#4d4d4d" stroke-width="0.6"/><text transform="translate(463.9 702.1) scale(0.810 1)" font-size="6.8" text-anchor="end" fill="#1a1a1a" stroke="#1a1a1a" stroke-width="0.22">1</text><line x1="474.5" y1="707.1" x2="474.5" y2="708.6" stroke="#4d4d4d" stroke-width="0.6"/><text transform="translate(474.5 716.5) scale(0.810 1)" font-size="6.8" text-anchor="middle" fill="#1a1a1a" stroke="#1a1a1a" stroke-width="0.22">1</text><line x1="499.9" y1="707.1" x2="499.9" y2="708.6" stroke="#4d4d4d" stroke-width="0.6"/><text transform="translate(499.9 716.5) scale(0.810 1)" font-size="6.8" text-anchor="middle" fill="#1a1a1a" stroke="#1a1a1a" stroke-width="0.22">10</text><line x1="525.3" y1="707.1" x2="525.3" y2="708.6" stroke="#4d4d4d" stroke-width="0.6"/><text transform="translate(525.3 716.5) scale(0.810 1)" font-size="6.8" text-anchor="middle" fill="#1a1a1a" stroke="#1a1a1a" stroke-width="0.22">100</text><line x1="549.9" y1="707.1" x2="549.9" y2="708.6" stroke="#4d4d4d" stroke-width="0.6"/><text transform="translate(549.9 716.5) scale(0.810 1)" font-size="6.8" text-anchor="middle" fill="#1a1a1a" stroke="#1a1a1a" stroke-width="0.22">1000</text><text transform="translate(514 724.2)" font-size="6.4" font-weight="bold" text-anchor="middle" fill="#111111" stroke="#111111" stroke-width="0.11">Rep1</text><text transform="translate(450.41 670) rotate(-90)" font-size="6.7" font-weight="bold" text-anchor="middle" fill="#111111" stroke="#111111" stroke-width="0.11">Rep3</text><text transform="translate(473.7 633.6) scale(0.900 1)" font-size="6.3" text-anchor="start" fill="#111111" stroke="#111111" stroke-width="0.22">Known isoforms</text><text transform="translate(473.7 640.4) scale(0.9 1)" font-size="6.3" fill="#111111" stroke="#111111" stroke-width="0.22"><tspan font-style="italic">r</tspan>=0.985</text><path d="M671.5 626.5h0M667 632h0M661.5 633h0M662 633.5h0M659.5 634h0M662 634h0M660.5 634.5H661M662.5 634.5h0M659 635h0M660.5 635h0M662 635h0M658.5 635.5h0M661 635.5h0M659 636H659.5M661 636h0M657 636.5h0M659 636.5H659.5M657.5 637h0M659 637h0M657.5 637.5H658.5M655 638H656.5M655 638.5h0M656.5 638.5h0M657.5 638.5h0M659 638.5h0M653 639h0M654.5 639h0M657 639H657.5M654.5 639.5H655M658 639.5h0M655.5 640H656.5M653 640.5H654.5M655.5 640.5h0M653 641H653.5M657 641h0M651 641.5H651.5M654.5 641.5h0M648.5 642h0M655 642H656M648.5 642.5h0M651 642.5H652.5M656.5 642.5h0M647.5 643h0M650 643h0M652.5 643H653M654.5 643h0M655.5 643h0M648 643.5h0M650 643.5H651.5M648 644h0M650 644H650.5M651.5 644h0M654 644h0M645.5 644.5h0M647.5 644.5h0M649 644.5H649.5M651 644.5h0M652.5 644.5h0M654 644.5h0M647 645h0M648 645h0M649 645h0M650.5 645H651.5M653.5 645h0M644.5 645.5h0M646.5 645.5h0M648.5 645.5H649M650 645.5H652.5M646.5 646H647.5M648.5 646H649M650 646h0M652 646h0M644.5 646.5H645.5M647.5 646.5h0M648.5 646.5h0M650 646.5h0M652 646.5H652.5M643 647h0M644 647h0M646 647H649M650 647h0M643 647.5h0M645 647.5H646M647 647.5H647.5M648.5 647.5h0M641.5 648h0M643 648h0M645 648h0M646 648H647.5M648.5 648h0M649.5 648h0M643 648.5h0M644 648.5H647.5M648.5 648.5h0M650.5 648.5h0M643 649H643.5M644.5 649H645.5M646.5 649H647M648.5 649H649M651 649h0M640 649.5h0M641.5 649.5H642M643 649.5H647M641.5 650h0M643 650H645.5M648 650h0M640 650.5h0M641 650.5H646.5M638.5 651H639.5M640.5 651h0M641.5 651H645M646.5 651H647.5M639 651.5h0M640 651.5h0M641 651.5H642M643 651.5H644.5M645.5 651.5H646.5M638 652h0M639.5 652h0M641 652H642M643 652H644.5M646.5 652h0M632.5 652.5h0M637.5 652.5H640M641 652.5H641.5M642.5 652.5H645M635 653h0M637 653H637.5M638.5 653H639M640.5 653H642M643 653H643.5M645 653h0M635 653.5h0M637.5 653.5H643.5M645 653.5h0M649 653.5h0M635.5 654h0M637.5 654h0M638.5 654H643M644 654h0M645.5 654h0M635 654.5h0M637 654.5h0M638 654.5H640M641.5 654.5h0M642.5 654.5H645M646 654.5h0M633 655h0M635 655H640.5M641.5 655H643M644 655h0M633 655.5h0M635.5 655.5h0M637 655.5H640M641 655.5H643M635 656h0M636.5 656H637M638 656H638.5M639.5 656H641M642 656h0M633.5 656.5H634.5M636.5 656.5h0M637.5 656.5H640.5M642 656.5h0M632.5 657h0M634.5 657H640.5M641.5 657h0M629 657.5h0M630.5 657.5h0M634.5 657.5H639.5M640.5 657.5H641M642.5 657.5h0M625.5 658h0M629 658h0M631.5 658H632M633 658H633.5M634.5 658H640M643 658h0M631.5 658.5H632M633 658.5H638M639 658.5H640M642 658.5H642.5M643.5 658.5h0M629.5 659h0M631.5 659h0M632.5 659h0M633.5 659h0M634.5 659H635M636 659H639.5M628.5 659.5h0M629.5 659.5h0M630.5 659.5H631.5M632.5 659.5H640M628.5 660h0M630 660h0M631 660h0M632 660H638M639.5 660H640.5M641.5 660h0M626.5 660.5h0M627.5 660.5H628M629.5 660.5h0M630.5 660.5H638.5M639.5 660.5h0M629 661h0M630.5 661H634.5M635.5 661H638M639 661H640M622.5 661.5h0M627.5 661.5h0M629 661.5H637.5M622 662h0M623 662h0M625.5 662h0M628.5 662H631M632 662h0M633 662H635M636 662H636.5M638 662h0M639 662h0M626.5 662.5h0M628 662.5h0M629 662.5H639M622.5 663h0M624.5 663h0M626 663h0M627 663H636M637 663H638M641.5 663h0M622 663.5h0M623.5 663.5h0M624.5 663.5H625M626 663.5h0M627 663.5h0M628 663.5h0M629 663.5H637M640 663.5h0M625 664h0M626 664h0M628 664h0M629 664H630.5M631.5 664H633M634.5 664H636M638 664h0M624.5 664.5h0M625.5 664.5H626.5M627.5 664.5H634M635.5 664.5h0M637 664.5h0M639.5 664.5h0M623 665H624M625.5 665h0M626.5 665H635M636 665H636.5M621 665.5h0M623.5 665.5H626.5M627.5 665.5H631M632 665.5H634.5M635.5 665.5H636.5M621 666h0M622 666H623M624 666H624.5M625.5 666H637M639 666h0M615.5 666.5h0M620.5 666.5h0M622.5 666.5h0M625.5 666.5H626M627 666.5H628M629 666.5H631M632 666.5H633M634 666.5h0M637.5 666.5h0M618 667h0M619.5 667h0M621 667h0M622 667H622.5M624 667H633M634 667H634.5M635.5 667h0M637 667h0M614 667.5h0M617 667.5h0M620.5 667.5h0M622 667.5h0M623.5 667.5H630.5M631.5 667.5H633M634 667.5H634.5M635.5 667.5h0M617 668h0M618.5 668h0M620.5 668H621M622 668H633M634 668H635.5M618 668.5H618.5M621 668.5h0M622.5 668.5H624M625.5 668.5H629M630 668.5H631M632 668.5H633M635.5 668.5h0M637.5 668.5h0M606.5 669h0M615.5 669h0M618 669H618.5M619.5 669h0M620.5 669h0M622 669H633M634 669H635M636 669h0M637 669h0M614 669.5h0M615.5 669.5H616M618.5 669.5h0M619.5 669.5H620M622 669.5H623M624 669.5H624.5M626 669.5H630.5M631.5 669.5H632.5M633.5 669.5h0M634.5 669.5h0M615.5 670h0M618 670H618.5M619.5 670H620M621 670h0M622 670H624M625 670H626M627 670H632.5M614 670.5h0M615.5 670.5H616M618 670.5H618.5M619.5 670.5h0M620.5 670.5H621M622 670.5H626M627 670.5H631.5M633 670.5h0M615.5 671h0M617 671h0M618 671H618.5M620 671H621M622 671H630.5M631.5 671H632M633 671h0M635 671h0M596.5 671.5h0M610.5 671.5h0M614 671.5h0M616 671.5h0M617 671.5h0M618 671.5H618.5M619.5 671.5H621M622 671.5H631.5M601 672h0M614 672h0M615.5 672h0M617 672h0M618 672H618.5M619.5 672H621M622 672H631.5M632.5 672h0M604 672.5h0M612 672.5h0M613 672.5h0M616 672.5h0M617 672.5h0M618 672.5H618.5M620 672.5H621M622 672.5H623M624 672.5H626.5M627.5 672.5H631M632 672.5H632.5M633.5 672.5H634M612 673h0M613 673h0M615.5 673H616M617 673h0M618 673H618.5M619.5 673H621M622 673H626.5M628.5 673H630.5M608.5 673.5h0M612 673.5h0M614 673.5h0M615.5 673.5H616M617 673.5h0M618 673.5H618.5M619.5 673.5H621M622 673.5H630M631 673.5H632M608.5 674h0M610.5 674h0M612 674h0M613 674h0M614 674h0M615.5 674H616M617 674h0M618 674H618.5M619.5 674H621M622 674H628.5M629.5 674H630M632 674h0M633.5 674h0M606.5 674.5h0M610.5 674.5h0M613 674.5h0M614 674.5h0M615.5 674.5H616M617 674.5h0M618 674.5H618.5M619.5 674.5H621M622 674.5H630M631 674.5h0M632 674.5H633M604 675h0M606.5 675h0M608.5 675h0M610.5 675h0M612 675h0M613 675h0M614 675h0M615.5 675H616M617 675h0M618 675H618.5M619.5 675H621M622 675H626.5M627.5 675H630M631 675h0M589 676h0M606.5 676h0M608.5 676h0M610.5 676h0M612 676h0M613 676h0M614 676h0M615.5 676H616M617 676h0M618 676H618.5M619.5 676H621M622 676H627.5M629 676h0M630 676h0M631.5 676H632M633 676h0M596.5 676.5h0M604 676.5h0M606.5 676.5h0M608.5 676.5h0M610.5 676.5h0M612 676.5h0M613 676.5h0M614 676.5h0M615.5 676.5H616M617 676.5h0M618 676.5H618.5M619.5 676.5H621M622 676.5H626M627.5 676.5H628M629 676.5h0M630 676.5H631M589 677.5h0M601 677.5h0M604 677.5h0M606.5 677.5h0M608.5 677.5h0M610.5 677.5h0M612 677.5h0M613 677.5h0M614 677.5h0M615.5 677.5H616M617 677.5h0M618 677.5H618.5M619.5 677.5H621M622 677.5H626.5M627.5 677.5h0M629 677.5h0M630 677.5h0M589 678.5h0M596.5 678.5h0M601 678.5h0M604 678.5h0M606.5 678.5h0M608.5 678.5h0M610.5 678.5h0M612 678.5h0M613 678.5h0M614 678.5h0M615.5 678.5H616M617 678.5h0M618 678.5H618.5M619.5 678.5H621M622 678.5H626.5M627.5 678.5H629M630 678.5h0M632 678.5H632.5M589 679.5h0M596.5 679.5h0M601 679.5h0M604 679.5h0M606.5 679.5h0M608.5 679.5h0M610.5 679.5h0M612 679.5h0M613 679.5h0M614 679.5h0M615.5 679.5H616M617 679.5h0M618 679.5H618.5M619.5 679.5H621M622 679.5H625M626 679.5h0M627 679.5H627.5M628.5 679.5h0M631 679.5h0M589 680.5h0M596.5 680.5h0M601 680.5h0M604 680.5h0M606.5 680.5h0M608.5 680.5h0M610.5 680.5h0M612 680.5h0M613 680.5h0M614 680.5h0M615.5 680.5H616M617 680.5h0M618 680.5H618.5M619.5 680.5H621M622 680.5H624.5M625.5 680.5h0M626.5 680.5H629.5M631 680.5h0M635.5 680.5h0M589 681.5h0M596.5 681.5h0M601 681.5h0M604 681.5h0M606.5 681.5h0M608.5 681.5h0M610.5 681.5h0M612 681.5h0M613 681.5h0M614 681.5h0M615.5 681.5H616M617 681.5h0M618 681.5H618.5M619.5 681.5H621M622 681.5H626M627.5 681.5H628.5M589 683h0M596.5 683h0M601 683h0M604 683h0M606.5 683h0M608.5 683h0M610.5 683h0M612 683h0M613 683h0M614 683h0M615.5 683H616M617 683h0M618 683H618.5M619.5 683H621M622 683H624.5M625.5 683H626.5M629.5 683h0M633 683h0M589 684.5h0M596.5 684.5h0M601 684.5h0M604 684.5h0M606.5 684.5h0M608.5 684.5h0M610.5 684.5h0M612 684.5h0M613 684.5h0M614 684.5h0M615.5 684.5H616M617 684.5h0M618 684.5H618.5M619.5 684.5H621M622 684.5H624M625 684.5H625.5M626.5 684.5h0M627.5 684.5H628.5M589 686.5h0M596.5 686.5h0M601 686.5h0M604 686.5h0M606.5 686.5h0M608.5 686.5h0M610.5 686.5h0M612 686.5h0M613 686.5h0M614 686.5h0M615.5 686.5H616M617 686.5h0M618 686.5H618.5M619.5 686.5H621M622 686.5H625.5M627.5 686.5h0M629 686.5h0M630.5 686.5h0M589 689h0M596.5 689h0M601 689h0M604 689h0M606.5 689h0M608.5 689h0M610.5 689h0M612 689h0M613 689h0M614 689h0M615.5 689H616M617 689h0M618 689H618.5M619.5 689H621M622 689H623.5M624.5 689H626M627 689h0M628 689h0M629 689h0M589 692h0M596.5 692h0M601 692h0M604 692h0M606.5 692h0M608.5 692h0M610.5 692h0M612 692h0M613 692h0M614 692h0M615.5 692H616M617 692h0M618 692H618.5M619.5 692H621M622 692h0M623 692h0M624 692H625M589 696h0M596.5 696h0M601 696h0M604 696h0M606.5 696h0M608.5 696h0M610.5 696h0M612 696h0M613 696h0M614 696h0M615.5 696H616M617 696h0M618 696H618.5M619.5 696H621M623.5 696H624M589 703h0M596.5 703h0M601 703h0M604 703h0M606.5 703h0M608.5 703h0M610.5 703h0M612 703h0M613 703h0M614 703h0M615.5 703H616M617 703h0M618 703H618.5M620 703H620.5M622.5 703h0" stroke="#A52A2A" stroke-width="1.75" stroke-linecap="round" fill="none"/><line x1="584.3" y1="621.8" x2="584.3" y2="707.6" stroke="#505050" stroke-width="1"/><line x1="583.8" y1="707.1" x2="676.6" y2="707.1" stroke="#505050" stroke-width="1"/><line x1="582.8" y1="628.4" x2="584.3" y2="628.4" stroke="#4d4d4d" stroke-width="0.6"/><text transform="translate(582.1 630.8) scale(0.810 1)" font-size="6.8" text-anchor="end" fill="#1a1a1a" stroke="#1a1a1a" stroke-width="0.22">1000</text><line x1="582.8" y1="652.1" x2="584.3" y2="652.1" stroke="#4d4d4d" stroke-width="0.6"/><text transform="translate(582.1 654.5) scale(0.810 1)" font-size="6.8" text-anchor="end" fill="#1a1a1a" stroke="#1a1a1a" stroke-width="0.22">100</text><line x1="582.8" y1="675.7" x2="584.3" y2="675.7" stroke="#4d4d4d" stroke-width="0.6"/><text transform="translate(582.1 678.1) scale(0.810 1)" font-size="6.8" text-anchor="end" fill="#1a1a1a" stroke="#1a1a1a" stroke-width="0.22">10</text><line x1="582.8" y1="699.4" x2="584.3" y2="699.4" stroke="#4d4d4d" stroke-width="0.6"/><text transform="translate(582.1 701.8) scale(0.810 1)" font-size="6.8" text-anchor="end" fill="#1a1a1a" stroke="#1a1a1a" stroke-width="0.22">1</text><line x1="593" y1="707.1" x2="593" y2="708.6" stroke="#4d4d4d" stroke-width="0.6"/><text transform="translate(593 716.5) scale(0.810 1)" font-size="6.8" text-anchor="middle" fill="#1a1a1a" stroke="#1a1a1a" stroke-width="0.22">1</text><line x1="618.8" y1="707.1" x2="618.8" y2="708.6" stroke="#4d4d4d" stroke-width="0.6"/><text transform="translate(618.8 716.5) scale(0.810 1)" font-size="6.8" text-anchor="middle" fill="#1a1a1a" stroke="#1a1a1a" stroke-width="0.22">10</text><line x1="644.2" y1="707.1" x2="644.2" y2="708.6" stroke="#4d4d4d" stroke-width="0.6"/><text transform="translate(644.2 716.5) scale(0.810 1)" font-size="6.8" text-anchor="middle" fill="#1a1a1a" stroke="#1a1a1a" stroke-width="0.22">100</text><line x1="668.4" y1="707.1" x2="668.4" y2="708.6" stroke="#4d4d4d" stroke-width="0.6"/><text transform="translate(668.4 716.5) scale(0.810 1)" font-size="6.8" text-anchor="middle" fill="#1a1a1a" stroke="#1a1a1a" stroke-width="0.22">1000</text><text transform="translate(630.7 724.2)" font-size="6.4" font-weight="bold" text-anchor="middle" fill="#111111" stroke="#111111" stroke-width="0.11">Rep3</text><text transform="translate(571.31 670) rotate(-90)" font-size="6.7" font-weight="bold" text-anchor="middle" fill="#111111" stroke="#111111" stroke-width="0.11">Rep2</text><text transform="translate(592.7 633.6) scale(0.900 1)" font-size="6.3" text-anchor="start" fill="#111111" stroke="#111111" stroke-width="0.22">Known isoforms</text><text transform="translate(592.7 640.4) scale(0.9 1)" font-size="6.3" fill="#111111" stroke="#111111" stroke-width="0.22"><tspan font-style="italic">r</tspan>=0.985</text><text transform="translate(1.2 567)" font-size="15.8" font-weight="bold" text-anchor="start" fill="#111111" stroke="#111111" stroke-width="0.11">h</text><clipPath id="gbc"><rect x="40.9" y="557.2" width="276.6" height="14.3" rx="5.5"/></clipPath><g clip-path="url(#gbc)"><rect x="40" y="557" width="148.1" height="15" fill="#66BDD8"/><rect x="188.1" y="557" width="130" height="15" fill="#72BF95"/></g><line x1="188.1" y1="557.3" x2="188.1" y2="571.4" stroke="#3a6b58" stroke-width="0.5"/><rect x="40.9" y="557.2" width="276.6" height="14.3" rx="5.5" fill="none" stroke="#3a3a3a" stroke-width="0.8"/><line x1="38" y1="564.4" x2="314.8" y2="564.4" stroke="#333" stroke-width="0.8"/><rect x="54.6" y="559" width="9.1" height="10.7" fill="#231F20"/><rect x="73.5" y="559" width="2.1" height="10.7" fill="#231F20"/><rect x="77.6" y="559" width="2.1" height="10.7" fill="#231F20"/><rect x="118.4" y="559" width="2.1" height="10.7" fill="#231F20"/><rect x="131.5" y="559" width="2" height="10.7" fill="#231F20"/><rect x="142.4" y="559" width="2.1" height="10.7" fill="#231F20"/><rect x="166.9" y="559" width="2.1" height="10.7" fill="#231F20"/><rect x="172.6" y="559" width="2.2" height="10.7" fill="#231F20"/><rect x="175.8" y="559" width="1.9" height="10.7" fill="#231F20"/><rect x="179.4" y="559" width="2.2" height="10.7" fill="#231F20"/><rect x="192.2" y="559" width="0.7" height="10.7" fill="#231F20"/><rect x="193.7" y="559" width="0.7" height="10.7" fill="#231F20"/><rect x="196.8" y="559" width="2" height="10.7" fill="#231F20"/><rect x="202.2" y="559" width="2" height="10.7" fill="#231F20"/><rect x="208" y="559" width="2.3" height="10.7" fill="#231F20"/><rect x="220.1" y="559" width="2.2" height="10.7" fill="#231F20"/><rect x="301.1" y="559" width="6.1" height="10.7" fill="#231F20"/><path d="M100.4 562.3Q97.9 564.4 100.4 566.5" fill="none" stroke="#333" stroke-width="0.9" stroke-linecap="round"/><path d="M254.6 562.3Q252.1 564.4 254.6 566.5" fill="none" stroke="#333" stroke-width="0.9" stroke-linecap="round"/><text transform="translate(162.4 582.6)" font-size="9" font-style="italic" text-anchor="start" fill="#111111" stroke="#111111" stroke-width="0.22">ALK</text><text transform="translate(195.6 582.6)" font-size="9" font-style="italic" text-anchor="start" fill="#111111" stroke="#111111" stroke-width="0.22">EML4</text><text transform="translate(1 592.7)" font-size="9.5" text-anchor="start" fill="#111111" stroke="#111111" stroke-width="0.22">T100563</text><line x1="53.3" y1="588.5" x2="173.2" y2="588.5" stroke="#505050" stroke-width="0.95"/><path d="M100.4 586.4Q98 588.5 100.4 590.6" fill="none" stroke="#505050" stroke-width="0.9" stroke-linecap="round"/><rect x="54.8" y="585.2" width="9" height="6.6" fill="#62BEDB" stroke="#3a3a3a" stroke-width="0.55"/><rect x="74" y="585.2" width="2" height="6.6" fill="#62BEDB" stroke="#3a3a3a" stroke-width="0.55"/><rect x="77.8" y="585.2" width="2.1" height="6.6" fill="#62BEDB" stroke="#3a3a3a" stroke-width="0.55"/><rect x="118.4" y="585.2" width="2.2" height="6.6" fill="#62BEDB" stroke="#3a3a3a" stroke-width="0.55"/><rect x="131.5" y="585.2" width="2.1" height="6.6" fill="#62BEDB" stroke="#3a3a3a" stroke-width="0.55"/><rect x="142.6" y="585.2" width="2.2" height="6.6" fill="#62BEDB" stroke="#3a3a3a" stroke-width="0.55"/><rect x="167.6" y="585.2" width="2.1" height="6.6" fill="#62BEDB" stroke="#3a3a3a" stroke-width="0.55"/><text transform="translate(1 602.6)" font-size="9.5" text-anchor="start" fill="#111111" stroke="#111111" stroke-width="0.22">T191059</text><line x1="204.5" y1="599.5" x2="316.9" y2="599.5" stroke="#505050" stroke-width="0.95"/><path d="M255.6 597.4Q253.2 599.5 255.6 601.6" fill="none" stroke="#505050" stroke-width="0.9" stroke-linecap="round"/><rect x="208.1" y="596.2" width="2.3" height="6.6" fill="#70BF92" stroke="#3a3a3a" stroke-width="0.55"/><rect x="220.1" y="596.2" width="2.4" height="6.6" fill="#70BF92" stroke="#3a3a3a" stroke-width="0.55"/><rect x="301.1" y="596.2" width="6.2" height="6.6" fill="#70BF92" stroke="#3a3a3a" stroke-width="0.55"/><text transform="translate(1 613.2)" font-size="9.5" text-anchor="start" fill="#111111" stroke="#111111" stroke-width="0.22">T1371708</text><line x1="194.2" y1="609.5" x2="316.9" y2="609.5" stroke="#505050" stroke-width="0.95"/><path d="M255.6 607.4Q253.2 609.5 255.6 611.6" fill="none" stroke="#505050" stroke-width="0.9" stroke-linecap="round"/><rect x="202.4" y="606.2" width="2.2" height="6.6" fill="#70BF92" stroke="#3a3a3a" stroke-width="0.55"/><rect x="208.1" y="606.2" width="2.3" height="6.6" fill="#70BF92" stroke="#3a3a3a" stroke-width="0.55"/><rect x="220.1" y="606.2" width="2.4" height="6.6" fill="#70BF92" stroke="#3a3a3a" stroke-width="0.55"/><rect x="301.1" y="606.2" width="6.2" height="6.6" fill="#70BF92" stroke="#3a3a3a" stroke-width="0.55"/><text transform="translate(1 623.3)" font-size="9.5" text-anchor="start" fill="#111111" stroke="#111111" stroke-width="0.22">T1156365</text><line x1="189.9" y1="620.5" x2="316.9" y2="620.5" stroke="#b0b0b0" stroke-width="0.95"/><path d="M255.6 618.4Q253.2 620.5 255.6 622.6" fill="none" stroke="#b0b0b0" stroke-width="0.9" stroke-linecap="round"/><rect x="197.3" y="617.2" width="2.2" height="6.6" fill="#70BF92" stroke="#3a3a3a" stroke-width="0.55"/><rect x="202.4" y="617.2" width="2.2" height="6.6" fill="#70BF92" stroke="#3a3a3a" stroke-width="0.55"/><rect x="208.1" y="617.2" width="2.3" height="6.6" fill="#70BF92" stroke="#3a3a3a" stroke-width="0.55"/><rect x="220.1" y="617.2" width="2.4" height="6.6" fill="#70BF92" stroke="#3a3a3a" stroke-width="0.55"/><rect x="301.1" y="617.2" width="6.2" height="6.6" fill="#70BF92" stroke="#3a3a3a" stroke-width="0.55"/><line x1="194.1" y1="617.6" x2="194.1" y2="624.8" stroke="#222" stroke-width="0.85"/><text transform="translate(1 633.3)" font-size="9.5" text-anchor="start" fill="#111111" stroke="#111111" stroke-width="0.22">T48449</text><line x1="204.5" y1="630.5" x2="316.9" y2="630.5" stroke="#505050" stroke-width="0.95"/><path d="M255.6 628.4Q253.2 630.5 255.6 632.6" fill="none" stroke="#505050" stroke-width="0.9" stroke-linecap="round"/><rect x="208.1" y="627.2" width="2.3" height="6.6" fill="#70BF92" stroke="#3a3a3a" stroke-width="0.55"/><rect x="220.1" y="627.2" width="2.4" height="6.6" fill="#70BF92" stroke="#3a3a3a" stroke-width="0.55"/><rect x="301.1" y="627.2" width="6.2" height="6.6" fill="#70BF92" stroke="#3a3a3a" stroke-width="0.55"/><text transform="translate(1 642.8)" font-size="9.5" text-anchor="start" fill="#111111" stroke="#111111" stroke-width="0.22">T4237953</text><line x1="53.3" y1="640.5" x2="316.9" y2="640.5" stroke="#505050" stroke-width="0.95"/><path d="M100.4 638.4Q98 640.5 100.4 642.6" fill="none" stroke="#505050" stroke-width="0.9" stroke-linecap="round"/><path d="M255.6 638.4Q253.2 640.5 255.6 642.6" fill="none" stroke="#505050" stroke-width="0.9" stroke-linecap="round"/><rect x="54.8" y="637.2" width="9" height="6.6" fill="#62BEDB" stroke="#3a3a3a" stroke-width="0.55"/><rect x="74" y="637.2" width="2" height="6.6" fill="#62BEDB" stroke="#3a3a3a" stroke-width="0.55"/><rect x="77.8" y="637.2" width="2.1" height="6.6" fill="#62BEDB" stroke="#3a3a3a" stroke-width="0.55"/><rect x="118.4" y="637.2" width="2.2" height="6.6" fill="#62BEDB" stroke="#3a3a3a" stroke-width="0.55"/><rect x="131.5" y="637.2" width="2.1" height="6.6" fill="#62BEDB" stroke="#3a3a3a" stroke-width="0.55"/><rect x="142.6" y="637.2" width="2.2" height="6.6" fill="#62BEDB" stroke="#3a3a3a" stroke-width="0.55"/><rect x="167.6" y="637.2" width="2.1" height="6.6" fill="#62BEDB" stroke="#3a3a3a" stroke-width="0.55"/><rect x="172.6" y="637.2" width="2.1" height="6.6" fill="#62BEDB" stroke="#3a3a3a" stroke-width="0.55"/><rect x="175.8" y="637.2" width="2" height="6.6" fill="#62BEDB" stroke="#3a3a3a" stroke-width="0.55"/><rect x="179.6" y="637.2" width="2.1" height="6.6" fill="#62BEDB" stroke="#3a3a3a" stroke-width="0.55"/><rect x="197.3" y="637.2" width="2.2" height="6.6" fill="#70BF92" stroke="#3a3a3a" stroke-width="0.55"/><rect x="202.4" y="637.2" width="2.2" height="6.6" fill="#70BF92" stroke="#3a3a3a" stroke-width="0.55"/><rect x="208.1" y="637.2" width="2.3" height="6.6" fill="#70BF92" stroke="#3a3a3a" stroke-width="0.55"/><rect x="220.1" y="637.2" width="2.4" height="6.6" fill="#70BF92" stroke="#3a3a3a" stroke-width="0.55"/><rect x="301.1" y="637.2" width="6.2" height="6.6" fill="#70BF92" stroke="#3a3a3a" stroke-width="0.55"/><text transform="translate(1 655.5)" font-size="9.5" text-anchor="start" fill="#111111" stroke="#111111" stroke-width="0.22">T1877293</text><line x1="53.3" y1="652.5" x2="316.9" y2="652.5" stroke="#505050" stroke-width="0.95"/><path d="M100.4 650.4Q98 652.5 100.4 654.6" fill="none" stroke="#505050" stroke-width="0.9" stroke-linecap="round"/><path d="M255.6 650.4Q253.2 652.5 255.6 654.6" fill="none" stroke="#505050" stroke-width="0.9" stroke-linecap="round"/><rect x="54.8" y="649.2" width="9" height="6.6" fill="#62BEDB" stroke="#3a3a3a" stroke-width="0.55"/><rect x="74" y="649.2" width="2" height="6.6" fill="#62BEDB" stroke="#3a3a3a" stroke-width="0.55"/><rect x="77.8" y="649.2" width="2.1" height="6.6" fill="#62BEDB" stroke="#3a3a3a" stroke-width="0.55"/><rect x="118.4" y="649.2" width="2.2" height="6.6" fill="#62BEDB" stroke="#3a3a3a" stroke-width="0.55"/><rect x="131.5" y="649.2" width="2.1" height="6.6" fill="#62BEDB" stroke="#3a3a3a" stroke-width="0.55"/><rect x="142.6" y="649.2" width="2.2" height="6.6" fill="#62BEDB" stroke="#3a3a3a" stroke-width="0.55"/><rect x="167.6" y="649.2" width="2.1" height="6.6" fill="#62BEDB" stroke="#3a3a3a" stroke-width="0.55"/><rect x="172.6" y="649.2" width="2.1" height="6.6" fill="#62BEDB" stroke="#3a3a3a" stroke-width="0.55"/><rect x="175.8" y="649.2" width="2" height="6.6" fill="#62BEDB" stroke="#3a3a3a" stroke-width="0.55"/><rect x="179.6" y="649.2" width="2.1" height="6.6" fill="#62BEDB" stroke="#3a3a3a" stroke-width="0.55"/><rect x="197.3" y="649.2" width="2.2" height="6.6" fill="#70BF92" stroke="#3a3a3a" stroke-width="0.55"/><rect x="202.4" y="649.2" width="2.2" height="6.6" fill="#70BF92" stroke="#3a3a3a" stroke-width="0.55"/><rect x="208.1" y="649.2" width="2.3" height="6.6" fill="#70BF92" stroke="#3a3a3a" stroke-width="0.55"/><rect x="220.1" y="649.2" width="2.4" height="6.6" fill="#70BF92" stroke="#3a3a3a" stroke-width="0.55"/><rect x="301.1" y="649.2" width="6.2" height="6.6" fill="#70BF92" stroke="#3a3a3a" stroke-width="0.55"/><text transform="translate(1 666.1)" font-size="9.5" text-anchor="start" fill="#111111" stroke="#111111" stroke-width="0.22">T3420509</text><line x1="53.3" y1="663.5" x2="316.9" y2="663.5" stroke="#505050" stroke-width="0.95"/><path d="M100.4 661.4Q98 663.5 100.4 665.6" fill="none" stroke="#505050" stroke-width="0.9" stroke-linecap="round"/><path d="M255.6 661.4Q253.2 663.5 255.6 665.6" fill="none" stroke="#505050" stroke-width="0.9" stroke-linecap="round"/><rect x="54.8" y="660.2" width="9" height="6.6" fill="#62BEDB" stroke="#3a3a3a" stroke-width="0.55"/><rect x="74" y="660.2" width="2" height="6.6" fill="#62BEDB" stroke="#3a3a3a" stroke-width="0.55"/><rect x="77.8" y="660.2" width="2.1" height="6.6" fill="#62BEDB" stroke="#3a3a3a" stroke-width="0.55"/><rect x="118.4" y="660.2" width="2.2" height="6.6" fill="#62BEDB" stroke="#3a3a3a" stroke-width="0.55"/><rect x="131.5" y="660.2" width="2.1" height="6.6" fill="#62BEDB" stroke="#3a3a3a" stroke-width="0.55"/><rect x="142.6" y="660.2" width="2.2" height="6.6" fill="#62BEDB" stroke="#3a3a3a" stroke-width="0.55"/><rect x="167.6" y="660.2" width="2.1" height="6.6" fill="#62BEDB" stroke="#3a3a3a" stroke-width="0.55"/><rect x="172.6" y="660.2" width="2.1" height="6.6" fill="#62BEDB" stroke="#3a3a3a" stroke-width="0.55"/><rect x="175.8" y="660.2" width="2" height="6.6" fill="#62BEDB" stroke="#3a3a3a" stroke-width="0.55"/><rect x="179.6" y="660.2" width="2.1" height="6.6" fill="#62BEDB" stroke="#3a3a3a" stroke-width="0.55"/><rect x="197.3" y="660.2" width="2.2" height="6.6" fill="#70BF92" stroke="#3a3a3a" stroke-width="0.55"/><rect x="202.4" y="660.2" width="2.2" height="6.6" fill="#70BF92" stroke="#3a3a3a" stroke-width="0.55"/><rect x="208.1" y="660.2" width="2.3" height="6.6" fill="#70BF92" stroke="#3a3a3a" stroke-width="0.55"/><rect x="220.1" y="660.2" width="2.4" height="6.6" fill="#70BF92" stroke="#3a3a3a" stroke-width="0.55"/><rect x="301.1" y="660.2" width="6.2" height="6.6" fill="#70BF92" stroke="#3a3a3a" stroke-width="0.55"/><text transform="translate(1 676.6)" font-size="9.5" text-anchor="start" fill="#111111" stroke="#111111" stroke-width="0.22">T4186817</text><line x1="53.3" y1="673.5" x2="316.9" y2="673.5" stroke="#b8b8b8" stroke-width="0.95"/><path d="M100.4 671.4Q98 673.5 100.4 675.6" fill="none" stroke="#b8b8b8" stroke-width="0.9" stroke-linecap="round"/><path d="M255.6 671.4Q253.2 673.5 255.6 675.6" fill="none" stroke="#b8b8b8" stroke-width="0.9" stroke-linecap="round"/><rect x="54.8" y="670.2" width="9" height="6.6" fill="#62BEDB" stroke="#3a3a3a" stroke-width="0.55"/><rect x="74" y="670.2" width="2" height="6.6" fill="#62BEDB" stroke="#3a3a3a" stroke-width="0.55"/><rect x="77.8" y="670.2" width="2.1" height="6.6" fill="#62BEDB" stroke="#3a3a3a" stroke-width="0.55"/><rect x="118.4" y="670.2" width="2.2" height="6.6" fill="#62BEDB" stroke="#3a3a3a" stroke-width="0.55"/><rect x="131.5" y="670.2" width="2.1" height="6.6" fill="#62BEDB" stroke="#3a3a3a" stroke-width="0.55"/><rect x="142.6" y="670.2" width="2.2" height="6.6" fill="#62BEDB" stroke="#3a3a3a" stroke-width="0.55"/><rect x="167.6" y="670.2" width="2.1" height="6.6" fill="#62BEDB" stroke="#3a3a3a" stroke-width="0.55"/><rect x="175.8" y="670.2" width="2" height="6.6" fill="#62BEDB" stroke="#3a3a3a" stroke-width="0.55"/><rect x="179.6" y="670.2" width="2.1" height="6.6" fill="#62BEDB" stroke="#3a3a3a" stroke-width="0.55"/><rect x="197.3" y="670.2" width="2.2" height="6.6" fill="#70BF92" stroke="#3a3a3a" stroke-width="0.55"/><rect x="202.4" y="670.2" width="2.2" height="6.6" fill="#70BF92" stroke="#3a3a3a" stroke-width="0.55"/><rect x="208.1" y="670.2" width="2.3" height="6.6" fill="#70BF92" stroke="#3a3a3a" stroke-width="0.55"/><rect x="220.1" y="670.2" width="2.4" height="6.6" fill="#70BF92" stroke="#3a3a3a" stroke-width="0.55"/><text transform="translate(1 687.6)" font-size="9.5" text-anchor="start" fill="#111111" stroke="#111111" stroke-width="0.22">T488307</text><line x1="53.3" y1="685.5" x2="316.9" y2="685.5" stroke="#505050" stroke-width="0.95"/><path d="M100.4 683.4Q98 685.5 100.4 687.6" fill="none" stroke="#505050" stroke-width="0.9" stroke-linecap="round"/><path d="M255.6 683.4Q253.2 685.5 255.6 687.6" fill="none" stroke="#505050" stroke-width="0.9" stroke-linecap="round"/><rect x="54.8" y="682.2" width="9" height="6.6" fill="#62BEDB" stroke="#3a3a3a" stroke-width="0.55"/><rect x="74" y="682.2" width="2" height="6.6" fill="#62BEDB" stroke="#3a3a3a" stroke-width="0.55"/><rect x="77.8" y="682.2" width="2.1" height="6.6" fill="#62BEDB" stroke="#3a3a3a" stroke-width="0.55"/><rect x="118.4" y="682.2" width="2.2" height="6.6" fill="#62BEDB" stroke="#3a3a3a" stroke-width="0.55"/><rect x="131.5" y="682.2" width="2.1" height="6.6" fill="#62BEDB" stroke="#3a3a3a" stroke-width="0.55"/><rect x="142.6" y="682.2" width="2.2" height="6.6" fill="#62BEDB" stroke="#3a3a3a" stroke-width="0.55"/><rect x="167.6" y="682.2" width="2.1" height="6.6" fill="#62BEDB" stroke="#3a3a3a" stroke-width="0.55"/><rect x="173.3" y="682.2" width="2.1" height="6.6" fill="#62BEDB" stroke="#3a3a3a" stroke-width="0.55"/><rect x="179.6" y="682.2" width="2.1" height="6.6" fill="#62BEDB" stroke="#3a3a3a" stroke-width="0.55"/><rect x="197.3" y="682.2" width="2.2" height="6.6" fill="#70BF92" stroke="#3a3a3a" stroke-width="0.55"/><rect x="202.4" y="682.2" width="2.2" height="6.6" fill="#70BF92" stroke="#3a3a3a" stroke-width="0.55"/><rect x="208.1" y="682.2" width="2.3" height="6.6" fill="#70BF92" stroke="#3a3a3a" stroke-width="0.55"/><rect x="220.1" y="682.2" width="2.4" height="6.6" fill="#70BF92" stroke="#3a3a3a" stroke-width="0.55"/><rect x="290.9" y="682.2" width="1.7" height="6.6" fill="#70BF92" stroke="#3a3a3a" stroke-width="0.55"/><rect x="301.1" y="682.2" width="6.2" height="6.6" fill="#70BF92" stroke="#3a3a3a" stroke-width="0.55"/><line x1="192.3" y1="682.6" x2="192.3" y2="689.8" stroke="#222" stroke-width="0.85"/><text transform="translate(1 699.6)" font-size="9.5" text-anchor="start" fill="#111111" stroke="#111111" stroke-width="0.22">T927358</text><line x1="53.3" y1="694.5" x2="316.9" y2="694.5" stroke="#505050" stroke-width="0.95"/><path d="M100.4 692.4Q98 694.5 100.4 696.6" fill="none" stroke="#505050" stroke-width="0.9" stroke-linecap="round"/><path d="M255.6 692.4Q253.2 694.5 255.6 696.6" fill="none" stroke="#505050" stroke-width="0.9" stroke-linecap="round"/><rect x="54.8" y="691.2" width="9" height="6.6" fill="#62BEDB" stroke="#3a3a3a" stroke-width="0.55"/><rect x="74" y="691.2" width="2" height="6.6" fill="#62BEDB" stroke="#3a3a3a" stroke-width="0.55"/><rect x="77.8" y="691.2" width="2.1" height="6.6" fill="#62BEDB" stroke="#3a3a3a" stroke-width="0.55"/><rect x="118.4" y="691.2" width="2.2" height="6.6" fill="#62BEDB" stroke="#3a3a3a" stroke-width="0.55"/><rect x="131.5" y="691.2" width="2.1" height="6.6" fill="#62BEDB" stroke="#3a3a3a" stroke-width="0.55"/><rect x="142.6" y="691.2" width="2.2" height="6.6" fill="#62BEDB" stroke="#3a3a3a" stroke-width="0.55"/><rect x="167.6" y="691.2" width="2.1" height="6.6" fill="#62BEDB" stroke="#3a3a3a" stroke-width="0.55"/><rect x="173.3" y="691.2" width="2.1" height="6.6" fill="#62BEDB" stroke="#3a3a3a" stroke-width="0.55"/><rect x="179.6" y="691.2" width="2.1" height="6.6" fill="#62BEDB" stroke="#3a3a3a" stroke-width="0.55"/><rect x="197.3" y="691.2" width="2.2" height="6.6" fill="#70BF92" stroke="#3a3a3a" stroke-width="0.55"/><rect x="202.4" y="691.2" width="2.2" height="6.6" fill="#70BF92" stroke="#3a3a3a" stroke-width="0.55"/><rect x="208.1" y="691.2" width="2.3" height="6.6" fill="#70BF92" stroke="#3a3a3a" stroke-width="0.55"/><rect x="220.1" y="691.2" width="2.4" height="6.6" fill="#70BF92" stroke="#3a3a3a" stroke-width="0.55"/><rect x="301.1" y="691.2" width="6.2" height="6.6" fill="#70BF92" stroke="#3a3a3a" stroke-width="0.55"/><line x1="192.3" y1="691.6" x2="192.3" y2="698.8" stroke="#222" stroke-width="0.85"/><text transform="translate(1 709.8)" font-size="9.5" text-anchor="start" fill="#111111" stroke="#111111" stroke-width="0.22">T2792820</text><line x1="53.3" y1="704.5" x2="316.9" y2="704.5" stroke="#505050" stroke-width="0.95"/><path d="M100.4 702.4Q98 704.5 100.4 706.6" fill="none" stroke="#505050" stroke-width="0.9" stroke-linecap="round"/><path d="M255.6 702.4Q253.2 704.5 255.6 706.6" fill="none" stroke="#505050" stroke-width="0.9" stroke-linecap="round"/><rect x="54.8" y="701.2" width="9" height="6.6" fill="#62BEDB" stroke="#3a3a3a" stroke-width="0.55"/><rect x="74" y="701.2" width="2" height="6.6" fill="#62BEDB" stroke="#3a3a3a" stroke-width="0.55"/><rect x="77.8" y="701.2" width="2.1" height="6.6" fill="#62BEDB" stroke="#3a3a3a" stroke-width="0.55"/><rect x="118.4" y="701.2" width="2.2" height="6.6" fill="#62BEDB" stroke="#3a3a3a" stroke-width="0.55"/><rect x="131.5" y="701.2" width="2.1" height="6.6" fill="#62BEDB" stroke="#3a3a3a" stroke-width="0.55"/><rect x="142.6" y="701.2" width="2.2" height="6.6" fill="#62BEDB" stroke="#3a3a3a" stroke-width="0.55"/><rect x="167.6" y="701.2" width="2.1" height="6.6" fill="#62BEDB" stroke="#3a3a3a" stroke-width="0.55"/><rect x="172.6" y="701.2" width="2.1" height="6.6" fill="#62BEDB" stroke="#3a3a3a" stroke-width="0.55"/><rect x="175.8" y="701.2" width="2" height="6.6" fill="#62BEDB" stroke="#3a3a3a" stroke-width="0.55"/><rect x="179.6" y="701.2" width="2.1" height="6.6" fill="#62BEDB" stroke="#3a3a3a" stroke-width="0.55"/><rect x="197.3" y="701.2" width="2.2" height="6.6" fill="#70BF92" stroke="#3a3a3a" stroke-width="0.55"/><rect x="202.4" y="701.2" width="2.2" height="6.6" fill="#70BF92" stroke="#3a3a3a" stroke-width="0.55"/><rect x="208.1" y="701.2" width="2.3" height="6.6" fill="#70BF92" stroke="#3a3a3a" stroke-width="0.55"/><rect x="220.1" y="701.2" width="2.4" height="6.6" fill="#70BF92" stroke="#3a3a3a" stroke-width="0.55"/><rect x="301.1" y="701.2" width="6.2" height="6.6" fill="#70BF92" stroke="#3a3a3a" stroke-width="0.55"/><line x1="192.3" y1="701.6" x2="192.3" y2="708.8" stroke="#222" stroke-width="0.85"/><text transform="translate(1 717.8)" font-size="9.5" text-anchor="start" fill="#111111" stroke="#111111" stroke-width="0.22">T2474507</text><line x1="53.3" y1="714.5" x2="316.9" y2="714.5" stroke="#505050" stroke-width="0.95"/><path d="M100.4 712.4Q98 714.5 100.4 716.6" fill="none" stroke="#505050" stroke-width="0.9" stroke-linecap="round"/><path d="M255.6 712.4Q253.2 714.5 255.6 716.6" fill="none" stroke="#505050" stroke-width="0.9" stroke-linecap="round"/><rect x="54.8" y="711.2" width="9" height="6.6" fill="#62BEDB" stroke="#3a3a3a" stroke-width="0.55"/><rect x="74" y="711.2" width="2" height="6.6" fill="#62BEDB" stroke="#3a3a3a" stroke-width="0.55"/><rect x="77.8" y="711.2" width="2.1" height="6.6" fill="#62BEDB" stroke="#3a3a3a" stroke-width="0.55"/><rect x="118.4" y="711.2" width="2.2" height="6.6" fill="#62BEDB" stroke="#3a3a3a" stroke-width="0.55"/><rect x="131.5" y="711.2" width="2.1" height="6.6" fill="#62BEDB" stroke="#3a3a3a" stroke-width="0.55"/><rect x="142.6" y="711.2" width="2.2" height="6.6" fill="#62BEDB" stroke="#3a3a3a" stroke-width="0.55"/><rect x="167.6" y="711.2" width="2.1" height="6.6" fill="#62BEDB" stroke="#3a3a3a" stroke-width="0.55"/><rect x="172.6" y="711.2" width="2.1" height="6.6" fill="#62BEDB" stroke="#3a3a3a" stroke-width="0.55"/><rect x="175.8" y="711.2" width="2" height="6.6" fill="#62BEDB" stroke="#3a3a3a" stroke-width="0.55"/><rect x="179.6" y="711.2" width="2.1" height="6.6" fill="#62BEDB" stroke="#3a3a3a" stroke-width="0.55"/><rect x="197.3" y="711.2" width="2.2" height="6.6" fill="#70BF92" stroke="#3a3a3a" stroke-width="0.55"/><rect x="202.4" y="711.2" width="2.2" height="6.6" fill="#70BF92" stroke="#3a3a3a" stroke-width="0.55"/><rect x="208.1" y="711.2" width="2.3" height="6.6" fill="#70BF92" stroke="#3a3a3a" stroke-width="0.55"/><rect x="220.1" y="711.2" width="2.4" height="6.6" fill="#70BF92" stroke="#3a3a3a" stroke-width="0.55"/><rect x="301.1" y="711.2" width="6.2" height="6.6" fill="#70BF92" stroke="#3a3a3a" stroke-width="0.55"/><line x1="194" y1="711.6" x2="194" y2="718.8" stroke="#222" stroke-width="0.85"/><text transform="translate(1 727.9)" font-size="9.5" text-anchor="start" fill="#111111" stroke="#111111" stroke-width="0.22">T4186816</text><line x1="53.3" y1="725.5" x2="316.9" y2="725.5" stroke="#505050" stroke-width="0.95"/><path d="M100.4 723.4Q98 725.5 100.4 727.6" fill="none" stroke="#505050" stroke-width="0.9" stroke-linecap="round"/><path d="M255.6 723.4Q253.2 725.5 255.6 727.6" fill="none" stroke="#505050" stroke-width="0.9" stroke-linecap="round"/><rect x="54.8" y="722.2" width="9" height="6.6" fill="#62BEDB" stroke="#3a3a3a" stroke-width="0.55"/><rect x="74" y="722.2" width="2" height="6.6" fill="#62BEDB" stroke="#3a3a3a" stroke-width="0.55"/><rect x="77.8" y="722.2" width="2.1" height="6.6" fill="#62BEDB" stroke="#3a3a3a" stroke-width="0.55"/><rect x="118.4" y="722.2" width="2.2" height="6.6" fill="#62BEDB" stroke="#3a3a3a" stroke-width="0.55"/><rect x="131.5" y="722.2" width="2.1" height="6.6" fill="#62BEDB" stroke="#3a3a3a" stroke-width="0.55"/><rect x="142.6" y="722.2" width="2.2" height="6.6" fill="#62BEDB" stroke="#3a3a3a" stroke-width="0.55"/><rect x="167.6" y="722.2" width="2.1" height="6.6" fill="#62BEDB" stroke="#3a3a3a" stroke-width="0.55"/><rect x="172.6" y="722.2" width="2.1" height="6.6" fill="#62BEDB" stroke="#3a3a3a" stroke-width="0.55"/><rect x="175.8" y="722.2" width="2" height="6.6" fill="#62BEDB" stroke="#3a3a3a" stroke-width="0.55"/><rect x="179.6" y="722.2" width="2.1" height="6.6" fill="#62BEDB" stroke="#3a3a3a" stroke-width="0.55"/><rect x="197.3" y="722.2" width="2.2" height="6.6" fill="#70BF92" stroke="#3a3a3a" stroke-width="0.55"/><rect x="202.4" y="722.2" width="2.2" height="6.6" fill="#70BF92" stroke="#3a3a3a" stroke-width="0.55"/><rect x="208.1" y="722.2" width="2.3" height="6.6" fill="#70BF92" stroke="#3a3a3a" stroke-width="0.55"/><rect x="220.1" y="722.2" width="2.4" height="6.6" fill="#70BF92" stroke="#3a3a3a" stroke-width="0.55"/><line x1="194" y1="722.6" x2="194" y2="729.8" stroke="#222" stroke-width="0.85"/><text transform="translate(1 738)" font-size="9.5" text-anchor="start" fill="#111111" stroke="#111111" stroke-width="0.22">T2417975</text><line x1="53.3" y1="734.5" x2="316.9" y2="734.5" stroke="#505050" stroke-width="0.95"/><path d="M100.4 732.4Q98 734.5 100.4 736.6" fill="none" stroke="#505050" stroke-width="0.9" stroke-linecap="round"/><path d="M255.6 732.4Q253.2 734.5 255.6 736.6" fill="none" stroke="#505050" stroke-width="0.9" stroke-linecap="round"/><rect x="54.8" y="731.2" width="9" height="6.6" fill="#62BEDB" stroke="#3a3a3a" stroke-width="0.55"/><rect x="74" y="731.2" width="2" height="6.6" fill="#62BEDB" stroke="#3a3a3a" stroke-width="0.55"/><rect x="77.8" y="731.2" width="2.1" height="6.6" fill="#62BEDB" stroke="#3a3a3a" stroke-width="0.55"/><rect x="118.4" y="731.2" width="2.2" height="6.6" fill="#62BEDB" stroke="#3a3a3a" stroke-width="0.55"/><rect x="131.5" y="731.2" width="2.1" height="6.6" fill="#62BEDB" stroke="#3a3a3a" stroke-width="0.55"/><rect x="142.6" y="731.2" width="2.2" height="6.6" fill="#62BEDB" stroke="#3a3a3a" stroke-width="0.55"/><rect x="167.6" y="731.2" width="2.1" height="6.6" fill="#62BEDB" stroke="#3a3a3a" stroke-width="0.55"/><rect x="197.3" y="731.2" width="2.2" height="6.6" fill="#70BF92" stroke="#3a3a3a" stroke-width="0.55"/><rect x="202.4" y="731.2" width="2.2" height="6.6" fill="#70BF92" stroke="#3a3a3a" stroke-width="0.55"/></svg></body></html>
